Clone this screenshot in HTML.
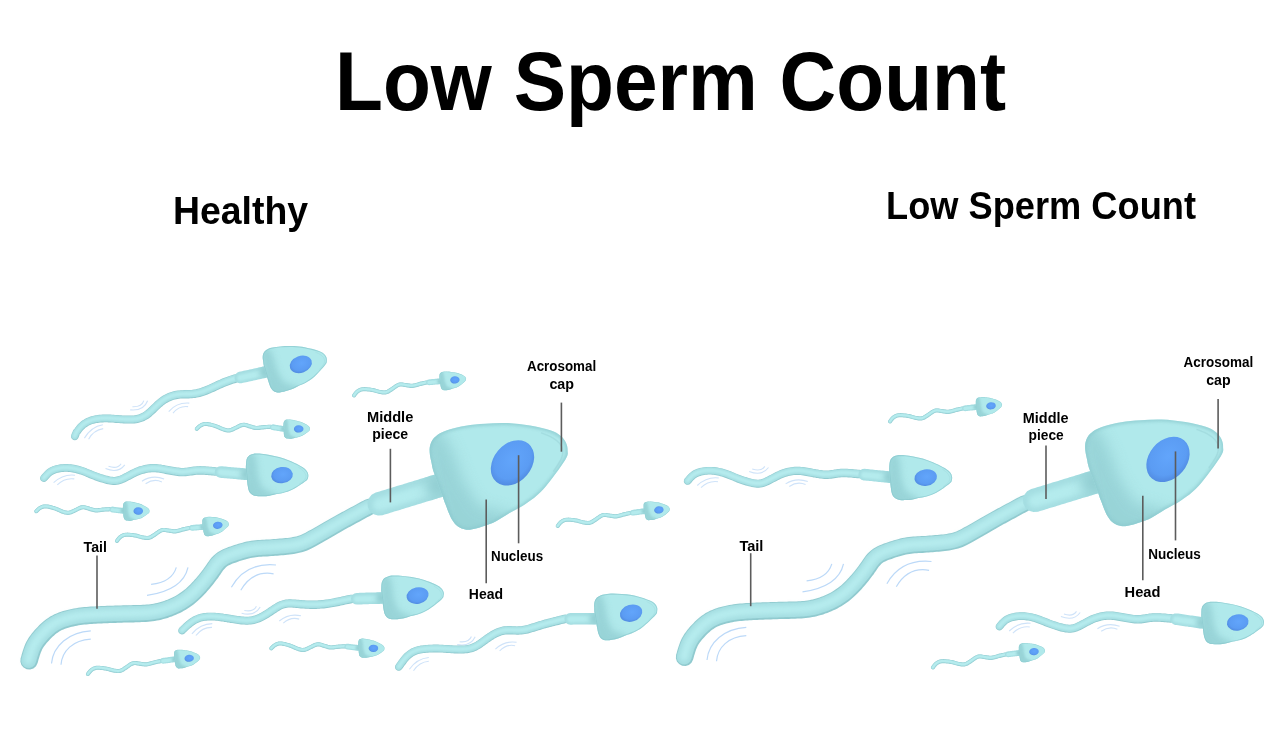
<!DOCTYPE html>
<html><head><meta charset="utf-8"><style>
html,body{margin:0;padding:0;background:#fff;}
body{width:1280px;height:738px;overflow:hidden;position:relative;font-family:"Liberation Sans",sans-serif;}
svg{position:absolute;left:0;top:0;}
.t{position:absolute;white-space:nowrap;font-weight:bold;color:#000;line-height:1;}
.tb{fill:#8fc9ce;}
.tm{fill:#a4dde1;}
.tl{fill:#b6ecee;}
.mb{fill:#a5dee2;}
.ml{fill:#b4ebed;}
.hd{fill:#b0e9eb;}
.nu{fill:url(#ng);}
.ar{fill:none;stroke:#bcd9f8;stroke-width:1.2;}
.ar2{fill:none;stroke:#cfe3f9;stroke-width:1.1;}
.ln{stroke:#5c5c5c;stroke-width:1.6;}
.tx text{font-family:"Liberation Sans",sans-serif;font-weight:bold;fill:#000;}
.tx{opacity:0.999;}
</style></head><body>
<svg width="1280" height="738" viewBox="0 0 1280 738">
<defs>
<radialGradient id="ng" cx="0.55" cy="0.45" r="0.6">
<stop offset="0" stop-color="#62a5fb"/><stop offset="0.7" stop-color="#5b9cf3"/><stop offset="1" stop-color="#4f88de"/>
</radialGradient>
</defs>
<g transform="translate(0,0)">
<path class="ar" d="M151.1,584.3 Q172,582 176.3,567.3"/>
<path class="ar" d="M147,595.4 Q183,590 188,567.3"/>
<path class="ar" d="M231.4,587.2 C240,572 255,563 276,565"/>
<path class="ar" d="M240.8,590.2 C248,578 258,571 273.6,573.8"/>
<path class="ar" d="M51.5,663.5 C53,646 69,632 90.8,630.9"/>
<path class="ar" d="M61,664.8 C62,651 73,640 90.8,639.1"/>
<path class="tb" d="M365.1,499.7 363.3,500.7 361.6,501.6 359.8,502.6 358,503.5 356.3,504.5 354.5,505.4 352.7,506.4 351,507.3 349.2,508.3 347.4,509.3 345.6,510.2 343.9,511.2 342.1,512.1 340.4,513.1 338.6,514.1 336.8,515 335.1,516 333.3,517 331.5,518 329.7,519 328,520 326.2,521 324.4,522 322.7,523 321,524 319.3,525 317.6,526 315.9,527 314.1,527.9 312.4,528.9 310.6,529.9 308.9,530.8 307.2,531.8 305.6,532.7 304,533.5 302.4,534.2 300.9,534.9 299.4,535.5 297.8,536 296.3,536.4 294.6,536.8 293,537.1 291.2,537.4 289.4,537.7 287.6,537.9 285.7,538.1 283.7,538.3 281.8,538.5 279.8,538.6 277.9,538.8 275.9,538.9 273.9,539.1 271.9,539.2 270,539.4 268,539.5 266.1,539.6 264.1,539.7 262.1,539.8 260,539.9 257.9,540 255.7,540.2 253.5,540.5 251.2,540.8 249,541.2 246.9,541.6 244.7,542.1 242.6,542.7 240.6,543.2 238.5,543.8 236.5,544.4 234.5,545.1 232.5,545.7 230.5,546.4 228.5,547.1 226.4,547.9 224.3,548.8 222.1,549.8 219.9,550.9 217.7,552.3 215.5,553.9 213.5,555.7 211.7,557.6 210.1,559.5 208.7,561.4 207.4,563.2 206.3,564.9 205.2,566.5 204.1,568 203.1,569.5 201.9,571 200.8,572.5 199.6,574 198.4,575.4 197.1,576.9 195.9,578.4 194.6,579.8 193.4,581.2 192.1,582.6 190.8,583.9 189.5,585.2 188.2,586.5 186.9,587.7 185.6,588.9 184.2,590 182.9,591.1 181.5,592.1 180,593.1 178.6,594.1 177.1,595 175.5,595.9 174,596.7 172.4,597.5 170.8,598.3 169.1,599 167.5,599.7 165.8,600.3 164.1,601 162.4,601.5 160.7,602.1 159,602.5 157.2,603 155.5,603.3 153.8,603.7 152,604 150.3,604.2 148.5,604.4 146.7,604.6 144.8,604.7 142.9,604.8 141,604.9 139.1,605 137.2,605 135.2,605.1 133.2,605.1 131.2,605.2 129.2,605.2 127.2,605.2 125.1,605.3 123.1,605.3 121.1,605.4 119.1,605.5 117.1,605.5 115.1,605.6 113.1,605.7 111.1,605.7 109.1,605.8 107,605.8 105,605.9 103,606 101,606.1 98.9,606.2 96.9,606.3 94.8,606.4 92.8,606.5 90.7,606.6 88.7,606.8 86.6,606.9 84.5,607.1 82.4,607.3 80.3,607.6 78.2,607.8 76.1,608.2 73.9,608.5 71.7,608.9 69.6,609.4 67.4,609.9 65.3,610.4 63.1,611.1 61,611.7 58.8,612.5 56.7,613.4 54.5,614.3 52.4,615.4 50.2,616.6 48.2,617.9 46.2,619.3 44.3,620.7 42.5,622.2 40.8,623.8 39.2,625.3 37.7,626.9 36.2,628.5 34.7,630.1 33.3,631.7 31.8,633.5 30.4,635.4 29,637.3 27.7,639.4 26.5,641.6 25.4,643.8 24.5,646 23.7,648.2 23,650.3 22.3,652.4 21.7,654.4 21.2,656.4 20.6,658.3 20.4,661.7 21.4,665 23.6,667.6 26.7,669.2 30.1,669.4 33.4,668.4 36,666.2 37.6,663.1 38.1,661.2 38.6,659.3 39.2,657.4 39.7,655.7 40.3,654 40.8,652.4 41.5,651 42.1,649.6 42.8,648.3 43.6,647 44.5,645.7 45.5,644.4 46.6,643.1 47.8,641.7 49,640.4 50.3,639.1 51.5,637.8 52.8,636.5 54.1,635.4 55.3,634.3 56.6,633.3 57.9,632.4 59.2,631.6 60.5,630.8 61.9,630.1 63.4,629.5 65,628.8 66.6,628.3 68.2,627.7 69.9,627.2 71.7,626.8 73.4,626.4 75.2,626 76.9,625.7 78.7,625.3 80.6,625.1 82.4,624.8 84.3,624.6 86.2,624.4 88.1,624.3 90,624.1 92,623.9 93.9,623.8 95.8,623.7 97.8,623.6 99.7,623.5 101.7,623.4 103.7,623.3 105.7,623.2 107.6,623.2 109.6,623.1 111.6,623 113.6,622.9 115.6,622.9 117.6,622.8 119.6,622.7 121.6,622.7 123.6,622.6 125.6,622.5 127.6,622.5 129.6,622.4 131.5,622.4 133.5,622.4 135.6,622.3 137.6,622.3 139.7,622.2 141.7,622.1 143.8,622 146,621.9 148.1,621.7 150.3,621.5 152.5,621.3 154.7,621 156.9,620.6 159,620.2 161.2,619.7 163.4,619.1 165.5,618.5 167.7,617.9 169.7,617.1 171.8,616.4 173.9,615.6 175.9,614.7 177.9,613.8 179.9,612.9 181.9,611.9 183.8,610.8 185.8,609.7 187.7,608.6 189.6,607.3 191.4,606 193.2,604.7 195,603.3 196.7,601.8 198.4,600.3 200,598.8 201.6,597.3 203.1,595.8 204.5,594.2 206,592.7 207.4,591.1 208.8,589.5 210.1,587.9 211.5,586.3 212.8,584.7 214.1,583 215.4,581.3 216.7,579.6 218,577.9 219.2,576.1 220.4,574.4 221.5,572.8 222.5,571.3 223.4,570 224.4,568.9 225.3,567.9 226.2,567.1 227.2,566.3 228.3,565.6 229.6,564.9 231.1,564.3 232.6,563.6 234.3,563 236.1,562.4 237.9,561.7 239.7,561.1 241.5,560.6 243.3,560 245.1,559.5 246.9,559 248.7,558.5 250.5,558.1 252.2,557.8 254,557.5 255.7,557.2 257.4,557 259.2,556.8 261.1,556.7 263,556.6 265,556.5 267,556.4 269.1,556.3 271.1,556.1 273.2,556 275.2,555.8 277.2,555.7 279.2,555.5 281.2,555.3 283.3,555.2 285.3,555 287.4,554.8 289.5,554.5 291.6,554.3 293.8,554 296,553.6 298.2,553.1 300.5,552.6 302.7,552 305,551.2 307.2,550.4 309.3,549.4 311.4,548.4 313.3,547.4 315.2,546.4 317,545.4 318.8,544.4 320.5,543.5 322.3,542.5 324,541.5 325.8,540.5 327.6,539.5 329.3,538.4 331.1,537.4 332.8,536.4 334.5,535.4 336.2,534.4 337.9,533.4 339.7,532.5 341.4,531.5 343.1,530.5 344.8,529.6 346.6,528.6 348.3,527.6 350.1,526.7 351.8,525.7 353.6,524.8 355.3,523.8 357.1,522.8 358.8,521.9 360.6,520.9 362.3,520 364.1,519 365.9,518.1 367.6,517.1 369.4,516.2 371.2,515.2 372.9,514.3 375.4,512.2 376.9,509.4 377.2,506.2 376.3,503.1 374.2,500.6 371.4,499.1 368.2,498.8Z"/>
<path class="tm" d="M365.5,500.5 363.8,501.5 362,502.4 360.2,503.4 358.5,504.3 356.7,505.3 354.9,506.2 353.2,507.2 351.4,508.1 349.6,509.1 347.8,510.1 346.1,511 344.3,512 342.6,512.9 340.8,513.9 339,514.9 337.3,515.8 335.5,516.8 333.7,517.8 332,518.8 330.2,519.8 328.4,520.8 326.7,521.8 324.9,522.8 323.2,523.8 321.4,524.8 319.7,525.8 318,526.8 316.3,527.8 314.6,528.7 312.8,529.7 311.1,530.7 309.4,531.6 307.6,532.6 306,533.5 304.4,534.3 302.8,535.1 301.2,535.7 299.7,536.3 298.1,536.9 296.5,537.3 294.8,537.7 293.1,538 291.3,538.3 289.5,538.6 287.7,538.8 285.8,539 283.8,539.2 281.9,539.4 279.9,539.5 277.9,539.7 276,539.8 274,540 272,540.1 270,540.3 268.1,540.4 266.2,540.5 264.2,540.6 262.2,540.7 260.1,540.8 258,541 255.8,541.2 253.6,541.4 251.4,541.7 249.2,542.1 247.1,542.6 245,543 242.9,543.6 240.8,544.1 238.8,544.7 236.8,545.3 234.8,545.9 232.8,546.6 230.8,547.3 228.8,548 226.8,548.8 224.7,549.6 222.5,550.6 220.4,551.7 218.2,553.1 216.1,554.6 214.2,556.4 212.4,558.2 210.8,560.1 209.4,562 208.2,563.7 207.1,565.4 206,567 204.9,568.6 203.8,570.1 202.7,571.6 201.5,573 200.3,574.5 199.1,576 197.8,577.5 196.6,579 195.3,580.4 194.1,581.8 192.8,583.2 191.5,584.6 190.2,585.9 188.8,587.2 187.5,588.4 186.2,589.6 184.8,590.8 183.4,591.9 182,592.9 180.6,593.9 179.1,594.9 177.5,595.8 176,596.7 174.4,597.5 172.8,598.4 171.1,599.1 169.5,599.9 167.8,600.6 166.1,601.2 164.4,601.8 162.7,602.4 160.9,603 159.2,603.4 157.5,603.9 155.7,604.3 154,604.6 152.2,604.9 150.4,605.2 148.6,605.4 146.7,605.5 144.9,605.7 143,605.8 141.1,605.9 139.1,605.9 137.2,606 135.2,606 133.2,606.1 131.2,606.1 129.2,606.1 127.2,606.2 125.2,606.2 123.1,606.3 121.1,606.3 119.1,606.4 117.1,606.5 115.1,606.5 113.1,606.6 111.1,606.7 109.1,606.7 107.1,606.8 105.1,606.9 103,606.9 101,607 99,607.1 96.9,607.2 94.9,607.3 92.8,607.4 90.8,607.6 88.7,607.7 86.7,607.9 84.6,608.1 82.5,608.3 80.4,608.5 78.3,608.8 76.2,609.1 74.1,609.4 71.9,609.8 69.8,610.3 67.7,610.8 65.5,611.4 63.4,612 61.3,612.6 59.2,613.4 57,614.2 54.9,615.2 52.8,616.2 50.7,617.4 48.7,618.7 46.7,620 44.9,621.5 43.1,623 41.5,624.5 39.9,626 38.4,627.6 36.9,629.1 35.4,630.7 34,632.4 32.5,634.1 31.1,635.9 29.8,637.9 28.5,639.9 27.3,642 26.3,644.2 25.4,646.4 24.6,648.5 23.9,650.6 23.3,652.7 22.7,654.7 22.1,656.6 21.6,658.5 21.3,661.4 22.2,664.2 24.1,666.4 26.6,667.7 29.5,667.9 32.3,667 34.5,665.2 35.8,662.6 36.3,660.7 36.9,658.8 37.4,656.9 38,655.1 38.5,653.4 39.1,651.8 39.8,650.2 40.5,648.8 41.2,647.4 42.1,646 43,644.6 44.1,643.3 45.2,641.9 46.4,640.5 47.7,639.1 48.9,637.8 50.2,636.5 51.6,635.2 52.9,634 54.2,632.9 55.5,631.8 56.8,630.9 58.2,630 59.7,629.2 61.2,628.5 62.7,627.8 64.3,627.1 66,626.5 67.7,626 69.4,625.5 71.2,625 73,624.6 74.8,624.2 76.6,623.8 78.5,623.5 80.3,623.3 82.2,623 84.1,622.8 86,622.6 87.9,622.4 89.9,622.3 91.8,622.1 93.8,622 95.7,621.9 97.7,621.8 99.7,621.7 101.6,621.6 103.6,621.5 105.6,621.4 107.6,621.3 109.6,621.3 111.6,621.2 113.6,621.1 115.6,621.1 117.6,621 119.6,620.9 121.6,620.9 123.6,620.8 125.5,620.7 127.5,620.7 129.5,620.6 131.5,620.6 133.5,620.5 135.5,620.5 137.6,620.5 139.6,620.4 141.7,620.3 143.7,620.2 145.8,620.1 148,619.9 150.1,619.7 152.2,619.5 154.4,619.2 156.5,618.8 158.7,618.4 160.8,617.9 162.9,617.4 165,616.8 167.1,616.1 169.1,615.4 171.2,614.7 173.2,613.9 175.2,613.1 177.2,612.2 179.1,611.3 181.1,610.3 183,609.3 184.9,608.2 186.7,607 188.6,605.8 190.4,604.6 192.2,603.3 193.9,601.9 195.6,600.5 197.2,599 198.8,597.5 200.3,596 201.8,594.5 203.2,593 204.7,591.4 206.1,589.9 207.4,588.3 208.8,586.7 210.1,585.1 211.4,583.5 212.7,581.9 214,580.3 215.3,578.6 216.5,576.8 217.7,575.1 218.9,573.4 220,571.8 221,570.2 222,568.9 223,567.7 224,566.6 225.1,565.7 226.2,564.9 227.5,564.1 228.8,563.3 230.4,562.6 232,562 233.7,561.3 235.5,560.7 237.3,560.1 239.2,559.4 241,558.9 242.8,558.3 244.6,557.8 246.5,557.3 248.3,556.8 250.1,556.4 251.9,556 253.7,555.7 255.5,555.4 257.3,555.2 259.1,555.1 261,554.9 262.9,554.8 264.9,554.7 266.9,554.6 269,554.5 271,554.4 273,554.2 275.1,554.1 277.1,553.9 279.1,553.7 281.1,553.6 283.1,553.4 285.1,553.2 287.2,553 289.3,552.8 291.4,552.5 293.5,552.2 295.6,551.9 297.8,551.4 300,550.9 302.2,550.3 304.4,549.6 306.5,548.7 308.6,547.8 310.6,546.9 312.5,545.9 314.4,544.9 316.2,543.9 317.9,542.9 319.7,541.9 321.4,540.9 323.2,540 325,538.9 326.7,537.9 328.5,536.9 330.2,535.9 331.9,534.9 333.7,533.9 335.4,532.9 337.1,531.9 338.8,530.9 340.5,530 342.3,529 344,528 345.7,527.1 347.5,526.1 349.2,525.1 351,524.2 352.7,523.2 354.5,522.3 356.3,521.3 358,520.4 359.8,519.4 361.5,518.4 363.3,517.5 365,516.5 366.8,515.6 368.6,514.6 370.3,513.7 372.1,512.7 374.2,511 375.4,508.6 375.7,505.9 374.9,503.3 373.2,501.3 370.8,500 368.1,499.7Z"/>
<path class="tl" d="M366.7,502.8 365,503.7 363.2,504.7 361.4,505.6 359.7,506.6 357.9,507.5 356.1,508.5 354.4,509.4 352.6,510.4 350.8,511.4 349.1,512.3 347.3,513.3 345.6,514.2 343.8,515.2 342,516.2 340.3,517.1 338.5,518.1 336.7,519.1 335,520 333.2,521 331.5,522 329.7,523 327.9,524 326.2,525.1 324.5,526.1 322.7,527.1 321,528.1 319.3,529 317.6,530 315.8,531 314.1,532 312.4,532.9 310.6,533.9 308.9,534.9 307.2,535.8 305.5,536.6 303.9,537.4 302.2,538.1 300.5,538.8 298.9,539.3 297.1,539.8 295.4,540.2 293.6,540.6 291.7,540.9 289.9,541.2 288,541.4 286,541.6 284.1,541.8 282.1,542 280.1,542.1 278.2,542.3 276.2,542.4 274.2,542.6 272.2,542.7 270.2,542.9 268.3,543 266.3,543.1 264.3,543.2 262.3,543.3 260.3,543.4 258.2,543.6 256.1,543.7 253.9,544 251.8,544.3 249.7,544.7 247.6,545.1 245.6,545.6 243.5,546.1 241.5,546.6 239.5,547.2 237.5,547.8 235.6,548.4 233.6,549.1 231.7,549.7 229.7,550.4 227.7,551.2 225.7,552 223.7,552.9 221.7,554 219.7,555.3 217.8,556.7 216,558.2 214.3,559.9 212.9,561.7 211.6,563.5 210.4,565.2 209.2,566.9 208.1,568.5 207,570.1 205.9,571.6 204.8,573.2 203.6,574.7 202.3,576.2 201.1,577.7 199.9,579.2 198.6,580.7 197.3,582.2 196,583.6 194.7,585 193.4,586.4 192,587.8 190.7,589.1 189.3,590.4 187.9,591.6 186.5,592.8 185,594 183.6,595.1 182,596.1 180.5,597.1 178.9,598.1 177.3,599 175.6,599.9 174,600.7 172.3,601.5 170.5,602.3 168.8,603 167,603.7 165.3,604.4 163.5,605 161.7,605.5 159.9,606 158.1,606.5 156.3,606.9 154.4,607.2 152.6,607.5 150.7,607.8 148.9,608 147,608.2 145.1,608.3 143.1,608.4 141.2,608.5 139.2,608.6 137.3,608.7 135.3,608.7 133.3,608.7 131.3,608.8 129.3,608.8 127.2,608.9 125.2,608.9 123.2,609 121.2,609 119.2,609.1 117.2,609.2 115.2,609.2 113.2,609.3 111.2,609.3 109.2,609.4 107.2,609.5 105.2,609.6 103.1,609.6 101.1,609.7 99.1,609.8 97.1,609.9 95,610 93,610.1 91,610.3 88.9,610.4 86.9,610.6 84.9,610.8 82.8,611 80.8,611.2 78.7,611.5 76.6,611.8 74.5,612.1 72.5,612.5 70.4,612.9 68.3,613.4 66.3,614 64.2,614.6 62.2,615.2 60.1,615.9 58.1,616.7 56.1,617.6 54.1,618.6 52.1,619.7 50.2,620.9 48.4,622.2 46.6,623.6 44.9,625 43.3,626.5 41.8,627.9 40.3,629.4 38.9,631 37.5,632.5 36.1,634.1 34.7,635.8 33.3,637.5 32.1,639.4 30.9,641.3 29.8,643.3 28.8,645.3 27.9,647.4 27.2,649.4 26.5,651.5 25.9,653.5 25.3,655.4 24.7,657.4 24.2,659.3 24.1,661 24.6,662.6 25.7,663.9 27.2,664.7 28.9,664.9 30.6,664.4 31.9,663.2 32.7,661.7 33.2,659.8 33.7,657.9 34.3,656 34.9,654.1 35.5,652.3 36.1,650.6 36.8,648.9 37.6,647.3 38.4,645.7 39.4,644.2 40.4,642.7 41.5,641.2 42.7,639.8 44,638.4 45.3,636.9 46.6,635.5 48,634.2 49.3,632.8 50.7,631.6 52.1,630.4 53.6,629.2 55,628.2 56.6,627.2 58.1,626.3 59.8,625.5 61.5,624.8 63.2,624.1 65,623.5 66.8,622.9 68.6,622.4 70.4,621.9 72.3,621.4 74.2,621 76.1,620.7 78,620.4 79.9,620.1 81.8,619.8 83.7,619.6 85.7,619.4 87.7,619.2 89.6,619.1 91.6,618.9 93.6,618.8 95.5,618.7 97.5,618.6 99.5,618.5 101.5,618.4 103.5,618.3 105.5,618.2 107.5,618.1 109.5,618.1 111.5,618 113.5,617.9 115.5,617.9 117.5,617.8 119.5,617.7 121.5,617.7 123.5,617.6 125.5,617.5 127.5,617.5 129.4,617.4 131.4,617.4 133.4,617.4 135.5,617.3 137.5,617.3 139.5,617.2 141.5,617.1 143.6,617 145.6,616.9 147.7,616.8 149.8,616.6 151.8,616.3 153.9,616 156,615.7 158,615.3 160.1,614.8 162.1,614.3 164.1,613.7 166.1,613.1 168.1,612.5 170.1,611.7 172,611 173.9,610.2 175.8,609.3 177.7,608.4 179.6,607.5 181.4,606.5 183.2,605.5 185,604.4 186.8,603.2 188.5,602 190.2,600.8 191.9,599.4 193.5,598.1 195.1,596.7 196.6,595.3 198.1,593.8 199.5,592.3 200.9,590.8 202.3,589.3 203.7,587.8 205,586.3 206.4,584.7 207.7,583.1 209,581.6 210.2,580 211.5,578.3 212.7,576.7 214,575 215.1,573.3 216.3,571.6 217.4,570 218.5,568.4 219.6,566.9 220.7,565.6 221.9,564.4 223.1,563.3 224.4,562.3 225.9,561.4 227.5,560.5 229.1,559.8 230.8,559.1 232.6,558.4 234.5,557.7 236.3,557.1 238.2,556.5 240.1,555.9 241.9,555.3 243.8,554.8 245.7,554.3 247.5,553.8 249.4,553.3 251.3,553 253.2,552.6 255,552.3 256.9,552.1 258.8,552 260.8,551.8 262.7,551.7 264.7,551.6 266.7,551.5 268.8,551.4 270.8,551.3 272.8,551.1 274.8,551 276.8,550.8 278.8,550.6 280.8,550.5 282.8,550.3 284.9,550.1 286.9,549.9 288.9,549.7 291,549.5 293,549.2 295.1,548.8 297.2,548.4 299.2,547.9 301.3,547.3 303.4,546.6 305.4,545.9 307.3,545 309.2,544.1 311.1,543.2 312.9,542.2 314.7,541.2 316.4,540.2 318.2,539.2 319.9,538.3 321.7,537.3 323.4,536.3 325.2,535.3 326.9,534.3 328.7,533.2 330.4,532.2 332.1,531.2 333.8,530.2 335.6,529.2 337.3,528.3 339,527.3 340.8,526.3 342.5,525.4 344.3,524.4 346,523.4 347.8,522.5 349.5,521.5 351.3,520.5 353,519.6 354.8,518.6 356.6,517.7 358.3,516.7 360.1,515.8 361.8,514.8 363.6,513.9 365.4,512.9 367.1,512 368.9,511 370.6,510.1 371.9,509 372.6,507.6 372.8,506 372.3,504.5 371.3,503.2 369.9,502.5 368.3,502.3Z" style="filter:blur(2.5px)"/>
<path class="mb" d="M382.6,515.2 384.5,514.6 386.5,514 388.4,513.4 390.3,512.8 392.2,512.2 394.1,511.6 396.1,511.1 398,510.5 399.9,509.9 401.8,509.3 403.7,508.7 405.7,508.1 407.6,507.5 409.5,506.9 411.4,506.3 413.3,505.8 415.3,505.2 417.2,504.6 419.1,504 421,503.4 422.9,502.8 424.9,502.2 426.8,501.6 428.7,501.1 430.6,500.5 432.6,499.9 434.5,499.3 436.4,498.7 438.3,498.1 440.2,497.5 442.2,496.9 446.2,494.8 449.1,491.2 450.4,486.8 450,482.2 447.8,478.1 444.2,475.2 439.8,473.9 435.2,474.4 433.3,475 431.4,475.5 429.5,476.1 427.6,476.7 425.6,477.3 423.7,477.9 421.8,478.5 419.9,479.1 418,479.7 416,480.3 414.1,480.8 412.2,481.4 410.3,482 408.4,482.6 406.4,483.2 404.5,483.8 402.6,484.4 400.7,485 398.7,485.5 396.8,486.1 394.9,486.7 393,487.3 391.1,487.9 389.1,488.5 387.2,489.1 385.3,489.7 383.4,490.3 381.5,490.8 379.5,491.4 377.6,492 375.7,492.6 371.6,494.8 368.7,498.4 367.4,502.8 367.9,507.3 370.1,511.4 373.6,514.3 378,515.6Z"/>
<path class="ml" d="M381.2,510.7 383.2,510.1 385.1,509.5 387,509 388.9,508.4 390.8,507.8 392.8,507.2 394.7,506.6 396.6,506 398.5,505.4 400.5,504.8 402.4,504.2 404.3,503.7 406.2,503.1 408.1,502.5 410.1,501.9 412,501.3 413.9,500.7 415.8,500.1 417.7,499.5 419.7,498.9 421.6,498.4 423.5,497.8 425.4,497.2 427.3,496.6 429.3,496 431.2,495.4 433.1,494.8 435,494.2 436.9,493.7 438.9,493.1 440.8,492.5 443,491.3 444.6,489.3 445.4,486.9 445.1,484.4 443.9,482.1 441.9,480.5 439.5,479.8 437,480.1 435.1,480.7 433.1,481.2 431.2,481.8 429.3,482.4 427.4,483 425.5,483.6 423.5,484.2 421.6,484.8 419.7,485.4 417.8,485.9 415.9,486.5 413.9,487.1 412,487.7 410.1,488.3 408.2,488.9 406.3,489.5 404.3,490.1 402.4,490.7 400.5,491.2 398.6,491.8 396.7,492.4 394.7,493 392.8,493.6 390.9,494.2 389,494.8 387,495.4 385.1,496 383.2,496.5 381.3,497.1 379.4,497.7 377.4,498.3 375.2,499.5 373.6,501.5 372.9,503.9 373.1,506.4 374.3,508.6 376.3,510.2 378.7,511Z" style="filter:blur(2.5px)"/>
<clipPath id="m1"><path d="M382.6,515.2 384.5,514.6 386.5,514 388.4,513.4 390.3,512.8 392.2,512.2 394.1,511.6 396.1,511.1 398,510.5 399.9,509.9 401.8,509.3 403.7,508.7 405.7,508.1 407.6,507.5 409.5,506.9 411.4,506.3 413.3,505.8 415.3,505.2 417.2,504.6 419.1,504 421,503.4 422.9,502.8 424.9,502.2 426.8,501.6 428.7,501.1 430.6,500.5 432.6,499.9 434.5,499.3 436.4,498.7 438.3,498.1 440.2,497.5 442.2,496.9 446.2,494.8 449.1,491.2 450.4,486.8 450,482.2 447.8,478.1 444.2,475.2 439.8,473.9 435.2,474.4 433.3,475 431.4,475.5 429.5,476.1 427.6,476.7 425.6,477.3 423.7,477.9 421.8,478.5 419.9,479.1 418,479.7 416,480.3 414.1,480.8 412.2,481.4 410.3,482 408.4,482.6 406.4,483.2 404.5,483.8 402.6,484.4 400.7,485 398.7,485.5 396.8,486.1 394.9,486.7 393,487.3 391.1,487.9 389.1,488.5 387.2,489.1 385.3,489.7 383.4,490.3 381.5,490.8 379.5,491.4 377.6,492 375.7,492.6 371.6,494.8 368.7,498.4 367.4,502.8 367.9,507.3 370.1,511.4 373.6,514.3 378,515.6Z"/></clipPath>
<g clip-path="url(#m1)"><circle cx="438.7" cy="485.6" r="14" fill="#93cfd3" style="filter:blur(6px)"/></g>
<clipPath id="c2"><path d="M567.6,450.1C567.7,447.2 567,444.9 565.9,442.5C564.7,440.2 563.1,437.7 560.5,435.7C557.9,433.7 555.4,432 550.3,430.3C545.2,428.6 537.3,426.9 530,425.6C522.6,424.4 513.8,423.3 506.3,423C498.8,422.7 491.8,423.3 485,423.8C478.2,424.2 471.6,424.8 465.7,425.7C459.7,426.6 453.7,428.1 449.4,429.4C445,430.7 442.3,431.8 439.6,433.4C436.9,435 434.8,436.9 433.1,439.1C431.5,441.3 430.5,443.9 429.9,446.5C429.4,449.1 429.6,451.9 429.9,454.6C430.2,457.3 430.9,459.7 431.5,462.7C432.2,465.7 432,466.9 433.9,472.5C435.8,478.2 440.9,491.7 442.8,496.8C444.6,502 444.2,501 445.2,503.6C446.2,506.2 447.4,509.5 448.6,512.4C449.8,515.2 451,518.1 452.6,520.5C454.2,522.9 455.8,525.1 458,526.6C460.1,528.1 463.1,529.2 465.5,529.6C467.9,530.1 469.4,529.8 472.3,529.3C475.1,528.8 478.5,528 482.4,526.6C486.4,525.3 491.5,523.5 496,521.2C500.5,518.9 504.6,515.9 509.5,513C514.4,510.2 519.8,508 525.5,504.1C531.1,500.1 536.7,496.6 543.3,489.3C549.9,481.9 561.1,466.5 565.2,460C569.2,453.4 567.4,453 567.6,450.1Z"/></clipPath>
<path class="hd" d="M567.6,450.1C567.7,447.2 567,444.9 565.9,442.5C564.7,440.2 563.1,437.7 560.5,435.7C557.9,433.7 555.4,432 550.3,430.3C545.2,428.6 537.3,426.9 530,425.6C522.6,424.4 513.8,423.3 506.3,423C498.8,422.7 491.8,423.3 485,423.8C478.2,424.2 471.6,424.8 465.7,425.7C459.7,426.6 453.7,428.1 449.4,429.4C445,430.7 442.3,431.8 439.6,433.4C436.9,435 434.8,436.9 433.1,439.1C431.5,441.3 430.5,443.9 429.9,446.5C429.4,449.1 429.6,451.9 429.9,454.6C430.2,457.3 430.9,459.7 431.5,462.7C432.2,465.7 432,466.9 433.9,472.5C435.8,478.2 440.9,491.7 442.8,496.8C444.6,502 444.2,501 445.2,503.6C446.2,506.2 447.4,509.5 448.6,512.4C449.8,515.2 451,518.1 452.6,520.5C454.2,522.9 455.8,525.1 458,526.6C460.1,528.1 463.1,529.2 465.5,529.6C467.9,530.1 469.4,529.8 472.3,529.3C475.1,528.8 478.5,528 482.4,526.6C486.4,525.3 491.5,523.5 496,521.2C500.5,518.9 504.6,515.9 509.5,513C514.4,510.2 519.8,508 525.5,504.1C531.1,500.1 536.7,496.6 543.3,489.3C549.9,481.9 561.1,466.5 565.2,460C569.2,453.4 567.4,453 567.6,450.1Z"/>
<g clip-path="url(#c2)"><path d="M420.9,430.2 442.7,431.7 453.2,452 463.3,480.5 478.9,505.8 510.2,513.5 529.4,531.9 446.3,549.5Z" fill="#93cfd3" style="filter:blur(7px)" opacity="0.8"/>
<path d="M567.6,450.1C567.7,447.2 567,444.9 565.9,442.5C564.7,440.2 563.1,437.7 560.5,435.7C557.9,433.7 555.4,432 550.3,430.3C545.2,428.6 537.3,426.9 530,425.6C522.6,424.4 513.8,423.3 506.3,423C498.8,422.7 491.8,423.3 485,423.8C478.2,424.2 471.6,424.8 465.7,425.7C459.7,426.6 453.7,428.1 449.4,429.4C445,430.7 442.3,431.8 439.6,433.4C436.9,435 434.8,436.9 433.1,439.1C431.5,441.3 430.5,443.9 429.9,446.5C429.4,449.1 429.6,451.9 429.9,454.6C430.2,457.3 430.9,459.7 431.5,462.7C432.2,465.7 432,466.9 433.9,472.5C435.8,478.2 440.9,491.7 442.8,496.8C444.6,502 444.2,501 445.2,503.6C446.2,506.2 447.4,509.5 448.6,512.4C449.8,515.2 451,518.1 452.6,520.5C454.2,522.9 455.8,525.1 458,526.6C460.1,528.1 463.1,529.2 465.5,529.6C467.9,530.1 469.4,529.8 472.3,529.3C475.1,528.8 478.5,528 482.4,526.6C486.4,525.3 491.5,523.5 496,521.2C500.5,518.9 504.6,515.9 509.5,513C514.4,510.2 519.8,508 525.5,504.1C531.1,500.1 536.7,496.6 543.3,489.3C549.9,481.9 561.1,466.5 565.2,460C569.2,453.4 567.4,453 567.6,450.1Z" fill="none" stroke="#8ac8cd" stroke-width="4" style="filter:blur(1.6px)" opacity="0.7"/></g>
<path d="M541.1,432.8C543,433.6 549.2,435.7 552.3,437.6C555.4,439.4 558,441.5 559.8,443.6C561.5,445.7 562.4,447.7 562.7,450.2C563,452.7 563,455.1 561.4,458.6C559.9,462.2 554.8,469.4 553.4,471.6" fill="none" stroke="#98d2d6" stroke-width="1.4" opacity="0.5"/>
<ellipse class="nu" cx="512.5" cy="462.9" rx="25" ry="19" transform="rotate(-50 512.5 462.9)"/>
</g>
<g transform="translate(655.5,-3.5)">
<path class="ar" d="M151.1,584.3 Q172,582 176.3,567.3"/>
<path class="ar" d="M147,595.4 Q183,590 188,567.3"/>
<path class="ar" d="M231.4,587.2 C240,572 255,563 276,565"/>
<path class="ar" d="M240.8,590.2 C248,578 258,571 273.6,573.8"/>
<path class="ar" d="M51.5,663.5 C53,646 69,632 90.8,630.9"/>
<path class="ar" d="M61,664.8 C62,651 73,640 90.8,639.1"/>
<path class="tb" d="M365.1,499.7 363.3,500.7 361.6,501.6 359.8,502.6 358,503.5 356.3,504.5 354.5,505.4 352.7,506.4 351,507.3 349.2,508.3 347.4,509.3 345.6,510.2 343.9,511.2 342.1,512.1 340.4,513.1 338.6,514.1 336.8,515 335.1,516 333.3,517 331.5,518 329.7,519 328,520 326.2,521 324.4,522 322.7,523 321,524 319.3,525 317.6,526 315.9,527 314.1,527.9 312.4,528.9 310.6,529.9 308.9,530.8 307.2,531.8 305.6,532.7 304,533.5 302.4,534.2 300.9,534.9 299.4,535.5 297.8,536 296.3,536.4 294.6,536.8 293,537.1 291.2,537.4 289.4,537.7 287.6,537.9 285.7,538.1 283.7,538.3 281.8,538.5 279.8,538.6 277.9,538.8 275.9,538.9 273.9,539.1 271.9,539.2 270,539.4 268,539.5 266.1,539.6 264.1,539.7 262.1,539.8 260,539.9 257.9,540 255.7,540.2 253.5,540.5 251.2,540.8 249,541.2 246.9,541.6 244.7,542.1 242.6,542.7 240.6,543.2 238.5,543.8 236.5,544.4 234.5,545.1 232.5,545.7 230.5,546.4 228.5,547.1 226.4,547.9 224.3,548.8 222.1,549.8 219.9,550.9 217.7,552.3 215.5,553.9 213.5,555.7 211.7,557.6 210.1,559.5 208.7,561.4 207.4,563.2 206.3,564.9 205.2,566.5 204.1,568 203.1,569.5 201.9,571 200.8,572.5 199.6,574 198.4,575.4 197.1,576.9 195.9,578.4 194.6,579.8 193.4,581.2 192.1,582.6 190.8,583.9 189.5,585.2 188.2,586.5 186.9,587.7 185.6,588.9 184.2,590 182.9,591.1 181.5,592.1 180,593.1 178.6,594.1 177.1,595 175.5,595.9 174,596.7 172.4,597.5 170.8,598.3 169.1,599 167.5,599.7 165.8,600.3 164.1,601 162.4,601.5 160.7,602.1 159,602.5 157.2,603 155.5,603.3 153.8,603.7 152,604 150.3,604.2 148.5,604.4 146.7,604.6 144.8,604.7 142.9,604.8 141,604.9 139.1,605 137.2,605 135.2,605.1 133.2,605.1 131.2,605.2 129.2,605.2 127.2,605.2 125.1,605.3 123.1,605.3 121.1,605.4 119.1,605.5 117.1,605.5 115.1,605.6 113.1,605.7 111.1,605.7 109.1,605.8 107,605.8 105,605.9 103,606 101,606.1 98.9,606.2 96.9,606.3 94.8,606.4 92.8,606.5 90.7,606.6 88.7,606.8 86.6,606.9 84.5,607.1 82.4,607.3 80.3,607.6 78.2,607.8 76.1,608.2 73.9,608.5 71.7,608.9 69.6,609.4 67.4,609.9 65.3,610.4 63.1,611.1 61,611.7 58.8,612.5 56.7,613.4 54.5,614.3 52.4,615.4 50.2,616.6 48.2,617.9 46.2,619.3 44.3,620.7 42.5,622.2 40.8,623.8 39.2,625.3 37.7,626.9 36.2,628.5 34.7,630.1 33.3,631.7 31.8,633.5 30.4,635.4 29,637.3 27.7,639.4 26.5,641.6 25.4,643.8 24.5,646 23.7,648.2 23,650.3 22.3,652.4 21.7,654.4 21.2,656.4 20.6,658.3 20.4,661.7 21.4,665 23.6,667.6 26.7,669.2 30.1,669.4 33.4,668.4 36,666.2 37.6,663.1 38.1,661.2 38.6,659.3 39.2,657.4 39.7,655.7 40.3,654 40.8,652.4 41.5,651 42.1,649.6 42.8,648.3 43.6,647 44.5,645.7 45.5,644.4 46.6,643.1 47.8,641.7 49,640.4 50.3,639.1 51.5,637.8 52.8,636.5 54.1,635.4 55.3,634.3 56.6,633.3 57.9,632.4 59.2,631.6 60.5,630.8 61.9,630.1 63.4,629.5 65,628.8 66.6,628.3 68.2,627.7 69.9,627.2 71.7,626.8 73.4,626.4 75.2,626 76.9,625.7 78.7,625.3 80.6,625.1 82.4,624.8 84.3,624.6 86.2,624.4 88.1,624.3 90,624.1 92,623.9 93.9,623.8 95.8,623.7 97.8,623.6 99.7,623.5 101.7,623.4 103.7,623.3 105.7,623.2 107.6,623.2 109.6,623.1 111.6,623 113.6,622.9 115.6,622.9 117.6,622.8 119.6,622.7 121.6,622.7 123.6,622.6 125.6,622.5 127.6,622.5 129.6,622.4 131.5,622.4 133.5,622.4 135.6,622.3 137.6,622.3 139.7,622.2 141.7,622.1 143.8,622 146,621.9 148.1,621.7 150.3,621.5 152.5,621.3 154.7,621 156.9,620.6 159,620.2 161.2,619.7 163.4,619.1 165.5,618.5 167.7,617.9 169.7,617.1 171.8,616.4 173.9,615.6 175.9,614.7 177.9,613.8 179.9,612.9 181.9,611.9 183.8,610.8 185.8,609.7 187.7,608.6 189.6,607.3 191.4,606 193.2,604.7 195,603.3 196.7,601.8 198.4,600.3 200,598.8 201.6,597.3 203.1,595.8 204.5,594.2 206,592.7 207.4,591.1 208.8,589.5 210.1,587.9 211.5,586.3 212.8,584.7 214.1,583 215.4,581.3 216.7,579.6 218,577.9 219.2,576.1 220.4,574.4 221.5,572.8 222.5,571.3 223.4,570 224.4,568.9 225.3,567.9 226.2,567.1 227.2,566.3 228.3,565.6 229.6,564.9 231.1,564.3 232.6,563.6 234.3,563 236.1,562.4 237.9,561.7 239.7,561.1 241.5,560.6 243.3,560 245.1,559.5 246.9,559 248.7,558.5 250.5,558.1 252.2,557.8 254,557.5 255.7,557.2 257.4,557 259.2,556.8 261.1,556.7 263,556.6 265,556.5 267,556.4 269.1,556.3 271.1,556.1 273.2,556 275.2,555.8 277.2,555.7 279.2,555.5 281.2,555.3 283.3,555.2 285.3,555 287.4,554.8 289.5,554.5 291.6,554.3 293.8,554 296,553.6 298.2,553.1 300.5,552.6 302.7,552 305,551.2 307.2,550.4 309.3,549.4 311.4,548.4 313.3,547.4 315.2,546.4 317,545.4 318.8,544.4 320.5,543.5 322.3,542.5 324,541.5 325.8,540.5 327.6,539.5 329.3,538.4 331.1,537.4 332.8,536.4 334.5,535.4 336.2,534.4 337.9,533.4 339.7,532.5 341.4,531.5 343.1,530.5 344.8,529.6 346.6,528.6 348.3,527.6 350.1,526.7 351.8,525.7 353.6,524.8 355.3,523.8 357.1,522.8 358.8,521.9 360.6,520.9 362.3,520 364.1,519 365.9,518.1 367.6,517.1 369.4,516.2 371.2,515.2 372.9,514.3 375.4,512.2 376.9,509.4 377.2,506.2 376.3,503.1 374.2,500.6 371.4,499.1 368.2,498.8Z"/>
<path class="tm" d="M365.5,500.5 363.8,501.5 362,502.4 360.2,503.4 358.5,504.3 356.7,505.3 354.9,506.2 353.2,507.2 351.4,508.1 349.6,509.1 347.8,510.1 346.1,511 344.3,512 342.6,512.9 340.8,513.9 339,514.9 337.3,515.8 335.5,516.8 333.7,517.8 332,518.8 330.2,519.8 328.4,520.8 326.7,521.8 324.9,522.8 323.2,523.8 321.4,524.8 319.7,525.8 318,526.8 316.3,527.8 314.6,528.7 312.8,529.7 311.1,530.7 309.4,531.6 307.6,532.6 306,533.5 304.4,534.3 302.8,535.1 301.2,535.7 299.7,536.3 298.1,536.9 296.5,537.3 294.8,537.7 293.1,538 291.3,538.3 289.5,538.6 287.7,538.8 285.8,539 283.8,539.2 281.9,539.4 279.9,539.5 277.9,539.7 276,539.8 274,540 272,540.1 270,540.3 268.1,540.4 266.2,540.5 264.2,540.6 262.2,540.7 260.1,540.8 258,541 255.8,541.2 253.6,541.4 251.4,541.7 249.2,542.1 247.1,542.6 245,543 242.9,543.6 240.8,544.1 238.8,544.7 236.8,545.3 234.8,545.9 232.8,546.6 230.8,547.3 228.8,548 226.8,548.8 224.7,549.6 222.5,550.6 220.4,551.7 218.2,553.1 216.1,554.6 214.2,556.4 212.4,558.2 210.8,560.1 209.4,562 208.2,563.7 207.1,565.4 206,567 204.9,568.6 203.8,570.1 202.7,571.6 201.5,573 200.3,574.5 199.1,576 197.8,577.5 196.6,579 195.3,580.4 194.1,581.8 192.8,583.2 191.5,584.6 190.2,585.9 188.8,587.2 187.5,588.4 186.2,589.6 184.8,590.8 183.4,591.9 182,592.9 180.6,593.9 179.1,594.9 177.5,595.8 176,596.7 174.4,597.5 172.8,598.4 171.1,599.1 169.5,599.9 167.8,600.6 166.1,601.2 164.4,601.8 162.7,602.4 160.9,603 159.2,603.4 157.5,603.9 155.7,604.3 154,604.6 152.2,604.9 150.4,605.2 148.6,605.4 146.7,605.5 144.9,605.7 143,605.8 141.1,605.9 139.1,605.9 137.2,606 135.2,606 133.2,606.1 131.2,606.1 129.2,606.1 127.2,606.2 125.2,606.2 123.1,606.3 121.1,606.3 119.1,606.4 117.1,606.5 115.1,606.5 113.1,606.6 111.1,606.7 109.1,606.7 107.1,606.8 105.1,606.9 103,606.9 101,607 99,607.1 96.9,607.2 94.9,607.3 92.8,607.4 90.8,607.6 88.7,607.7 86.7,607.9 84.6,608.1 82.5,608.3 80.4,608.5 78.3,608.8 76.2,609.1 74.1,609.4 71.9,609.8 69.8,610.3 67.7,610.8 65.5,611.4 63.4,612 61.3,612.6 59.2,613.4 57,614.2 54.9,615.2 52.8,616.2 50.7,617.4 48.7,618.7 46.7,620 44.9,621.5 43.1,623 41.5,624.5 39.9,626 38.4,627.6 36.9,629.1 35.4,630.7 34,632.4 32.5,634.1 31.1,635.9 29.8,637.9 28.5,639.9 27.3,642 26.3,644.2 25.4,646.4 24.6,648.5 23.9,650.6 23.3,652.7 22.7,654.7 22.1,656.6 21.6,658.5 21.3,661.4 22.2,664.2 24.1,666.4 26.6,667.7 29.5,667.9 32.3,667 34.5,665.2 35.8,662.6 36.3,660.7 36.9,658.8 37.4,656.9 38,655.1 38.5,653.4 39.1,651.8 39.8,650.2 40.5,648.8 41.2,647.4 42.1,646 43,644.6 44.1,643.3 45.2,641.9 46.4,640.5 47.7,639.1 48.9,637.8 50.2,636.5 51.6,635.2 52.9,634 54.2,632.9 55.5,631.8 56.8,630.9 58.2,630 59.7,629.2 61.2,628.5 62.7,627.8 64.3,627.1 66,626.5 67.7,626 69.4,625.5 71.2,625 73,624.6 74.8,624.2 76.6,623.8 78.5,623.5 80.3,623.3 82.2,623 84.1,622.8 86,622.6 87.9,622.4 89.9,622.3 91.8,622.1 93.8,622 95.7,621.9 97.7,621.8 99.7,621.7 101.6,621.6 103.6,621.5 105.6,621.4 107.6,621.3 109.6,621.3 111.6,621.2 113.6,621.1 115.6,621.1 117.6,621 119.6,620.9 121.6,620.9 123.6,620.8 125.5,620.7 127.5,620.7 129.5,620.6 131.5,620.6 133.5,620.5 135.5,620.5 137.6,620.5 139.6,620.4 141.7,620.3 143.7,620.2 145.8,620.1 148,619.9 150.1,619.7 152.2,619.5 154.4,619.2 156.5,618.8 158.7,618.4 160.8,617.9 162.9,617.4 165,616.8 167.1,616.1 169.1,615.4 171.2,614.7 173.2,613.9 175.2,613.1 177.2,612.2 179.1,611.3 181.1,610.3 183,609.3 184.9,608.2 186.7,607 188.6,605.8 190.4,604.6 192.2,603.3 193.9,601.9 195.6,600.5 197.2,599 198.8,597.5 200.3,596 201.8,594.5 203.2,593 204.7,591.4 206.1,589.9 207.4,588.3 208.8,586.7 210.1,585.1 211.4,583.5 212.7,581.9 214,580.3 215.3,578.6 216.5,576.8 217.7,575.1 218.9,573.4 220,571.8 221,570.2 222,568.9 223,567.7 224,566.6 225.1,565.7 226.2,564.9 227.5,564.1 228.8,563.3 230.4,562.6 232,562 233.7,561.3 235.5,560.7 237.3,560.1 239.2,559.4 241,558.9 242.8,558.3 244.6,557.8 246.5,557.3 248.3,556.8 250.1,556.4 251.9,556 253.7,555.7 255.5,555.4 257.3,555.2 259.1,555.1 261,554.9 262.9,554.8 264.9,554.7 266.9,554.6 269,554.5 271,554.4 273,554.2 275.1,554.1 277.1,553.9 279.1,553.7 281.1,553.6 283.1,553.4 285.1,553.2 287.2,553 289.3,552.8 291.4,552.5 293.5,552.2 295.6,551.9 297.8,551.4 300,550.9 302.2,550.3 304.4,549.6 306.5,548.7 308.6,547.8 310.6,546.9 312.5,545.9 314.4,544.9 316.2,543.9 317.9,542.9 319.7,541.9 321.4,540.9 323.2,540 325,538.9 326.7,537.9 328.5,536.9 330.2,535.9 331.9,534.9 333.7,533.9 335.4,532.9 337.1,531.9 338.8,530.9 340.5,530 342.3,529 344,528 345.7,527.1 347.5,526.1 349.2,525.1 351,524.2 352.7,523.2 354.5,522.3 356.3,521.3 358,520.4 359.8,519.4 361.5,518.4 363.3,517.5 365,516.5 366.8,515.6 368.6,514.6 370.3,513.7 372.1,512.7 374.2,511 375.4,508.6 375.7,505.9 374.9,503.3 373.2,501.3 370.8,500 368.1,499.7Z"/>
<path class="tl" d="M366.7,502.8 365,503.7 363.2,504.7 361.4,505.6 359.7,506.6 357.9,507.5 356.1,508.5 354.4,509.4 352.6,510.4 350.8,511.4 349.1,512.3 347.3,513.3 345.6,514.2 343.8,515.2 342,516.2 340.3,517.1 338.5,518.1 336.7,519.1 335,520 333.2,521 331.5,522 329.7,523 327.9,524 326.2,525.1 324.5,526.1 322.7,527.1 321,528.1 319.3,529 317.6,530 315.8,531 314.1,532 312.4,532.9 310.6,533.9 308.9,534.9 307.2,535.8 305.5,536.6 303.9,537.4 302.2,538.1 300.5,538.8 298.9,539.3 297.1,539.8 295.4,540.2 293.6,540.6 291.7,540.9 289.9,541.2 288,541.4 286,541.6 284.1,541.8 282.1,542 280.1,542.1 278.2,542.3 276.2,542.4 274.2,542.6 272.2,542.7 270.2,542.9 268.3,543 266.3,543.1 264.3,543.2 262.3,543.3 260.3,543.4 258.2,543.6 256.1,543.7 253.9,544 251.8,544.3 249.7,544.7 247.6,545.1 245.6,545.6 243.5,546.1 241.5,546.6 239.5,547.2 237.5,547.8 235.6,548.4 233.6,549.1 231.7,549.7 229.7,550.4 227.7,551.2 225.7,552 223.7,552.9 221.7,554 219.7,555.3 217.8,556.7 216,558.2 214.3,559.9 212.9,561.7 211.6,563.5 210.4,565.2 209.2,566.9 208.1,568.5 207,570.1 205.9,571.6 204.8,573.2 203.6,574.7 202.3,576.2 201.1,577.7 199.9,579.2 198.6,580.7 197.3,582.2 196,583.6 194.7,585 193.4,586.4 192,587.8 190.7,589.1 189.3,590.4 187.9,591.6 186.5,592.8 185,594 183.6,595.1 182,596.1 180.5,597.1 178.9,598.1 177.3,599 175.6,599.9 174,600.7 172.3,601.5 170.5,602.3 168.8,603 167,603.7 165.3,604.4 163.5,605 161.7,605.5 159.9,606 158.1,606.5 156.3,606.9 154.4,607.2 152.6,607.5 150.7,607.8 148.9,608 147,608.2 145.1,608.3 143.1,608.4 141.2,608.5 139.2,608.6 137.3,608.7 135.3,608.7 133.3,608.7 131.3,608.8 129.3,608.8 127.2,608.9 125.2,608.9 123.2,609 121.2,609 119.2,609.1 117.2,609.2 115.2,609.2 113.2,609.3 111.2,609.3 109.2,609.4 107.2,609.5 105.2,609.6 103.1,609.6 101.1,609.7 99.1,609.8 97.1,609.9 95,610 93,610.1 91,610.3 88.9,610.4 86.9,610.6 84.9,610.8 82.8,611 80.8,611.2 78.7,611.5 76.6,611.8 74.5,612.1 72.5,612.5 70.4,612.9 68.3,613.4 66.3,614 64.2,614.6 62.2,615.2 60.1,615.9 58.1,616.7 56.1,617.6 54.1,618.6 52.1,619.7 50.2,620.9 48.4,622.2 46.6,623.6 44.9,625 43.3,626.5 41.8,627.9 40.3,629.4 38.9,631 37.5,632.5 36.1,634.1 34.7,635.8 33.3,637.5 32.1,639.4 30.9,641.3 29.8,643.3 28.8,645.3 27.9,647.4 27.2,649.4 26.5,651.5 25.9,653.5 25.3,655.4 24.7,657.4 24.2,659.3 24.1,661 24.6,662.6 25.7,663.9 27.2,664.7 28.9,664.9 30.6,664.4 31.9,663.2 32.7,661.7 33.2,659.8 33.7,657.9 34.3,656 34.9,654.1 35.5,652.3 36.1,650.6 36.8,648.9 37.6,647.3 38.4,645.7 39.4,644.2 40.4,642.7 41.5,641.2 42.7,639.8 44,638.4 45.3,636.9 46.6,635.5 48,634.2 49.3,632.8 50.7,631.6 52.1,630.4 53.6,629.2 55,628.2 56.6,627.2 58.1,626.3 59.8,625.5 61.5,624.8 63.2,624.1 65,623.5 66.8,622.9 68.6,622.4 70.4,621.9 72.3,621.4 74.2,621 76.1,620.7 78,620.4 79.9,620.1 81.8,619.8 83.7,619.6 85.7,619.4 87.7,619.2 89.6,619.1 91.6,618.9 93.6,618.8 95.5,618.7 97.5,618.6 99.5,618.5 101.5,618.4 103.5,618.3 105.5,618.2 107.5,618.1 109.5,618.1 111.5,618 113.5,617.9 115.5,617.9 117.5,617.8 119.5,617.7 121.5,617.7 123.5,617.6 125.5,617.5 127.5,617.5 129.4,617.4 131.4,617.4 133.4,617.4 135.5,617.3 137.5,617.3 139.5,617.2 141.5,617.1 143.6,617 145.6,616.9 147.7,616.8 149.8,616.6 151.8,616.3 153.9,616 156,615.7 158,615.3 160.1,614.8 162.1,614.3 164.1,613.7 166.1,613.1 168.1,612.5 170.1,611.7 172,611 173.9,610.2 175.8,609.3 177.7,608.4 179.6,607.5 181.4,606.5 183.2,605.5 185,604.4 186.8,603.2 188.5,602 190.2,600.8 191.9,599.4 193.5,598.1 195.1,596.7 196.6,595.3 198.1,593.8 199.5,592.3 200.9,590.8 202.3,589.3 203.7,587.8 205,586.3 206.4,584.7 207.7,583.1 209,581.6 210.2,580 211.5,578.3 212.7,576.7 214,575 215.1,573.3 216.3,571.6 217.4,570 218.5,568.4 219.6,566.9 220.7,565.6 221.9,564.4 223.1,563.3 224.4,562.3 225.9,561.4 227.5,560.5 229.1,559.8 230.8,559.1 232.6,558.4 234.5,557.7 236.3,557.1 238.2,556.5 240.1,555.9 241.9,555.3 243.8,554.8 245.7,554.3 247.5,553.8 249.4,553.3 251.3,553 253.2,552.6 255,552.3 256.9,552.1 258.8,552 260.8,551.8 262.7,551.7 264.7,551.6 266.7,551.5 268.8,551.4 270.8,551.3 272.8,551.1 274.8,551 276.8,550.8 278.8,550.6 280.8,550.5 282.8,550.3 284.9,550.1 286.9,549.9 288.9,549.7 291,549.5 293,549.2 295.1,548.8 297.2,548.4 299.2,547.9 301.3,547.3 303.4,546.6 305.4,545.9 307.3,545 309.2,544.1 311.1,543.2 312.9,542.2 314.7,541.2 316.4,540.2 318.2,539.2 319.9,538.3 321.7,537.3 323.4,536.3 325.2,535.3 326.9,534.3 328.7,533.2 330.4,532.2 332.1,531.2 333.8,530.2 335.6,529.2 337.3,528.3 339,527.3 340.8,526.3 342.5,525.4 344.3,524.4 346,523.4 347.8,522.5 349.5,521.5 351.3,520.5 353,519.6 354.8,518.6 356.6,517.7 358.3,516.7 360.1,515.8 361.8,514.8 363.6,513.9 365.4,512.9 367.1,512 368.9,511 370.6,510.1 371.9,509 372.6,507.6 372.8,506 372.3,504.5 371.3,503.2 369.9,502.5 368.3,502.3Z" style="filter:blur(2.5px)"/>
<path class="mb" d="M382.6,515.2 384.5,514.6 386.5,514 388.4,513.4 390.3,512.8 392.2,512.2 394.1,511.6 396.1,511.1 398,510.5 399.9,509.9 401.8,509.3 403.7,508.7 405.7,508.1 407.6,507.5 409.5,506.9 411.4,506.3 413.3,505.8 415.3,505.2 417.2,504.6 419.1,504 421,503.4 422.9,502.8 424.9,502.2 426.8,501.6 428.7,501.1 430.6,500.5 432.6,499.9 434.5,499.3 436.4,498.7 438.3,498.1 440.2,497.5 442.2,496.9 446.2,494.8 449.1,491.2 450.4,486.8 450,482.2 447.8,478.1 444.2,475.2 439.8,473.9 435.2,474.4 433.3,475 431.4,475.5 429.5,476.1 427.6,476.7 425.6,477.3 423.7,477.9 421.8,478.5 419.9,479.1 418,479.7 416,480.3 414.1,480.8 412.2,481.4 410.3,482 408.4,482.6 406.4,483.2 404.5,483.8 402.6,484.4 400.7,485 398.7,485.5 396.8,486.1 394.9,486.7 393,487.3 391.1,487.9 389.1,488.5 387.2,489.1 385.3,489.7 383.4,490.3 381.5,490.8 379.5,491.4 377.6,492 375.7,492.6 371.6,494.8 368.7,498.4 367.4,502.8 367.9,507.3 370.1,511.4 373.6,514.3 378,515.6Z"/>
<path class="ml" d="M381.2,510.7 383.2,510.1 385.1,509.5 387,509 388.9,508.4 390.8,507.8 392.8,507.2 394.7,506.6 396.6,506 398.5,505.4 400.5,504.8 402.4,504.2 404.3,503.7 406.2,503.1 408.1,502.5 410.1,501.9 412,501.3 413.9,500.7 415.8,500.1 417.7,499.5 419.7,498.9 421.6,498.4 423.5,497.8 425.4,497.2 427.3,496.6 429.3,496 431.2,495.4 433.1,494.8 435,494.2 436.9,493.7 438.9,493.1 440.8,492.5 443,491.3 444.6,489.3 445.4,486.9 445.1,484.4 443.9,482.1 441.9,480.5 439.5,479.8 437,480.1 435.1,480.7 433.1,481.2 431.2,481.8 429.3,482.4 427.4,483 425.5,483.6 423.5,484.2 421.6,484.8 419.7,485.4 417.8,485.9 415.9,486.5 413.9,487.1 412,487.7 410.1,488.3 408.2,488.9 406.3,489.5 404.3,490.1 402.4,490.7 400.5,491.2 398.6,491.8 396.7,492.4 394.7,493 392.8,493.6 390.9,494.2 389,494.8 387,495.4 385.1,496 383.2,496.5 381.3,497.1 379.4,497.7 377.4,498.3 375.2,499.5 373.6,501.5 372.9,503.9 373.1,506.4 374.3,508.6 376.3,510.2 378.7,511Z" style="filter:blur(2.5px)"/>
<clipPath id="m3"><path d="M382.6,515.2 384.5,514.6 386.5,514 388.4,513.4 390.3,512.8 392.2,512.2 394.1,511.6 396.1,511.1 398,510.5 399.9,509.9 401.8,509.3 403.7,508.7 405.7,508.1 407.6,507.5 409.5,506.9 411.4,506.3 413.3,505.8 415.3,505.2 417.2,504.6 419.1,504 421,503.4 422.9,502.8 424.9,502.2 426.8,501.6 428.7,501.1 430.6,500.5 432.6,499.9 434.5,499.3 436.4,498.7 438.3,498.1 440.2,497.5 442.2,496.9 446.2,494.8 449.1,491.2 450.4,486.8 450,482.2 447.8,478.1 444.2,475.2 439.8,473.9 435.2,474.4 433.3,475 431.4,475.5 429.5,476.1 427.6,476.7 425.6,477.3 423.7,477.9 421.8,478.5 419.9,479.1 418,479.7 416,480.3 414.1,480.8 412.2,481.4 410.3,482 408.4,482.6 406.4,483.2 404.5,483.8 402.6,484.4 400.7,485 398.7,485.5 396.8,486.1 394.9,486.7 393,487.3 391.1,487.9 389.1,488.5 387.2,489.1 385.3,489.7 383.4,490.3 381.5,490.8 379.5,491.4 377.6,492 375.7,492.6 371.6,494.8 368.7,498.4 367.4,502.8 367.9,507.3 370.1,511.4 373.6,514.3 378,515.6Z"/></clipPath>
<g clip-path="url(#m3)"><circle cx="438.7" cy="485.6" r="14" fill="#93cfd3" style="filter:blur(6px)"/></g>
<clipPath id="c4"><path d="M567.6,450.1C567.7,447.2 567,444.9 565.9,442.5C564.7,440.2 563.1,437.7 560.5,435.7C557.9,433.7 555.4,432 550.3,430.3C545.2,428.6 537.3,426.9 530,425.6C522.6,424.4 513.8,423.3 506.3,423C498.8,422.7 491.8,423.3 485,423.8C478.2,424.2 471.6,424.8 465.7,425.7C459.7,426.6 453.7,428.1 449.4,429.4C445,430.7 442.3,431.8 439.6,433.4C436.9,435 434.8,436.9 433.1,439.1C431.5,441.3 430.5,443.9 429.9,446.5C429.4,449.1 429.6,451.9 429.9,454.6C430.2,457.3 430.9,459.7 431.5,462.7C432.2,465.7 432,466.9 433.9,472.5C435.8,478.2 440.9,491.7 442.8,496.8C444.6,502 444.2,501 445.2,503.6C446.2,506.2 447.4,509.5 448.6,512.4C449.8,515.2 451,518.1 452.6,520.5C454.2,522.9 455.8,525.1 458,526.6C460.1,528.1 463.1,529.2 465.5,529.6C467.9,530.1 469.4,529.8 472.3,529.3C475.1,528.8 478.5,528 482.4,526.6C486.4,525.3 491.5,523.5 496,521.2C500.5,518.9 504.6,515.9 509.5,513C514.4,510.2 519.8,508 525.5,504.1C531.1,500.1 536.7,496.6 543.3,489.3C549.9,481.9 561.1,466.5 565.2,460C569.2,453.4 567.4,453 567.6,450.1Z"/></clipPath>
<path class="hd" d="M567.6,450.1C567.7,447.2 567,444.9 565.9,442.5C564.7,440.2 563.1,437.7 560.5,435.7C557.9,433.7 555.4,432 550.3,430.3C545.2,428.6 537.3,426.9 530,425.6C522.6,424.4 513.8,423.3 506.3,423C498.8,422.7 491.8,423.3 485,423.8C478.2,424.2 471.6,424.8 465.7,425.7C459.7,426.6 453.7,428.1 449.4,429.4C445,430.7 442.3,431.8 439.6,433.4C436.9,435 434.8,436.9 433.1,439.1C431.5,441.3 430.5,443.9 429.9,446.5C429.4,449.1 429.6,451.9 429.9,454.6C430.2,457.3 430.9,459.7 431.5,462.7C432.2,465.7 432,466.9 433.9,472.5C435.8,478.2 440.9,491.7 442.8,496.8C444.6,502 444.2,501 445.2,503.6C446.2,506.2 447.4,509.5 448.6,512.4C449.8,515.2 451,518.1 452.6,520.5C454.2,522.9 455.8,525.1 458,526.6C460.1,528.1 463.1,529.2 465.5,529.6C467.9,530.1 469.4,529.8 472.3,529.3C475.1,528.8 478.5,528 482.4,526.6C486.4,525.3 491.5,523.5 496,521.2C500.5,518.9 504.6,515.9 509.5,513C514.4,510.2 519.8,508 525.5,504.1C531.1,500.1 536.7,496.6 543.3,489.3C549.9,481.9 561.1,466.5 565.2,460C569.2,453.4 567.4,453 567.6,450.1Z"/>
<g clip-path="url(#c4)"><path d="M420.9,430.2 442.7,431.7 453.2,452 463.3,480.5 478.9,505.8 510.2,513.5 529.4,531.9 446.3,549.5Z" fill="#93cfd3" style="filter:blur(7px)" opacity="0.8"/>
<path d="M567.6,450.1C567.7,447.2 567,444.9 565.9,442.5C564.7,440.2 563.1,437.7 560.5,435.7C557.9,433.7 555.4,432 550.3,430.3C545.2,428.6 537.3,426.9 530,425.6C522.6,424.4 513.8,423.3 506.3,423C498.8,422.7 491.8,423.3 485,423.8C478.2,424.2 471.6,424.8 465.7,425.7C459.7,426.6 453.7,428.1 449.4,429.4C445,430.7 442.3,431.8 439.6,433.4C436.9,435 434.8,436.9 433.1,439.1C431.5,441.3 430.5,443.9 429.9,446.5C429.4,449.1 429.6,451.9 429.9,454.6C430.2,457.3 430.9,459.7 431.5,462.7C432.2,465.7 432,466.9 433.9,472.5C435.8,478.2 440.9,491.7 442.8,496.8C444.6,502 444.2,501 445.2,503.6C446.2,506.2 447.4,509.5 448.6,512.4C449.8,515.2 451,518.1 452.6,520.5C454.2,522.9 455.8,525.1 458,526.6C460.1,528.1 463.1,529.2 465.5,529.6C467.9,530.1 469.4,529.8 472.3,529.3C475.1,528.8 478.5,528 482.4,526.6C486.4,525.3 491.5,523.5 496,521.2C500.5,518.9 504.6,515.9 509.5,513C514.4,510.2 519.8,508 525.5,504.1C531.1,500.1 536.7,496.6 543.3,489.3C549.9,481.9 561.1,466.5 565.2,460C569.2,453.4 567.4,453 567.6,450.1Z" fill="none" stroke="#8ac8cd" stroke-width="4" style="filter:blur(1.6px)" opacity="0.7"/></g>
<path d="M541.1,432.8C543,433.6 549.2,435.7 552.3,437.6C555.4,439.4 558,441.5 559.8,443.6C561.5,445.7 562.4,447.7 562.7,450.2C563,452.7 563,455.1 561.4,458.6C559.9,462.2 554.8,469.4 553.4,471.6" fill="none" stroke="#98d2d6" stroke-width="1.4" opacity="0.5"/>
<ellipse class="nu" cx="512.5" cy="462.9" rx="25" ry="19" transform="rotate(-50 512.5 462.9)"/>
</g>
<path class="ar2" d="M105.5,468.6 Q118.1,473.7 124.8,464.8"/>
<path class="ar2" d="M108.5,466.3 Q117.4,469.3 121.1,463.7"/>
<path class="ar2" d="M141.9,481.2 Q152.3,474.5 164.1,478.9"/>
<path class="ar2" d="M145.6,483.8 Q153.7,478.2 161.9,481.9"/>
<path class="ar2" d="M53.6,482.7 Q63.2,473.7 75.1,475.2"/>
<path class="ar2" d="M57.3,484.9 Q64.7,477.5 74.3,478.9"/>
<path class="tb" d="M215.7,467.2 214.2,467.1 212.7,466.9 211.2,466.8 209.7,466.7 208.2,466.5 206.7,466.4 205.1,466.3 203.5,466.2 201.9,466.2 200.3,466.1 198.7,466.2 197.1,466.2 195.4,466.4 193.8,466.5 192.2,466.8 190.7,467 189.2,467.2 187.8,467.5 186.4,467.7 185.1,467.8 183.8,467.9 182.5,467.9 181.2,467.9 179.8,467.8 178.5,467.6 177.1,467.5 175.7,467.2 174.2,467 172.8,466.7 171.3,466.5 169.8,466.2 168.4,466 166.9,465.7 165.4,465.4 163.9,465.1 162.4,464.9 160.8,464.6 159.2,464.4 157.6,464.2 156,464.1 154.3,464 152.7,464 151,464.1 149.3,464.3 147.7,464.5 146.1,464.8 144.5,465.1 142.9,465.4 141.3,465.9 139.8,466.3 138.2,466.8 136.7,467.4 135.2,468 133.7,468.7 132.2,469.4 130.8,470.1 129.5,470.8 128.2,471.5 126.8,472.2 125.5,472.9 124.2,473.6 122.9,474.2 121.6,474.9 120.4,475.4 119.2,475.9 118,476.3 116.9,476.6 115.8,476.8 114.7,476.9 113.5,476.9 112.3,476.8 111,476.7 109.7,476.4 108.4,476.1 107,475.8 105.6,475.4 104.2,475 102.9,474.6 101.5,474.2 100.1,473.7 98.7,473.2 97.4,472.7 96,472.2 94.7,471.7 93.3,471.2 91.9,470.6 90.5,470 89.1,469.4 87.7,468.9 86.3,468.3 84.8,467.7 83.3,467.2 81.8,466.7 80.3,466.2 78.7,465.8 77.2,465.4 75.6,465.1 74,464.8 72.4,464.5 70.8,464.3 69.2,464.2 67.5,464.1 65.9,464 64.2,464.1 62.6,464.2 60.9,464.3 59.3,464.6 57.7,464.9 56,465.2 54.4,465.7 52.8,466.3 51.1,466.9 49.5,467.8 48,468.7 46.6,469.8 45.3,471 44.1,472.2 43,473.4 42,474.6 41,475.8 40.3,477.1 40.1,478.5 40.5,480 41.5,481.1 42.8,481.8 44.2,482 45.7,481.6 46.8,480.6 47.8,479.5 48.7,478.4 49.6,477.4 50.5,476.5 51.4,475.7 52.4,475 53.3,474.4 54.4,473.9 55.5,473.4 56.7,473 57.9,472.7 59.2,472.4 60.5,472.2 61.8,472 63.2,471.9 64.5,471.8 65.9,471.8 67.2,471.8 68.6,471.9 69.9,472 71.3,472.2 72.6,472.4 74,472.7 75.4,473 76.7,473.4 78.1,473.7 79.4,474.2 80.7,474.6 82.1,475.1 83.4,475.6 84.8,476.1 86.1,476.7 87.5,477.3 88.9,477.9 90.3,478.5 91.7,479 93.2,479.6 94.6,480.2 96.1,480.7 97.5,481.2 99,481.7 100.5,482.2 102,482.6 103.5,483.1 105,483.5 106.5,483.9 108.1,484.3 109.8,484.6 111.4,484.8 113.2,484.9 115,484.9 116.8,484.8 118.6,484.5 120.4,484 122,483.5 123.6,482.8 125.1,482.2 126.5,481.5 127.9,480.8 129.2,480.1 130.6,479.4 131.9,478.7 133.3,478 134.6,477.3 135.8,476.7 137.1,476.1 138.4,475.5 139.6,475 140.9,474.6 142.2,474.1 143.5,473.8 144.8,473.4 146.2,473.1 147.5,472.8 148.9,472.6 150.2,472.5 151.5,472.3 152.8,472.3 154.2,472.3 155.5,472.3 156.8,472.5 158.2,472.6 159.6,472.8 161,473.1 162.4,473.3 163.9,473.6 165.3,473.9 166.8,474.2 168.3,474.4 169.8,474.7 171.3,475 172.8,475.2 174.3,475.5 175.9,475.7 177.4,476 179.1,476.2 180.7,476.3 182.4,476.3 184.1,476.3 185.8,476.2 187.4,476 189,475.8 190.5,475.6 192,475.4 193.5,475.2 194.9,475 196.2,474.8 197.6,474.7 198.9,474.7 200.3,474.7 201.7,474.7 203.1,474.7 204.5,474.8 206,474.9 207.5,475.1 208.9,475.2 210.4,475.3 211.9,475.5 213.4,475.6 214.9,475.8 216.6,475.6 218.1,474.8 219.1,473.5 219.6,471.9 219.4,470.2 218.6,468.7 217.3,467.7Z"/>
<path class="tm" d="M215.6,467.7 214.2,467.6 212.7,467.4 211.2,467.3 209.7,467.1 208.1,467 206.6,466.9 205.1,466.8 203.5,466.7 201.9,466.6 200.3,466.6 198.7,466.6 197.1,466.7 195.5,466.8 193.9,467 192.3,467.2 190.8,467.5 189.3,467.7 187.9,467.9 186.5,468.1 185.1,468.3 183.8,468.4 182.5,468.4 181.1,468.4 179.8,468.3 178.4,468.1 177,467.9 175.6,467.7 174.1,467.4 172.7,467.2 171.2,466.9 169.7,466.7 168.3,466.4 166.8,466.1 165.3,465.9 163.8,465.6 162.3,465.3 160.8,465.1 159.2,464.9 157.6,464.7 156,464.5 154.3,464.5 152.7,464.5 151,464.6 149.4,464.7 147.7,464.9 146.1,465.2 144.6,465.5 143,465.9 141.4,466.3 139.9,466.7 138.4,467.3 136.8,467.8 135.3,468.4 133.9,469.1 132.4,469.8 131,470.5 129.7,471.2 128.4,471.9 127,472.6 125.7,473.3 124.4,474 123.1,474.6 121.8,475.3 120.5,475.8 119.3,476.3 118.2,476.7 117,477.1 115.9,477.3 114.7,477.4 113.5,477.4 112.2,477.3 111,477.1 109.6,476.9 108.3,476.6 106.9,476.2 105.5,475.8 104.1,475.4 102.7,475 101.3,474.6 99.9,474.1 98.6,473.6 97.2,473.1 95.8,472.6 94.5,472.1 93.1,471.6 91.8,471 90.4,470.4 89,469.8 87.5,469.3 86.1,468.7 84.6,468.1 83.2,467.6 81.7,467.1 80.1,466.7 78.6,466.2 77.1,465.8 75.5,465.5 73.9,465.2 72.4,464.9 70.8,464.7 69.1,464.6 67.5,464.5 65.9,464.5 64.2,464.5 62.6,464.6 61,464.8 59.4,465 57.8,465.3 56.1,465.6 54.5,466.1 52.9,466.6 51.3,467.3 49.8,468.1 48.3,469.1 46.8,470.1 45.6,471.3 44.4,472.5 43.3,473.7 42.3,474.9 41.3,476 40.7,477.1 40.6,478.4 40.9,479.5 41.7,480.5 42.8,481.1 44,481.3 45.2,480.9 46.2,480.1 47.2,479 48.1,477.9 49,476.9 50,475.9 50.9,475.1 51.9,474.4 52.9,473.7 54,473.2 55.2,472.7 56.4,472.3 57.7,471.9 59,471.6 60.4,471.4 61.8,471.2 63.1,471.1 64.5,471 65.9,471 67.3,471 68.6,471.1 70,471.2 71.4,471.4 72.8,471.6 74.2,471.9 75.6,472.2 76.9,472.6 78.3,473 79.7,473.4 81,473.8 82.4,474.3 83.7,474.8 85.1,475.4 86.4,475.9 87.8,476.5 89.2,477.1 90.6,477.7 92,478.3 93.5,478.8 94.9,479.4 96.3,479.9 97.8,480.4 99.3,480.9 100.7,481.4 102.2,481.8 103.7,482.3 105.2,482.7 106.7,483.1 108.3,483.4 109.9,483.7 111.5,484 113.2,484.1 115,484.1 116.7,484 118.4,483.7 120.1,483.2 121.7,482.7 123.2,482.1 124.7,481.4 126.1,480.7 127.5,480 128.8,479.3 130.2,478.7 131.5,478 132.9,477.3 134.2,476.6 135.5,475.9 136.7,475.3 138,474.7 139.3,474.2 140.6,473.7 141.9,473.3 143.3,472.9 144.6,472.6 146,472.3 147.4,472 148.7,471.8 150.1,471.6 151.5,471.5 152.8,471.4 154.2,471.4 155.5,471.5 156.9,471.6 158.3,471.8 159.7,472 161.1,472.2 162.6,472.5 164,472.7 165.5,473 167,473.3 168.5,473.6 170,473.8 171.5,474.1 173,474.4 174.5,474.6 176,474.9 177.6,475.1 179.1,475.3 180.8,475.4 182.4,475.5 184.1,475.4 185.7,475.3 187.3,475.2 188.9,475 190.4,474.7 191.9,474.5 193.3,474.3 194.8,474.1 196.1,473.9 197.5,473.8 198.9,473.8 200.3,473.8 201.7,473.8 203.2,473.8 204.6,473.9 206.1,474 207.5,474.2 209,474.3 210.5,474.4 212,474.6 213.5,474.7 215,474.9 216.4,474.7 217.6,474.1 218.5,473 218.9,471.6 218.8,470.2 218.1,469 217,468.1Z"/>
<path class="tl" d="M215.5,469 214,468.9 212.5,468.7 211,468.6 209.5,468.5 208,468.3 206.5,468.2 205,468.1 203.4,468 201.9,468 200.3,467.9 198.8,467.9 197.2,468 195.6,468.1 194,468.3 192.5,468.5 191,468.8 189.5,469 188.1,469.2 186.6,469.4 185.2,469.6 183.8,469.7 182.5,469.7 181.1,469.7 179.7,469.6 178.3,469.4 176.8,469.2 175.4,469 173.9,468.7 172.4,468.5 171,468.2 169.5,468 168,467.7 166.6,467.4 165.1,467.1 163.6,466.9 162.1,466.6 160.6,466.3 159,466.1 157.5,466 155.9,465.8 154.3,465.8 152.7,465.8 151.1,465.8 149.5,466 147.9,466.2 146.4,466.4 144.8,466.8 143.3,467.1 141.8,467.5 140.3,468 138.8,468.5 137.3,469 135.8,469.6 134.4,470.2 133,470.9 131.6,471.6 130.3,472.3 128.9,473 127.6,473.7 126.3,474.4 125,475.1 123.7,475.7 122.3,476.4 121,477 119.8,477.5 118.5,477.9 117.3,478.3 116,478.5 114.7,478.6 113.4,478.6 112.1,478.5 110.8,478.3 109.4,478.1 108,477.8 106.6,477.4 105.2,477 103.8,476.6 102.4,476.2 101,475.7 99.6,475.3 98.2,474.8 96.8,474.3 95.4,473.8 94,473.2 92.7,472.7 91.3,472.1 89.9,471.5 88.5,471 87.1,470.4 85.7,469.8 84.2,469.3 82.8,468.8 81.3,468.3 79.8,467.8 78.3,467.4 76.8,467 75.3,466.7 73.7,466.4 72.2,466.1 70.6,465.9 69,465.8 67.5,465.7 65.9,465.7 64.3,465.7 62.7,465.8 61.1,465.9 59.6,466.2 58,466.5 56.4,466.8 54.9,467.2 53.3,467.8 51.8,468.4 50.3,469.2 48.9,470 47.6,471 46.4,472.1 45.2,473.3 44.2,474.5 43.2,475.6 42.2,476.8 41.9,477.4 41.8,478.2 42,478.9 42.4,479.5 43.1,479.8 43.8,479.9 44.5,479.7 45.1,479.2 46.1,478.1 47,477 48,475.9 49,474.9 50,474 51.1,473.2 52.2,472.5 53.4,471.9 54.7,471.4 56,470.9 57.4,470.5 58.8,470.2 60.2,470 61.6,469.8 63,469.6 64.4,469.6 65.9,469.5 67.3,469.6 68.7,469.6 70.2,469.8 71.6,470 73,470.2 74.5,470.5 75.9,470.8 77.3,471.2 78.7,471.6 80.1,472 81.5,472.5 82.9,473 84.2,473.5 85.6,474 87,474.6 88.4,475.2 89.8,475.8 91.2,476.3 92.6,476.9 94,477.5 95.4,478 96.8,478.5 98.3,479 99.7,479.5 101.2,480 102.6,480.4 104.1,480.9 105.6,481.3 107.1,481.6 108.6,482 110.1,482.3 111.7,482.5 113.3,482.6 114.9,482.6 116.5,482.5 118.1,482.2 119.7,481.8 121.2,481.3 122.7,480.7 124.1,480 125.4,479.4 126.8,478.7 128.1,478 129.5,477.3 130.8,476.6 132.2,475.9 133.5,475.2 134.8,474.6 136.1,473.9 137.4,473.3 138.8,472.8 140.1,472.3 141.5,471.9 142.9,471.5 144.3,471.1 145.7,470.8 147.1,470.5 148.5,470.3 149.9,470.1 151.4,470 152.8,469.9 154.2,469.9 155.6,470 157.1,470.1 158.5,470.2 159.9,470.4 161.4,470.7 162.9,470.9 164.3,471.2 165.8,471.5 167.3,471.8 168.8,472.1 170.2,472.3 171.7,472.6 173.2,472.9 174.7,473.1 176.2,473.3 177.7,473.6 179.3,473.7 180.9,473.9 182.4,473.9 184,473.9 185.6,473.8 187.1,473.6 188.7,473.4 190.2,473.2 191.6,472.9 193.1,472.7 194.6,472.5 196,472.4 197.4,472.3 198.9,472.2 200.3,472.2 201.8,472.2 203.2,472.3 204.7,472.4 206.2,472.5 207.7,472.6 209.2,472.7 210.6,472.9 212.1,473 213.6,473.2 215.1,473.3 216,473.2 216.7,472.8 217.2,472.2 217.5,471.3 217.4,470.5 217,469.8 216.3,469.3Z" style="filter:blur(1px)"/>
<path class="mb" d="M220,477.7 221.5,477.9 223,478 224.6,478.2 226.1,478.3 227.6,478.4 229.2,478.6 230.7,478.7 232.2,478.8 233.7,479 235.3,479.1 236.8,479.3 238.3,479.4 239.9,479.5 241.4,479.7 242.9,479.8 244.5,479.9 246,480.1 248.2,479.8 250.2,478.8 251.6,477 252.3,474.8 252,472.6 251,470.6 249.2,469.2 247,468.5 245.5,468.4 244,468.3 242.4,468.1 240.9,468 239.4,467.8 237.8,467.7 236.3,467.6 234.8,467.4 233.3,467.3 231.7,467.2 230.2,467 228.7,466.9 227.1,466.7 225.6,466.6 224.1,466.5 222.5,466.3 221,466.2 218.8,466.4 216.8,467.5 215.4,469.3 214.7,471.4 215,473.7 216,475.7 217.8,477.1Z"/>
<path class="ml" d="M220.2,475.5 221.7,475.6 223.2,475.7 224.8,475.9 226.3,476 227.8,476.1 229.4,476.3 230.9,476.4 232.4,476.6 234,476.7 235.5,476.8 237,477 238.5,477.1 240.1,477.3 241.6,477.4 243.1,477.5 244.7,477.7 246.2,477.8 247.4,477.7 248.5,477.1 249.3,476.1 249.7,474.9 249.5,473.7 248.9,472.6 248,471.8 246.8,471.4 245.2,471.3 243.7,471.2 242.2,471 240.6,470.9 239.1,470.8 237.6,470.6 236.1,470.5 234.5,470.3 233,470.2 231.5,470.1 229.9,469.9 228.4,469.8 226.9,469.7 225.3,469.5 223.8,469.4 222.3,469.2 220.8,469.1 219.5,469.2 218.4,469.8 217.6,470.8 217.3,472 217.4,473.2 218,474.3 219,475.1Z" style="filter:blur(1px)"/>
<clipPath id="m5"><path d="M220,477.7 221.5,477.9 223,478 224.6,478.2 226.1,478.3 227.6,478.4 229.2,478.6 230.7,478.7 232.2,478.8 233.7,479 235.3,479.1 236.8,479.3 238.3,479.4 239.9,479.5 241.4,479.7 242.9,479.8 244.5,479.9 246,480.1 248.2,479.8 250.2,478.8 251.6,477 252.3,474.8 252,472.6 251,470.6 249.2,469.2 247,468.5 245.5,468.4 244,468.3 242.4,468.1 240.9,468 239.4,467.8 237.8,467.7 236.3,467.6 234.8,467.4 233.3,467.3 231.7,467.2 230.2,467 228.7,466.9 227.1,466.7 225.6,466.6 224.1,466.5 222.5,466.3 221,466.2 218.8,466.4 216.8,467.5 215.4,469.3 214.7,471.4 215,473.7 216,475.7 217.8,477.1Z"/></clipPath>
<g clip-path="url(#m5)"><circle cx="246.5" cy="474.3" r="6.1" fill="#93cfd3" style="filter:blur(2.6px)"/></g>
<clipPath id="c6"><path d="M308.1,477.4C308.5,476.2 308.4,475.3 308.2,474.2C308,473.1 307.5,471.9 306.6,470.8C305.7,469.6 304.8,468.6 302.7,467.3C300.6,466 297.3,464.2 294.2,462.8C291.1,461.3 287.3,459.7 284,458.6C280.7,457.5 277.5,456.8 274.4,456.1C271.4,455.4 268.3,454.7 265.6,454.3C262.8,453.9 260,453.7 257.9,453.6C255.8,453.5 254.5,453.6 253.1,453.9C251.7,454.1 250.5,454.6 249.5,455.2C248.6,455.9 247.8,456.8 247.2,457.7C246.7,458.7 246.5,459.8 246.3,460.9C246.1,462 246.1,463.1 246,464.3C246,465.6 245.8,466 245.9,468.5C246.1,471 246.8,477 247,479.2C247.2,481.5 247.2,481.1 247.3,482.2C247.4,483.4 247.5,484.9 247.8,486.1C248,487.4 248.2,488.7 248.6,489.9C249,491 249.5,492.1 250.2,493C251,493.9 252.2,494.7 253.2,495.2C254.2,495.6 255,495.7 256.3,495.9C257.6,496.1 259.2,496.2 261.1,496.2C263,496.2 265.5,496.2 267.8,495.9C270.1,495.6 272.2,494.9 274.8,494.4C277.3,494 280,493.9 282.9,493.1C285.9,492.2 288.8,491.6 292.6,489.6C296.4,487.6 303.3,483 305.8,481C308.4,478.9 307.7,478.5 308.1,477.4Z"/></clipPath>
<path class="hd" d="M308.1,477.4C308.5,476.2 308.4,475.3 308.2,474.2C308,473.1 307.5,471.9 306.6,470.8C305.7,469.6 304.8,468.6 302.7,467.3C300.6,466 297.3,464.2 294.2,462.8C291.1,461.3 287.3,459.7 284,458.6C280.7,457.5 277.5,456.8 274.4,456.1C271.4,455.4 268.3,454.7 265.6,454.3C262.8,453.9 260,453.7 257.9,453.6C255.8,453.5 254.5,453.6 253.1,453.9C251.7,454.1 250.5,454.6 249.5,455.2C248.6,455.9 247.8,456.8 247.2,457.7C246.7,458.7 246.5,459.8 246.3,460.9C246.1,462 246.1,463.1 246,464.3C246,465.6 245.8,466 245.9,468.5C246.1,471 246.8,477 247,479.2C247.2,481.5 247.2,481.1 247.3,482.2C247.4,483.4 247.5,484.9 247.8,486.1C248,487.4 248.2,488.7 248.6,489.9C249,491 249.5,492.1 250.2,493C251,493.9 252.2,494.7 253.2,495.2C254.2,495.6 255,495.7 256.3,495.9C257.6,496.1 259.2,496.2 261.1,496.2C263,496.2 265.5,496.2 267.8,495.9C270.1,495.6 272.2,494.9 274.8,494.4C277.3,494 280,493.9 282.9,493.1C285.9,492.2 288.8,491.6 292.6,489.6C296.4,487.6 303.3,483 305.8,481C308.4,478.9 307.7,478.5 308.1,477.4Z"/>
<g clip-path="url(#c6)"><path d="M245.2,450.1 254.7,453.6 256.9,463 258.1,475.5 262,487.6 275,494.7 281.4,504.5 242.3,500.5Z" fill="#93cfd3" style="filter:blur(3.1px)" opacity="0.8"/>
<path d="M308.1,477.4C308.5,476.2 308.4,475.3 308.2,474.2C308,473.1 307.5,471.9 306.6,470.8C305.7,469.6 304.8,468.6 302.7,467.3C300.6,466 297.3,464.2 294.2,462.8C291.1,461.3 287.3,459.7 284,458.6C280.7,457.5 277.5,456.8 274.4,456.1C271.4,455.4 268.3,454.7 265.6,454.3C262.8,453.9 260,453.7 257.9,453.6C255.8,453.5 254.5,453.6 253.1,453.9C251.7,454.1 250.5,454.6 249.5,455.2C248.6,455.9 247.8,456.8 247.2,457.7C246.7,458.7 246.5,459.8 246.3,460.9C246.1,462 246.1,463.1 246,464.3C246,465.6 245.8,466 245.9,468.5C246.1,471 246.8,477 247,479.2C247.2,481.5 247.2,481.1 247.3,482.2C247.4,483.4 247.5,484.9 247.8,486.1C248,487.4 248.2,488.7 248.6,489.9C249,491 249.5,492.1 250.2,493C251,493.9 252.2,494.7 253.2,495.2C254.2,495.6 255,495.7 256.3,495.9C257.6,496.1 259.2,496.2 261.1,496.2C263,496.2 265.5,496.2 267.8,495.9C270.1,495.6 272.2,494.9 274.8,494.4C277.3,494 280,493.9 282.9,493.1C285.9,492.2 288.8,491.6 292.6,489.6C296.4,487.6 303.3,483 305.8,481C308.4,478.9 307.7,478.5 308.1,477.4Z" fill="none" stroke="#8ac8cd" stroke-width="1.7" style="filter:blur(0.7px)" opacity="0.7"/></g>
<path d="M298.3,467.1C299.1,467.6 301.6,469.3 302.8,470.4C303.9,471.6 304.8,472.8 305.3,473.8C305.9,474.9 306.1,475.7 305.9,476.8C305.7,477.8 305.4,478.7 304.3,479.9C303.2,481.1 300.1,483.3 299.2,484" fill="none" stroke="#98d2d6" stroke-width="0.6" opacity="0.5"/>
<ellipse class="nu" cx="282" cy="475.1" rx="10.9" ry="8.1" transform="rotate(-8.4 282 475.1)"/>
<path class="ar2" d="M749.2,471.4 Q761.8,476.4 768.5,467.5"/>
<path class="ar2" d="M752.2,469 Q761.1,472 764.8,466.4"/>
<path class="ar2" d="M785.6,483.9 Q796,477.2 807.8,481.6"/>
<path class="ar2" d="M789.3,486.5 Q797.4,480.9 805.6,484.6"/>
<path class="ar2" d="M697.3,485.5 Q706.9,476.5 718.8,478"/>
<path class="ar2" d="M701,487.7 Q708.4,480.3 718,481.7"/>
<path class="tb" d="M859.4,469.8 857.9,469.7 856.4,469.5 854.9,469.4 853.4,469.2 851.9,469.1 850.3,469 848.8,468.9 847.2,468.8 845.6,468.7 844,468.7 842.4,468.7 840.8,468.8 839.1,469 837.5,469.1 835.9,469.4 834.4,469.6 832.9,469.9 831.5,470.1 830.1,470.3 828.8,470.4 827.4,470.5 826.2,470.5 824.9,470.5 823.5,470.4 822.2,470.3 820.8,470.1 819.4,469.9 817.9,469.6 816.4,469.4 815,469.1 813.5,468.9 812,468.6 810.6,468.3 809.1,468.1 807.6,467.8 806.1,467.5 804.5,467.3 802.9,467.1 801.3,466.9 799.7,466.8 798,466.7 796.3,466.7 794.7,466.8 793,466.9 791.4,467.2 789.7,467.4 788.1,467.8 786.6,468.1 785,468.6 783.4,469 781.9,469.5 780.4,470.1 778.8,470.7 777.4,471.4 775.9,472.1 774.5,472.8 773.2,473.5 771.8,474.2 770.5,474.9 769.2,475.6 767.9,476.3 766.6,476.9 765.3,477.6 764.1,478.2 762.9,478.7 761.7,479.1 760.6,479.4 759.5,479.6 758.4,479.7 757.2,479.7 756,479.6 754.7,479.4 753.4,479.2 752.1,478.9 750.7,478.5 749.3,478.2 747.9,477.8 746.6,477.3 745.2,476.9 743.8,476.5 742.4,476 741.1,475.5 739.7,475 738.3,474.5 737,473.9 735.6,473.4 734.2,472.8 732.8,472.2 731.4,471.6 729.9,471.1 728.5,470.5 727,470 725.5,469.5 723.9,469 722.4,468.6 720.8,468.2 719.3,467.9 717.7,467.6 716.1,467.3 714.5,467.1 712.8,467 711.2,466.9 709.6,466.9 707.9,466.9 706.3,467 704.6,467.2 703,467.4 701.4,467.7 699.7,468.1 698.1,468.5 696.5,469.1 694.8,469.8 693.2,470.6 691.7,471.6 690.3,472.7 689,473.8 687.8,475 686.7,476.3 685.7,477.5 684.7,478.6 684,479.9 683.8,481.4 684.2,482.8 685.2,484 686.5,484.7 687.9,484.8 689.4,484.4 690.5,483.5 691.5,482.4 692.4,481.3 693.3,480.3 694.2,479.4 695.1,478.6 696,477.9 697,477.3 698.1,476.7 699.2,476.3 700.4,475.9 701.6,475.5 702.9,475.2 704.2,475 705.5,474.8 706.9,474.7 708.2,474.6 709.6,474.6 710.9,474.6 712.3,474.7 713.6,474.8 715,475 716.3,475.2 717.7,475.5 719.1,475.8 720.4,476.2 721.8,476.5 723.1,477 724.4,477.4 725.8,477.9 727.1,478.4 728.5,478.9 729.8,479.5 731.2,480.1 732.6,480.6 734,481.2 735.4,481.8 736.9,482.4 738.3,482.9 739.8,483.5 741.2,484 742.7,484.5 744.2,484.9 745.7,485.4 747.2,485.8 748.7,486.3 750.2,486.6 751.8,487 753.5,487.3 755.2,487.5 756.9,487.7 758.7,487.7 760.5,487.5 762.3,487.2 764.1,486.8 765.7,486.2 767.3,485.6 768.8,484.9 770.2,484.2 771.6,483.5 772.9,482.8 774.3,482.1 775.6,481.4 777,480.7 778.3,480 779.5,479.4 780.8,478.8 782,478.2 783.3,477.7 784.6,477.2 785.9,476.8 787.2,476.4 788.5,476.1 789.9,475.8 791.2,475.5 792.6,475.3 793.9,475.1 795.2,475 796.5,475 797.9,475 799.2,475 800.5,475.1 801.9,475.3 803.3,475.5 804.7,475.7 806.1,476 807.6,476.2 809,476.5 810.5,476.8 812,477.1 813.5,477.4 815,477.6 816.5,477.9 818,478.1 819.6,478.4 821.1,478.6 822.8,478.8 824.4,478.9 826.1,479 827.8,478.9 829.5,478.8 831.1,478.7 832.7,478.4 834.2,478.2 835.7,478 837.2,477.8 838.6,477.6 839.9,477.4 841.3,477.3 842.6,477.3 844,477.2 845.4,477.3 846.8,477.3 848.2,477.4 849.7,477.5 851.2,477.6 852.6,477.8 854.1,477.9 855.6,478.1 857.1,478.2 858.6,478.3 860.3,478.2 861.8,477.4 862.8,476 863.3,474.4 863.1,472.8 862.3,471.3 861,470.2Z"/>
<path class="tm" d="M859.3,470.2 857.8,470.1 856.4,470 854.9,469.8 853.3,469.7 851.8,469.6 850.3,469.5 848.8,469.4 847.2,469.3 845.6,469.2 844,469.2 842.4,469.2 840.8,469.3 839.2,469.4 837.6,469.6 836,469.8 834.5,470.1 833,470.3 831.5,470.5 830.2,470.7 828.8,470.9 827.5,471 826.2,471 824.8,471 823.5,470.9 822.1,470.7 820.7,470.5 819.3,470.3 817.8,470.1 816.4,469.8 814.9,469.6 813.4,469.3 812,469.1 810.5,468.8 809,468.5 807.5,468.2 806,468 804.4,467.7 802.9,467.5 801.3,467.3 799.6,467.2 798,467.2 796.3,467.2 794.7,467.2 793,467.4 791.4,467.6 789.8,467.9 788.2,468.2 786.7,468.6 785.1,469 783.6,469.4 782,470 780.5,470.5 779,471.1 777.5,471.8 776.1,472.5 774.7,473.2 773.4,473.9 772.1,474.6 770.7,475.3 769.4,476 768.1,476.7 766.8,477.3 765.5,478 764.2,478.6 763,479.1 761.9,479.5 760.7,479.8 759.6,480 758.4,480.1 757.2,480.1 755.9,480 754.7,479.8 753.3,479.6 752,479.3 750.6,479 749.2,478.6 747.8,478.2 746.4,477.8 745,477.3 743.6,476.9 742.3,476.4 740.9,475.9 739.5,475.4 738.2,474.9 736.8,474.3 735.4,473.8 734.1,473.2 732.7,472.6 731.2,472 729.8,471.5 728.3,470.9 726.8,470.4 725.3,469.9 723.8,469.4 722.3,469 720.7,468.6 719.2,468.3 717.6,468 716,467.8 714.4,467.5 712.8,467.4 711.2,467.3 709.6,467.3 707.9,467.3 706.3,467.4 704.7,467.6 703,467.8 701.4,468.1 699.8,468.5 698.2,468.9 696.6,469.5 695,470.2 693.4,471 691.9,471.9 690.5,473 689.2,474.1 688.1,475.3 687,476.5 686,477.7 685,478.9 684.4,480 684.3,481.2 684.6,482.4 685.4,483.4 686.5,484 687.7,484.1 688.9,483.8 689.9,483 690.9,481.8 691.8,480.7 692.7,479.7 693.7,478.8 694.6,477.9 695.6,477.2 696.6,476.6 697.7,476 698.9,475.5 700.1,475.1 701.4,474.8 702.7,474.5 704.1,474.2 705.4,474 706.8,473.9 708.2,473.8 709.6,473.8 710.9,473.8 712.3,473.9 713.7,474 715.1,474.2 716.5,474.4 717.9,474.7 719.2,475 720.6,475.4 722,475.8 723.4,476.2 724.7,476.6 726.1,477.1 727.4,477.6 728.8,478.2 730.1,478.7 731.5,479.3 732.9,479.9 734.3,480.5 735.7,481 737.2,481.6 738.6,482.2 740.1,482.7 741.5,483.2 743,483.7 744.4,484.1 745.9,484.6 747.4,485 748.9,485.4 750.4,485.8 752,486.2 753.6,486.5 755.2,486.7 756.9,486.8 758.7,486.8 760.4,486.7 762.1,486.4 763.8,485.9 765.4,485.4 767,484.8 768.4,484.1 769.8,483.4 771.2,482.7 772.5,482.1 773.9,481.4 775.2,480.7 776.6,480 777.9,479.3 779.2,478.6 780.4,478 781.7,477.4 783,476.9 784.3,476.4 785.6,476 787,475.6 788.3,475.3 789.7,474.9 791.1,474.7 792.4,474.4 793.8,474.3 795.2,474.1 796.5,474.1 797.9,474.1 799.2,474.1 800.6,474.3 802,474.4 803.4,474.6 804.8,474.8 806.3,475.1 807.7,475.4 809.2,475.7 810.7,475.9 812.2,476.2 813.7,476.5 815.2,476.8 816.7,477 818.2,477.3 819.7,477.5 821.2,477.7 822.8,477.9 824.5,478 826.1,478.1 827.8,478 829.4,477.9 831,477.8 832.6,477.6 834.1,477.3 835.6,477.1 837,476.9 838.4,476.7 839.8,476.5 841.2,476.4 842.6,476.4 844,476.3 845.4,476.4 846.8,476.4 848.3,476.5 849.8,476.6 851.2,476.7 852.7,476.9 854.2,477 855.7,477.2 857.2,477.3 858.7,477.4 860.1,477.3 861.3,476.6 862.2,475.5 862.6,474.2 862.5,472.8 861.8,471.5 860.7,470.6Z"/>
<path class="tl" d="M859.2,471.6 857.7,471.5 856.2,471.3 854.7,471.2 853.2,471 851.7,470.9 850.2,470.8 848.7,470.7 847.1,470.6 845.6,470.5 844,470.5 842.4,470.5 840.9,470.6 839.3,470.7 837.7,470.9 836.2,471.1 834.7,471.4 833.2,471.6 831.7,471.8 830.3,472 828.9,472.2 827.5,472.3 826.1,472.3 824.8,472.3 823.4,472.2 822,472 820.5,471.8 819.1,471.6 817.6,471.4 816.1,471.1 814.7,470.9 813.2,470.6 811.7,470.3 810.3,470.1 808.8,469.8 807.3,469.5 805.8,469.2 804.3,469 802.7,468.8 801.1,468.6 799.6,468.5 798,468.4 796.4,468.4 794.8,468.5 793.2,468.7 791.6,468.9 790,469.1 788.5,469.4 787,469.8 785.5,470.2 784,470.7 782.5,471.1 781,471.7 779.5,472.3 778.1,472.9 776.7,473.6 775.3,474.3 774,475 772.6,475.7 771.3,476.4 770,477.1 768.7,477.8 767.4,478.5 766,479.1 764.7,479.7 763.5,480.2 762.2,480.7 761,481 759.7,481.2 758.4,481.3 757.1,481.3 755.8,481.2 754.5,481.1 753.1,480.8 751.7,480.5 750.3,480.2 748.9,479.8 747.5,479.4 746.1,478.9 744.6,478.5 743.2,478 741.9,477.6 740.5,477.1 739.1,476.6 737.7,476 736.4,475.5 735,474.9 733.6,474.3 732.2,473.7 730.8,473.2 729.4,472.6 727.9,472.1 726.5,471.6 725,471.1 723.5,470.6 722,470.2 720.5,469.8 718.9,469.5 717.4,469.2 715.9,468.9 714.3,468.7 712.7,468.6 711.1,468.5 709.6,468.5 708,468.5 706.4,468.6 704.8,468.8 703.2,469 701.7,469.3 700.1,469.6 698.6,470.1 697,470.6 695.5,471.2 694,472 692.6,472.9 691.3,473.9 690.1,475 688.9,476.1 687.9,477.3 686.9,478.5 685.9,479.6 685.6,480.3 685.5,481 685.7,481.7 686.1,482.3 686.8,482.7 687.5,482.8 688.2,482.6 688.8,482.1 689.8,480.9 690.7,479.8 691.7,478.8 692.7,477.8 693.7,476.8 694.8,476 695.9,475.3 697.1,474.7 698.4,474.2 699.7,473.7 701.1,473.4 702.4,473.1 703.9,472.8 705.3,472.6 706.7,472.5 708.1,472.4 709.6,472.4 711,472.4 712.4,472.5 713.9,472.6 715.3,472.8 716.7,473 718.2,473.3 719.6,473.6 721,474 722.4,474.4 723.8,474.8 725.2,475.3 726.6,475.8 727.9,476.3 729.3,476.8 730.7,477.4 732.1,478 733.5,478.5 734.9,479.1 736.3,479.7 737.7,480.2 739.1,480.8 740.5,481.3 742,481.8 743.4,482.3 744.9,482.7 746.3,483.2 747.8,483.6 749.3,484 750.8,484.4 752.3,484.7 753.8,485 755.4,485.2 757,485.3 758.6,485.3 760.2,485.2 761.8,484.9 763.4,484.5 764.9,484 766.4,483.4 767.8,482.8 769.1,482.1 770.5,481.4 771.8,480.7 773.2,480 774.5,479.3 775.9,478.6 777.2,477.9 778.5,477.3 779.8,476.6 781.1,476 782.4,475.5 783.8,475 785.2,474.6 786.6,474.2 788,473.8 789.4,473.5 790.8,473.2 792.2,472.9 793.6,472.8 795.1,472.6 796.5,472.6 797.9,472.6 799.3,472.6 800.8,472.7 802.2,472.9 803.6,473.1 805.1,473.3 806.5,473.6 808,473.9 809.5,474.1 811,474.4 812.5,474.7 813.9,475 815.4,475.2 816.9,475.5 818.4,475.7 819.9,476 821.4,476.2 823,476.4 824.5,476.5 826.1,476.5 827.7,476.5 829.3,476.4 830.8,476.2 832.4,476 833.9,475.8 835.3,475.5 836.8,475.3 838.3,475.1 839.7,475 841.1,474.9 842.6,474.8 844,474.8 845.5,474.8 846.9,474.9 848.4,474.9 849.9,475 851.4,475.2 852.8,475.3 854.3,475.4 855.8,475.6 857.3,475.7 858.8,475.9 859.7,475.8 860.4,475.4 860.9,474.7 861.2,473.9 861.1,473.1 860.7,472.3 860,471.8Z" style="filter:blur(1px)"/>
<path class="mb" d="M863.6,480.4 865.1,480.5 866.6,480.7 868.1,480.8 869.6,481 871.2,481.1 872.7,481.3 874.2,481.4 875.7,481.6 877.2,481.7 878.7,481.9 880.2,482 881.7,482.2 883.2,482.3 884.7,482.5 886.2,482.6 887.7,482.8 889.3,482.9 891.5,482.7 893.5,481.6 894.9,479.9 895.6,477.7 895.4,475.5 894.3,473.5 892.6,472 890.4,471.4 888.9,471.2 887.4,471.1 885.9,470.9 884.4,470.8 882.9,470.6 881.4,470.5 879.8,470.3 878.3,470.2 876.8,470 875.3,469.9 873.8,469.7 872.3,469.6 870.8,469.4 869.3,469.3 867.8,469.1 866.3,469 864.8,468.8 862.5,469 860.5,470.1 859.1,471.8 858.4,474 858.6,476.3 859.7,478.3 861.4,479.7Z"/>
<path class="ml" d="M863.8,478.1 865.3,478.2 866.9,478.4 868.4,478.5 869.9,478.7 871.4,478.8 872.9,479 874.4,479.1 875.9,479.3 877.4,479.4 878.9,479.6 880.4,479.7 881.9,479.9 883.4,480 885,480.2 886.5,480.3 888,480.5 889.5,480.6 890.7,480.5 891.8,479.9 892.6,479 893,477.8 892.9,476.5 892.3,475.4 891.3,474.7 890.1,474.3 888.6,474.1 887.1,474 885.6,473.8 884.1,473.7 882.6,473.5 881.1,473.4 879.6,473.2 878,473.1 876.5,472.9 875,472.8 873.5,472.6 872,472.5 870.5,472.3 869,472.2 867.5,472 866,471.9 864.5,471.7 863.2,471.8 862.1,472.4 861.3,473.4 861,474.6 861.1,475.8 861.7,476.9 862.6,477.7Z" style="filter:blur(1px)"/>
<clipPath id="m7"><path d="M863.6,480.4 865.1,480.5 866.6,480.7 868.1,480.8 869.6,481 871.2,481.1 872.7,481.3 874.2,481.4 875.7,481.6 877.2,481.7 878.7,481.9 880.2,482 881.7,482.2 883.2,482.3 884.7,482.5 886.2,482.6 887.7,482.8 889.3,482.9 891.5,482.7 893.5,481.6 894.9,479.9 895.6,477.7 895.4,475.5 894.3,473.5 892.6,472 890.4,471.4 888.9,471.2 887.4,471.1 885.9,470.9 884.4,470.8 882.9,470.6 881.4,470.5 879.8,470.3 878.3,470.2 876.8,470 875.3,469.9 873.8,469.7 872.3,469.6 870.8,469.4 869.3,469.3 867.8,469.1 866.3,469 864.8,468.8 862.5,469 860.5,470.1 859.1,471.8 858.4,474 858.6,476.3 859.7,478.3 861.4,479.7Z"/></clipPath>
<g clip-path="url(#m7)"><circle cx="889.8" cy="477.1" r="6.3" fill="#93cfd3" style="filter:blur(2.7px)"/></g>
<clipPath id="c8"><path d="M951.9,479.7C952.3,478.5 952.3,477.5 952,476.4C951.8,475.2 951.4,474 950.5,472.8C949.5,471.6 948.6,470.5 946.5,469.2C944.4,467.8 941.1,466 938,464.5C934.8,463 931,461.3 927.6,460.2C924.3,459 921.1,458.3 918,457.6C914.9,456.9 911.9,456.2 909.1,455.8C906.3,455.4 903.4,455.2 901.3,455.1C899.2,455.1 897.9,455.2 896.5,455.5C895.1,455.8 893.9,456.3 892.9,457C891.9,457.7 891.1,458.6 890.6,459.6C890,460.6 889.8,461.8 889.6,463C889.4,464.2 889.4,465.3 889.3,466.6C889.3,468 889.1,468.4 889.3,471C889.4,473.7 890.1,479.9 890.3,482.4C890.5,484.8 890.5,484.3 890.6,485.5C890.7,486.7 890.9,488.3 891.1,489.6C891.3,491 891.5,492.3 891.9,493.5C892.3,494.7 892.8,495.9 893.6,496.8C894.4,497.7 895.6,498.6 896.6,499.1C897.6,499.6 898.4,499.7 899.7,499.9C901,500 902.6,500.2 904.6,500.1C906.5,500.1 909,500 911.3,499.7C913.6,499.4 915.8,498.6 918.3,498.1C920.9,497.6 923.6,497.4 926.6,496.5C929.6,495.7 932.5,494.9 936.3,492.8C940.2,490.6 947.1,485.7 949.7,483.5C952.3,481.3 951.5,480.9 951.9,479.7Z"/></clipPath>
<path class="hd" d="M951.9,479.7C952.3,478.5 952.3,477.5 952,476.4C951.8,475.2 951.4,474 950.5,472.8C949.5,471.6 948.6,470.5 946.5,469.2C944.4,467.8 941.1,466 938,464.5C934.8,463 931,461.3 927.6,460.2C924.3,459 921.1,458.3 918,457.6C914.9,456.9 911.9,456.2 909.1,455.8C906.3,455.4 903.4,455.2 901.3,455.1C899.2,455.1 897.9,455.2 896.5,455.5C895.1,455.8 893.9,456.3 892.9,457C891.9,457.7 891.1,458.6 890.6,459.6C890,460.6 889.8,461.8 889.6,463C889.4,464.2 889.4,465.3 889.3,466.6C889.3,468 889.1,468.4 889.3,471C889.4,473.7 890.1,479.9 890.3,482.4C890.5,484.8 890.5,484.3 890.6,485.5C890.7,486.7 890.9,488.3 891.1,489.6C891.3,491 891.5,492.3 891.9,493.5C892.3,494.7 892.8,495.9 893.6,496.8C894.4,497.7 895.6,498.6 896.6,499.1C897.6,499.6 898.4,499.7 899.7,499.9C901,500 902.6,500.2 904.6,500.1C906.5,500.1 909,500 911.3,499.7C913.6,499.4 915.8,498.6 918.3,498.1C920.9,497.6 923.6,497.4 926.6,496.5C929.6,495.7 932.5,494.9 936.3,492.8C940.2,490.6 947.1,485.7 949.7,483.5C952.3,481.3 951.5,480.9 951.9,479.7Z"/>
<g clip-path="url(#c8)"><path d="M888.5,451.6 898.1,455.2 900.3,465.1 901.5,478.3 905.5,491 918.6,498.4 925,508.7 885.6,504.8Z" fill="#93cfd3" style="filter:blur(3.2px)" opacity="0.8"/>
<path d="M951.9,479.7C952.3,478.5 952.3,477.5 952,476.4C951.8,475.2 951.4,474 950.5,472.8C949.5,471.6 948.6,470.5 946.5,469.2C944.4,467.8 941.1,466 938,464.5C934.8,463 931,461.3 927.6,460.2C924.3,459 921.1,458.3 918,457.6C914.9,456.9 911.9,456.2 909.1,455.8C906.3,455.4 903.4,455.2 901.3,455.1C899.2,455.1 897.9,455.2 896.5,455.5C895.1,455.8 893.9,456.3 892.9,457C891.9,457.7 891.1,458.6 890.6,459.6C890,460.6 889.8,461.8 889.6,463C889.4,464.2 889.4,465.3 889.3,466.6C889.3,468 889.1,468.4 889.3,471C889.4,473.7 890.1,479.9 890.3,482.4C890.5,484.8 890.5,484.3 890.6,485.5C890.7,486.7 890.9,488.3 891.1,489.6C891.3,491 891.5,492.3 891.9,493.5C892.3,494.7 892.8,495.9 893.6,496.8C894.4,497.7 895.6,498.6 896.6,499.1C897.6,499.6 898.4,499.7 899.7,499.9C901,500 902.6,500.2 904.6,500.1C906.5,500.1 909,500 911.3,499.7C913.6,499.4 915.8,498.6 918.3,498.1C920.9,497.6 923.6,497.4 926.6,496.5C929.6,495.7 932.5,494.9 936.3,492.8C940.2,490.6 947.1,485.7 949.7,483.5C952.3,481.3 951.5,480.9 951.9,479.7Z" fill="none" stroke="#8ac8cd" stroke-width="1.8" style="filter:blur(0.7px)" opacity="0.7"/></g>
<path d="M942.1,468.9C942.8,469.5 945.4,471.3 946.6,472.4C947.7,473.6 948.7,474.9 949.2,476C949.7,477.1 949.9,478 949.7,479.1C949.5,480.2 949.2,481.2 948.1,482.5C947,483.7 943.9,486 943,486.8" fill="none" stroke="#98d2d6" stroke-width="0.6" opacity="0.5"/>
<ellipse class="nu" cx="925.7" cy="477.6" rx="11.3" ry="8.3" transform="rotate(-8.6 925.7 477.6)"/>
<path class="ar2" d="M1060.9,616.5 Q1073.6,621.5 1080.2,612.5"/>
<path class="ar2" d="M1063.9,614.1 Q1072.8,617.1 1076.5,611.4"/>
<path class="ar2" d="M1097.4,628.7 Q1107.8,622 1119.6,626.3"/>
<path class="ar2" d="M1101.2,631.3 Q1109.2,625.6 1117.4,629.3"/>
<path class="ar2" d="M1009.2,631 Q1018.7,621.9 1030.6,623.3"/>
<path class="ar2" d="M1012.9,633.2 Q1020.2,625.7 1029.8,627"/>
<path class="tb" d="M1171.1,614.1 1169.6,614 1168.1,613.9 1166.6,613.8 1165.1,613.6 1163.6,613.5 1162.1,613.4 1160.5,613.3 1158.9,613.2 1157.4,613.2 1155.7,613.2 1154.1,613.2 1152.5,613.3 1150.8,613.4 1149.2,613.6 1147.7,613.9 1146.1,614.1 1144.6,614.4 1143.2,614.6 1141.8,614.8 1140.5,615 1139.2,615.1 1137.9,615.1 1136.6,615.1 1135.3,615 1133.9,614.9 1132.5,614.7 1131.1,614.5 1129.6,614.3 1128.2,614 1126.7,613.8 1125.2,613.5 1123.8,613.3 1122.3,613 1120.8,612.8 1119.3,612.5 1117.8,612.2 1116.2,612 1114.6,611.8 1113,611.6 1111.4,611.5 1109.7,611.5 1108,611.5 1106.4,611.6 1104.7,611.8 1103.1,612 1101.5,612.3 1099.9,612.6 1098.3,613 1096.7,613.4 1095.2,613.9 1093.6,614.4 1092.1,615 1090.6,615.6 1089.1,616.3 1087.7,617 1086.3,617.8 1084.9,618.5 1083.6,619.2 1082.3,619.9 1081,620.6 1079.7,621.3 1078.4,621.9 1077.1,622.6 1075.9,623.2 1074.7,623.7 1073.5,624.1 1072.4,624.4 1071.3,624.6 1070.2,624.7 1069,624.7 1067.8,624.6 1066.5,624.5 1065.2,624.3 1063.9,624 1062.5,623.6 1061.1,623.3 1059.7,622.9 1058.3,622.5 1056.9,622.1 1055.6,621.6 1054.2,621.2 1052.8,620.7 1051.5,620.2 1050.1,619.7 1048.7,619.1 1047.4,618.6 1046,618 1044.6,617.4 1043.1,616.9 1041.7,616.3 1040.2,615.8 1038.7,615.3 1037.2,614.8 1035.7,614.3 1034.1,613.9 1032.6,613.5 1031,613.2 1029.4,612.9 1027.8,612.7 1026.2,612.5 1024.6,612.3 1022.9,612.3 1021.3,612.3 1019.6,612.3 1018,612.4 1016.3,612.6 1014.7,612.8 1013.1,613.2 1011.4,613.5 1009.8,614 1008.2,614.6 1006.6,615.3 1005,616.1 1003.5,617.1 1002,618.2 1000.7,619.4 999.5,620.6 998.5,621.8 997.5,623 996.5,624.2 995.8,625.5 995.6,627 996.1,628.4 997,629.5 998.3,630.2 999.8,630.4 1001.2,630 1002.3,629 1003.3,627.9 1004.2,626.8 1005.1,625.8 1006,624.9 1006.9,624.1 1007.8,623.3 1008.8,622.7 1009.8,622.2 1010.9,621.7 1012.1,621.3 1013.4,621 1014.7,620.7 1016,620.4 1017.3,620.2 1018.6,620.1 1020,620 1021.3,620 1022.7,620 1024,620.1 1025.4,620.2 1026.7,620.4 1028.1,620.6 1029.5,620.8 1030.8,621.1 1032.2,621.5 1033.5,621.8 1034.9,622.3 1036.2,622.7 1037.6,623.2 1038.9,623.7 1040.3,624.2 1041.6,624.7 1043,625.3 1044.4,625.9 1045.8,626.5 1047.2,627 1048.7,627.6 1050.1,628.1 1051.6,628.6 1053.1,629.1 1054.6,629.6 1056,630.1 1057.5,630.5 1059,631 1060.5,631.4 1062.1,631.8 1063.7,632.1 1065.3,632.4 1067,632.6 1068.8,632.7 1070.6,632.7 1072.4,632.6 1074.2,632.2 1075.9,631.8 1077.6,631.2 1079.1,630.5 1080.6,629.9 1082,629.2 1083.4,628.5 1084.7,627.8 1086.1,627.1 1087.4,626.3 1088.8,625.6 1090.1,624.9 1091.3,624.3 1092.6,623.7 1093.8,623.1 1095.1,622.6 1096.4,622.1 1097.7,621.7 1099,621.3 1100.3,620.9 1101.7,620.6 1103,620.3 1104.3,620.1 1105.7,619.9 1107,619.8 1108.3,619.7 1109.6,619.7 1111,619.8 1112.3,619.9 1113.7,620 1115.1,620.2 1116.5,620.4 1117.9,620.7 1119.3,620.9 1120.8,621.2 1122.3,621.5 1123.8,621.8 1125.3,622 1126.8,622.3 1128.3,622.5 1129.8,622.8 1131.4,623 1132.9,623.2 1134.6,623.4 1136.2,623.5 1137.9,623.5 1139.6,623.5 1141.3,623.4 1142.9,623.2 1144.5,623 1146,622.7 1147.5,622.5 1149,622.3 1150.3,622.1 1151.7,621.9 1153.1,621.8 1154.4,621.7 1155.8,621.7 1157.2,621.7 1158.6,621.8 1160,621.8 1161.5,621.9 1162.9,622 1164.4,622.2 1165.9,622.3 1167.4,622.4 1168.9,622.6 1170.4,622.7 1172.1,622.5 1173.5,621.7 1174.6,620.4 1175,618.7 1174.8,617.1 1174,615.6 1172.7,614.6Z"/>
<path class="tm" d="M1171.1,614.6 1169.6,614.5 1168.1,614.3 1166.6,614.2 1165.1,614.1 1163.6,614 1162,613.9 1160.5,613.8 1158.9,613.7 1157.3,613.7 1155.7,613.6 1154.1,613.7 1152.5,613.8 1150.9,613.9 1149.3,614.1 1147.7,614.3 1146.2,614.6 1144.7,614.8 1143.3,615.1 1141.9,615.3 1140.5,615.4 1139.2,615.5 1137.9,615.6 1136.6,615.6 1135.2,615.5 1133.9,615.3 1132.5,615.2 1131,614.9 1129.6,614.7 1128.1,614.5 1126.6,614.2 1125.2,614 1123.7,613.7 1122.2,613.5 1120.7,613.2 1119.2,612.9 1117.7,612.7 1116.2,612.5 1114.6,612.2 1113,612.1 1111.4,612 1109.7,611.9 1108.1,611.9 1106.4,612 1104.8,612.2 1103.1,612.4 1101.5,612.7 1100,613 1098.4,613.4 1096.8,613.8 1095.3,614.3 1093.8,614.8 1092.3,615.4 1090.8,616 1089.3,616.7 1087.9,617.4 1086.5,618.1 1085.1,618.9 1083.8,619.6 1082.5,620.3 1081.2,621 1079.9,621.7 1078.6,622.3 1077.3,623 1076,623.6 1074.8,624.1 1073.7,624.5 1072.5,624.8 1071.4,625 1070.2,625.1 1069,625.2 1067.7,625.1 1066.5,624.9 1065.1,624.7 1063.8,624.4 1062.4,624.1 1061,623.7 1059.6,623.3 1058.2,622.9 1056.8,622.5 1055.4,622 1054.1,621.6 1052.7,621.1 1051.3,620.6 1050,620.1 1048.6,619.5 1047.2,619 1045.8,618.4 1044.4,617.8 1043,617.3 1041.5,616.7 1040.1,616.2 1038.6,615.7 1037.1,615.2 1035.6,614.7 1034,614.3 1032.5,614 1030.9,613.6 1029.3,613.3 1027.8,613.1 1026.2,612.9 1024.5,612.8 1022.9,612.7 1021.3,612.7 1019.6,612.7 1018,612.8 1016.4,613 1014.8,613.3 1013.2,613.6 1011.6,613.9 1009.9,614.4 1008.3,615 1006.7,615.7 1005.2,616.5 1003.7,617.4 1002.3,618.5 1001,619.7 999.8,620.9 998.8,622.1 997.8,623.3 996.8,624.4 996.2,625.5 996.1,626.8 996.5,628 997.2,628.9 998.3,629.5 999.6,629.7 1000.8,629.3 1001.7,628.5 1002.7,627.4 1003.6,626.3 1004.5,625.2 1005.5,624.3 1006.4,623.4 1007.4,622.7 1008.4,622 1009.5,621.5 1010.7,621 1011.9,620.6 1013.2,620.2 1014.5,619.9 1015.8,619.6 1017.2,619.4 1018.6,619.3 1020,619.2 1021.3,619.2 1022.7,619.2 1024.1,619.3 1025.5,619.4 1026.9,619.6 1028.2,619.8 1029.6,620 1031,620.3 1032.4,620.7 1033.8,621.1 1035.1,621.5 1036.5,621.9 1037.8,622.4 1039.2,622.9 1040.6,623.4 1041.9,624 1043.3,624.5 1044.7,625.1 1046.1,625.7 1047.5,626.2 1049,626.8 1050.4,627.3 1051.9,627.9 1053.3,628.4 1054.8,628.8 1056.3,629.3 1057.8,629.7 1059.2,630.2 1060.7,630.6 1062.3,630.9 1063.8,631.3 1065.5,631.6 1067.1,631.8 1068.8,631.9 1070.5,631.9 1072.3,631.7 1074,631.4 1075.7,631 1077.3,630.4 1078.8,629.8 1080.2,629.1 1081.6,628.4 1083,627.7 1084.4,627 1085.7,626.3 1087,625.6 1088.4,624.9 1089.7,624.2 1091,623.5 1092.2,622.9 1093.5,622.3 1094.8,621.8 1096.1,621.3 1097.4,620.9 1098.7,620.5 1100.1,620.1 1101.5,619.8 1102.8,619.5 1104.2,619.3 1105.6,619.1 1106.9,618.9 1108.3,618.9 1109.6,618.9 1111,618.9 1112.4,619 1113.8,619.2 1115.2,619.3 1116.6,619.6 1118,619.8 1119.5,620.1 1121,620.4 1122.5,620.6 1124,620.9 1125.5,621.2 1126.9,621.4 1128.4,621.7 1129.9,621.9 1131.5,622.1 1133,622.3 1134.6,622.5 1136.3,622.6 1137.9,622.7 1139.6,622.6 1141.2,622.5 1142.8,622.3 1144.4,622.1 1145.9,621.8 1147.4,621.6 1148.8,621.4 1150.2,621.2 1151.6,621 1153,620.9 1154.4,620.8 1155.8,620.8 1157.2,620.8 1158.6,620.9 1160.1,620.9 1161.5,621 1163,621.1 1164.5,621.3 1166,621.4 1167.5,621.5 1169,621.7 1170.5,621.8 1171.9,621.6 1173.1,620.9 1174,619.8 1174.4,618.5 1174.2,617.1 1173.5,615.8 1172.4,615Z"/>
<path class="tl" d="M1171,615.9 1169.5,615.8 1168,615.7 1166.5,615.5 1165,615.4 1163.5,615.3 1161.9,615.2 1160.4,615.1 1158.9,615 1157.3,615 1155.8,615 1154.2,615 1152.6,615.1 1151,615.2 1149.5,615.4 1147.9,615.6 1146.4,615.9 1144.9,616.1 1143.5,616.4 1142.1,616.6 1140.7,616.7 1139.3,616.9 1137.9,616.9 1136.5,616.9 1135.1,616.8 1133.7,616.6 1132.3,616.4 1130.8,616.2 1129.4,616 1127.9,615.8 1126.4,615.5 1124.9,615.3 1123.5,615 1122,614.7 1120.5,614.5 1119,614.2 1117.5,614 1116,613.7 1114.4,613.5 1112.9,613.4 1111.3,613.3 1109.7,613.2 1108.1,613.2 1106.5,613.3 1104.9,613.5 1103.3,613.7 1101.8,614 1100.2,614.3 1098.7,614.7 1097.2,615.1 1095.7,615.5 1094.2,616 1092.7,616.6 1091.3,617.2 1089.8,617.9 1088.4,618.5 1087.1,619.3 1085.7,620 1084.4,620.7 1083.1,621.4 1081.8,622.1 1080.5,622.8 1079.1,623.5 1077.8,624.1 1076.6,624.7 1075.3,625.3 1074,625.7 1072.8,626 1071.5,626.3 1070.3,626.4 1069,626.4 1067.6,626.3 1066.3,626.1 1064.9,625.9 1063.5,625.6 1062.1,625.3 1060.7,624.9 1059.3,624.5 1057.9,624.1 1056.4,623.6 1055,623.2 1053.6,622.7 1052.3,622.2 1050.9,621.7 1049.5,621.2 1048.1,620.7 1046.7,620.1 1045.4,619.5 1044,619 1042.5,618.4 1041.1,617.9 1039.7,617.3 1038.2,616.8 1036.7,616.3 1035.2,615.9 1033.7,615.5 1032.2,615.1 1030.7,614.8 1029.1,614.5 1027.6,614.3 1026,614.1 1024.5,614 1022.9,613.9 1021.3,613.9 1019.7,613.9 1018.1,614 1016.5,614.2 1015,614.4 1013.4,614.7 1011.9,615.1 1010.3,615.5 1008.8,616.1 1007.3,616.7 1005.8,617.5 1004.4,618.4 1003.1,619.4 1001.8,620.5 1000.7,621.7 999.7,622.9 998.7,624 997.7,625.2 997.4,625.9 997.3,626.6 997.5,627.3 998,627.9 998.6,628.2 999.4,628.3 1000.1,628.1 1000.6,627.6 1001.6,626.5 1002.6,625.3 1003.5,624.3 1004.5,623.3 1005.5,622.4 1006.6,621.5 1007.7,620.8 1008.9,620.2 1010.1,619.7 1011.5,619.2 1012.8,618.8 1014.2,618.5 1015.6,618.2 1017,618 1018.5,617.9 1019.9,617.8 1021.3,617.7 1022.8,617.8 1024.2,617.8 1025.6,618 1027.1,618.1 1028.5,618.4 1029.9,618.6 1031.3,618.9 1032.8,619.3 1034.2,619.7 1035.6,620.1 1037,620.5 1038.3,621 1039.7,621.5 1041.1,622.1 1042.5,622.6 1043.9,623.2 1045.3,623.8 1046.7,624.3 1048.1,624.9 1049.5,625.4 1050.9,626 1052.4,626.5 1053.8,627 1055.3,627.4 1056.7,627.9 1058.2,628.3 1059.6,628.7 1061.1,629.1 1062.6,629.5 1064.1,629.8 1065.7,630.1 1067.2,630.3 1068.8,630.4 1070.5,630.4 1072.1,630.2 1073.7,630 1075.2,629.5 1076.7,629 1078.2,628.4 1079.6,627.7 1081,627.1 1082.3,626.4 1083.7,625.7 1085,625 1086.3,624.3 1087.7,623.6 1089,622.9 1090.3,622.2 1091.6,621.5 1092.9,620.9 1094.2,620.4 1095.6,619.9 1096.9,619.4 1098.3,619 1099.7,618.6 1101.1,618.3 1102.6,618 1104,617.7 1105.4,617.6 1106.8,617.4 1108.2,617.3 1109.7,617.3 1111.1,617.4 1112.5,617.5 1113.9,617.6 1115.4,617.8 1116.8,618.1 1118.3,618.3 1119.8,618.6 1121.3,618.8 1122.7,619.1 1124.2,619.4 1125.7,619.6 1127.2,619.9 1128.7,620.1 1130.2,620.4 1131.7,620.6 1133.2,620.8 1134.8,621 1136.3,621.1 1137.9,621.1 1139.5,621.1 1141.1,620.9 1142.6,620.8 1144.1,620.6 1145.6,620.3 1147.1,620.1 1148.6,619.8 1150,619.6 1151.5,619.4 1152.9,619.3 1154.3,619.2 1155.8,619.2 1157.2,619.2 1158.7,619.3 1160.2,619.4 1161.6,619.5 1163.1,619.6 1164.6,619.7 1166.1,619.8 1167.6,619.9 1169.1,620.1 1170.6,620.2 1171.4,620.1 1172.2,619.7 1172.7,619 1172.9,618.2 1172.8,617.4 1172.4,616.7 1171.8,616.2Z" style="filter:blur(1px)"/>
<path class="mb" d="M1175.1,624.9 1176.6,625.1 1178.2,625.3 1179.7,625.5 1181.3,625.8 1182.8,626 1184.4,626.2 1185.9,626.4 1187.5,626.6 1189,626.9 1190.5,627.1 1192.1,627.3 1193.6,627.5 1195.2,627.7 1196.7,628 1198.3,628.2 1199.8,628.4 1201.3,628.6 1203.6,628.5 1205.6,627.5 1207.2,625.8 1207.9,623.7 1207.8,621.4 1206.8,619.4 1205.1,617.9 1203,617.1 1201.4,616.9 1199.9,616.7 1198.3,616.5 1196.8,616.3 1195.3,616 1193.7,615.8 1192.2,615.6 1190.6,615.4 1189.1,615.2 1187.5,614.9 1186,614.7 1184.5,614.5 1182.9,614.3 1181.4,614.1 1179.8,613.8 1178.3,613.6 1176.7,613.4 1174.5,613.5 1172.4,614.5 1170.9,616.2 1170.2,618.3 1170.3,620.6 1171.3,622.6 1173,624.1Z"/>
<path class="ml" d="M1175.4,622.6 1177,622.8 1178.5,623.1 1180.1,623.3 1181.6,623.5 1183.1,623.7 1184.7,623.9 1186.2,624.2 1187.8,624.4 1189.3,624.6 1190.9,624.8 1192.4,625 1194,625.3 1195.5,625.5 1197,625.7 1198.6,625.9 1200.1,626.1 1201.7,626.4 1202.9,626.3 1204,625.7 1204.9,624.8 1205.3,623.6 1205.2,622.4 1204.7,621.3 1203.7,620.4 1202.6,620 1201,619.8 1199.5,619.6 1197.9,619.4 1196.4,619.2 1194.8,618.9 1193.3,618.7 1191.8,618.5 1190.2,618.3 1188.7,618.1 1187.1,617.8 1185.6,617.6 1184,617.4 1182.5,617.2 1181,617 1179.4,616.7 1177.9,616.5 1176.3,616.3 1175.1,616.4 1174,616.9 1173.1,617.8 1172.7,619 1172.8,620.3 1173.3,621.4 1174.3,622.2Z" style="filter:blur(1px)"/>
<clipPath id="m9"><path d="M1175.1,624.9 1176.6,625.1 1178.2,625.3 1179.7,625.5 1181.3,625.8 1182.8,626 1184.4,626.2 1185.9,626.4 1187.5,626.6 1189,626.9 1190.5,627.1 1192.1,627.3 1193.6,627.5 1195.2,627.7 1196.7,628 1198.3,628.2 1199.8,628.4 1201.3,628.6 1203.6,628.5 1205.6,627.5 1207.2,625.8 1207.9,623.7 1207.8,621.4 1206.8,619.4 1205.1,617.9 1203,617.1 1201.4,616.9 1199.9,616.7 1198.3,616.5 1196.8,616.3 1195.3,616 1193.7,615.8 1192.2,615.6 1190.6,615.4 1189.1,615.2 1187.5,614.9 1186,614.7 1184.5,614.5 1182.9,614.3 1181.4,614.1 1179.8,613.8 1178.3,613.6 1176.7,613.4 1174.5,613.5 1172.4,614.5 1170.9,616.2 1170.2,618.3 1170.3,620.6 1171.3,622.6 1173,624.1Z"/></clipPath>
<g clip-path="url(#m9)"><circle cx="1202.2" cy="622.9" r="6.1" fill="#93cfd3" style="filter:blur(2.6px)"/></g>
<clipPath id="c10"><path d="M1263.8,623.8C1264.2,622.6 1264.1,621.7 1263.8,620.6C1263.6,619.5 1263.1,618.4 1262.2,617.3C1261.2,616.1 1260.3,615.2 1258.2,613.9C1256.1,612.7 1252.7,611 1249.6,609.7C1246.4,608.3 1242.5,606.9 1239.2,605.9C1235.9,604.9 1232.7,604.3 1229.6,603.7C1226.5,603.1 1223.5,602.5 1220.7,602.2C1217.9,601.9 1215.1,601.8 1213,601.8C1210.9,601.8 1209.6,601.9 1208.2,602.2C1206.8,602.5 1205.6,603 1204.7,603.7C1203.7,604.4 1202.9,605.3 1202.4,606.3C1201.9,607.3 1201.7,608.4 1201.5,609.5C1201.4,610.6 1201.4,611.7 1201.4,612.9C1201.4,614.2 1201.2,614.6 1201.4,617.1C1201.7,619.6 1202.5,625.5 1202.8,627.8C1203.1,630.1 1203,629.6 1203.2,630.8C1203.3,631.9 1203.5,633.4 1203.7,634.6C1204,635.9 1204.2,637.2 1204.7,638.3C1205.1,639.5 1205.6,640.6 1206.4,641.4C1207.2,642.3 1208.4,643 1209.5,643.5C1210.5,643.9 1211.2,644 1212.5,644.1C1213.9,644.3 1215.5,644.3 1217.4,644.3C1219.3,644.2 1221.8,644.1 1224,643.7C1226.3,643.3 1228.5,642.6 1231,642C1233.5,641.5 1236.2,641.3 1239.1,640.3C1242.1,639.4 1244.9,638.7 1248.7,636.5C1252.5,634.4 1259.1,629.6 1261.7,627.4C1264.2,625.3 1263.4,624.9 1263.8,623.8Z"/></clipPath>
<path class="hd" d="M1263.8,623.8C1264.2,622.6 1264.1,621.7 1263.8,620.6C1263.6,619.5 1263.1,618.4 1262.2,617.3C1261.2,616.1 1260.3,615.2 1258.2,613.9C1256.1,612.7 1252.7,611 1249.6,609.7C1246.4,608.3 1242.5,606.9 1239.2,605.9C1235.9,604.9 1232.7,604.3 1229.6,603.7C1226.5,603.1 1223.5,602.5 1220.7,602.2C1217.9,601.9 1215.1,601.8 1213,601.8C1210.9,601.8 1209.6,601.9 1208.2,602.2C1206.8,602.5 1205.6,603 1204.7,603.7C1203.7,604.4 1202.9,605.3 1202.4,606.3C1201.9,607.3 1201.7,608.4 1201.5,609.5C1201.4,610.6 1201.4,611.7 1201.4,612.9C1201.4,614.2 1201.2,614.6 1201.4,617.1C1201.7,619.6 1202.5,625.5 1202.8,627.8C1203.1,630.1 1203,629.6 1203.2,630.8C1203.3,631.9 1203.5,633.4 1203.7,634.6C1204,635.9 1204.2,637.2 1204.7,638.3C1205.1,639.5 1205.6,640.6 1206.4,641.4C1207.2,642.3 1208.4,643 1209.5,643.5C1210.5,643.9 1211.2,644 1212.5,644.1C1213.9,644.3 1215.5,644.3 1217.4,644.3C1219.3,644.2 1221.8,644.1 1224,643.7C1226.3,643.3 1228.5,642.6 1231,642C1233.5,641.5 1236.2,641.3 1239.1,640.3C1242.1,639.4 1244.9,638.7 1248.7,636.5C1252.5,634.4 1259.1,629.6 1261.7,627.4C1264.2,625.3 1263.4,624.9 1263.8,623.8Z"/>
<g clip-path="url(#c10)"><path d="M1200.1,598.8 1209.8,601.9 1212.3,611.2 1213.8,623.7 1218,635.6 1231.3,642.3 1237.9,651.8 1198.7,649.2Z" fill="#93cfd3" style="filter:blur(3.1px)" opacity="0.8"/>
<path d="M1263.8,623.8C1264.2,622.6 1264.1,621.7 1263.8,620.6C1263.6,619.5 1263.1,618.4 1262.2,617.3C1261.2,616.1 1260.3,615.2 1258.2,613.9C1256.1,612.7 1252.7,611 1249.6,609.7C1246.4,608.3 1242.5,606.9 1239.2,605.9C1235.9,604.9 1232.7,604.3 1229.6,603.7C1226.5,603.1 1223.5,602.5 1220.7,602.2C1217.9,601.9 1215.1,601.8 1213,601.8C1210.9,601.8 1209.6,601.9 1208.2,602.2C1206.8,602.5 1205.6,603 1204.7,603.7C1203.7,604.4 1202.9,605.3 1202.4,606.3C1201.9,607.3 1201.7,608.4 1201.5,609.5C1201.4,610.6 1201.4,611.7 1201.4,612.9C1201.4,614.2 1201.2,614.6 1201.4,617.1C1201.7,619.6 1202.5,625.5 1202.8,627.8C1203.1,630.1 1203,629.6 1203.2,630.8C1203.3,631.9 1203.5,633.4 1203.7,634.6C1204,635.9 1204.2,637.2 1204.7,638.3C1205.1,639.5 1205.6,640.6 1206.4,641.4C1207.2,642.3 1208.4,643 1209.5,643.5C1210.5,643.9 1211.2,644 1212.5,644.1C1213.9,644.3 1215.5,644.3 1217.4,644.3C1219.3,644.2 1221.8,644.1 1224,643.7C1226.3,643.3 1228.5,642.6 1231,642C1233.5,641.5 1236.2,641.3 1239.1,640.3C1242.1,639.4 1244.9,638.7 1248.7,636.5C1252.5,634.4 1259.1,629.6 1261.7,627.4C1264.2,625.3 1263.4,624.9 1263.8,623.8Z" fill="none" stroke="#8ac8cd" stroke-width="1.7" style="filter:blur(0.7px)" opacity="0.7"/></g>
<path d="M1253.8,613.8C1254.5,614.4 1257.1,616 1258.3,617C1259.5,618.1 1260.4,619.3 1261,620.3C1261.5,621.4 1261.7,622.2 1261.6,623.3C1261.4,624.3 1261.2,625.2 1260.1,626.5C1259,627.7 1256,630 1255.1,630.7" fill="none" stroke="#98d2d6" stroke-width="0.6" opacity="0.5"/>
<ellipse class="nu" cx="1237.7" cy="622.5" rx="10.9" ry="8.1" transform="rotate(-10.2 1237.7 622.5)"/>
<path class="ar2" d="M241.6,613.2 Q254.7,616.6 260.2,606.9"/>
<path class="ar2" d="M244.3,610.5 Q253.5,612.3 256.4,606.3"/>
<path class="ar2" d="M279.3,621 Q288.7,613 301,615.8"/>
<path class="ar2" d="M283.3,623.1 Q290.6,616.5 299.2,619.1"/>
<path class="ar2" d="M191.9,633.8 Q200.3,623.7 212.3,623.6"/>
<path class="ar2" d="M195.9,635.5 Q202.3,627.2 212,627.4"/>
<path class="tb" d="M350.7,594.7 349.3,595 347.8,595.3 346.3,595.6 344.8,596 343.4,596.3 341.9,596.6 340.4,596.9 339,597.2 337.5,597.5 336.1,597.8 334.6,598.1 333.2,598.4 331.7,598.7 330.3,598.9 328.8,599.2 327.4,599.4 326,599.6 324.5,599.8 323.1,600 321.7,600.1 320.3,600.2 318.8,600.3 317.4,600.4 316,600.5 314.5,600.5 313.1,600.5 311.6,600.5 310.2,600.5 308.7,600.5 307.3,600.4 305.8,600.4 304.3,600.3 302.9,600.2 301.4,600.1 300,600 298.5,599.8 297,599.7 295.5,599.6 293.9,599.5 292.3,599.4 290.7,599.3 289.1,599.3 287.4,599.4 285.7,599.6 284,599.9 282.3,600.4 280.7,600.9 279.1,601.5 277.6,602.3 276.1,603 274.7,603.9 273.4,604.7 272.1,605.6 270.8,606.4 269.5,607.3 268.3,608.1 267.1,608.9 265.9,609.7 264.7,610.5 263.4,611.3 262.2,612 261,612.7 259.8,613.3 258.6,614 257.3,614.5 256.1,615 254.9,615.5 253.7,615.8 252.5,616.1 251.3,616.4 250,616.6 248.7,616.7 247.4,616.7 246.1,616.7 244.7,616.7 243.4,616.6 241.9,616.4 240.5,616.3 239.1,616.1 237.6,615.9 236.2,615.7 234.7,615.5 233.2,615.3 231.8,615.1 230.3,614.8 228.8,614.6 227.3,614.3 225.8,614.1 224.3,613.9 222.8,613.6 221.3,613.4 219.7,613.2 218.2,613.1 216.6,612.9 215,612.8 213.5,612.7 211.9,612.7 210.3,612.7 208.7,612.7 207.1,612.8 205.4,612.9 203.8,613.1 202.2,613.4 200.6,613.8 198.9,614.2 197.3,614.7 195.8,615.4 194.3,616.1 192.8,616.8 191.3,617.7 190,618.6 188.6,619.6 187.4,620.6 186.1,621.6 185,622.6 183.8,623.6 182.6,624.7 181.5,625.8 180.5,626.8 179.4,627.8 178.6,629 178.2,630.4 178.4,631.9 179.2,633.2 180.4,634 181.8,634.4 183.3,634.2 184.6,633.4 185.7,632.3 186.9,631.2 187.8,630.3 188.9,629.3 190,628.3 191.1,627.4 192.2,626.5 193.2,625.7 194.3,624.9 195.4,624.2 196.5,623.6 197.6,623 198.8,622.5 200,622 201.2,621.6 202.4,621.3 203.6,621 204.9,620.8 206.3,620.7 207.6,620.5 209,620.5 210.3,620.4 211.7,620.5 213.1,620.5 214.5,620.6 216,620.7 217.4,620.8 218.8,621 220.2,621.2 221.7,621.4 223.1,621.6 224.6,621.9 226.1,622.1 227.5,622.4 229,622.6 230.5,622.9 232,623.1 233.5,623.3 235,623.6 236.5,623.8 238.1,624 239.6,624.2 241.1,624.4 242.7,624.5 244.3,624.6 245.9,624.7 247.6,624.7 249.2,624.6 250.9,624.5 252.5,624.3 254.2,624 255.8,623.6 257.4,623.1 259,622.5 260.5,621.9 262,621.2 263.5,620.5 264.9,619.8 266.3,619 267.6,618.2 269,617.4 270.3,616.5 271.6,615.7 272.8,614.9 274.1,614 275.3,613.2 276.6,612.4 277.8,611.6 278.9,610.9 280.1,610.2 281.2,609.6 282.4,609.1 283.5,608.6 284.6,608.3 285.7,608 286.9,607.8 288.1,607.6 289.3,607.6 290.6,607.6 292,607.6 293.3,607.7 294.8,607.8 296.2,608 297.7,608.1 299.2,608.2 300.8,608.4 302.3,608.5 303.8,608.6 305.4,608.7 306.9,608.8 308.5,608.8 310,608.9 311.5,608.9 313.1,608.9 314.7,608.9 316.2,608.9 317.8,608.8 319.3,608.7 320.9,608.6 322.5,608.5 324,608.4 325.6,608.2 327.1,608 328.7,607.8 330.2,607.5 331.7,607.3 333.2,607 334.7,606.7 336.2,606.5 337.7,606.2 339.2,605.9 340.7,605.6 342.2,605.3 343.7,605 345.1,604.6 346.6,604.3 348.1,604 349.6,603.7 351,603.4 352.5,603.1 354,602.5 355.2,601.3 355.8,599.7 355.8,598 355.2,596.5 354,595.3 352.4,594.7Z"/>
<path class="tm" d="M350.8,595.1 349.3,595.5 347.9,595.8 346.4,596.1 344.9,596.4 343.5,596.7 342,597 340.5,597.4 339.1,597.7 337.6,598 336.2,598.3 334.7,598.6 333.2,598.8 331.8,599.1 330.4,599.4 328.9,599.6 327.5,599.8 326,600.1 324.6,600.3 323.2,600.4 321.7,600.6 320.3,600.7 318.9,600.8 317.4,600.9 316,600.9 314.5,601 313.1,601 311.6,601 310.2,601 308.7,600.9 307.2,600.9 305.8,600.8 304.3,600.7 302.8,600.6 301.4,600.5 299.9,600.4 298.4,600.3 296.9,600.2 295.4,600 293.9,599.9 292.3,599.8 290.7,599.8 289.1,599.8 287.4,599.9 285.7,600.1 284.1,600.4 282.4,600.8 280.8,601.3 279.3,602 277.8,602.7 276.3,603.4 274.9,604.2 273.6,605.1 272.3,605.9 271,606.8 269.8,607.6 268.6,608.5 267.3,609.3 266.1,610.1 264.9,610.9 263.7,611.6 262.4,612.4 261.2,613.1 260,613.7 258.7,614.4 257.5,614.9 256.3,615.4 255.1,615.9 253.8,616.3 252.6,616.6 251.3,616.8 250.1,617 248.8,617.1 247.4,617.2 246.1,617.2 244.7,617.1 243.3,617 241.9,616.9 240.5,616.7 239,616.6 237.6,616.4 236.1,616.2 234.6,615.9 233.2,615.7 231.7,615.5 230.2,615.2 228.8,615 227.3,614.8 225.8,614.5 224.3,614.3 222.8,614.1 221.2,613.8 219.7,613.7 218.1,613.5 216.6,613.3 215,613.2 213.4,613.1 211.9,613.1 210.3,613.1 208.7,613.1 207.1,613.2 205.5,613.4 203.9,613.6 202.3,613.8 200.7,614.2 199.1,614.6 197.5,615.1 195.9,615.8 194.4,616.4 193,617.2 191.6,618.1 190.2,619 188.9,619.9 187.6,620.9 186.4,621.9 185.2,622.9 184.1,623.9 182.9,625 181.8,626.1 180.8,627.1 179.7,628.1 179,629.1 178.7,630.3 178.9,631.6 179.5,632.6 180.5,633.4 181.7,633.6 183,633.5 184,632.8 185.2,631.8 186.3,630.7 187.3,629.7 188.4,628.7 189.5,627.7 190.6,626.8 191.7,625.9 192.8,625.1 193.9,624.3 195,623.5 196.1,622.9 197.3,622.3 198.5,621.7 199.7,621.2 200.9,620.8 202.2,620.5 203.5,620.2 204.8,620 206.2,619.8 207.5,619.7 208.9,619.7 210.3,619.6 211.8,619.6 213.2,619.7 214.6,619.8 216,619.9 217.5,620 218.9,620.2 220.3,620.4 221.8,620.6 223.3,620.8 224.7,621 226.2,621.3 227.7,621.5 229.2,621.8 230.6,622 232.1,622.3 233.6,622.5 235.1,622.7 236.7,623 238.2,623.2 239.7,623.4 241.2,623.5 242.8,623.7 244.4,623.8 245.9,623.9 247.6,623.9 249.2,623.8 250.8,623.7 252.4,623.5 254,623.2 255.6,622.8 257.2,622.3 258.7,621.7 260.2,621.1 261.7,620.5 263.1,619.8 264.5,619 265.8,618.3 267.2,617.5 268.5,616.7 269.8,615.8 271.1,615 272.4,614.1 273.6,613.3 274.9,612.5 276.1,611.7 277.3,610.9 278.5,610.1 279.7,609.4 280.8,608.8 282,608.3 283.2,607.8 284.4,607.4 285.5,607.1 286.8,606.9 288,606.8 289.3,606.7 290.6,606.7 292,606.8 293.4,606.8 294.8,607 296.3,607.1 297.8,607.2 299.3,607.4 300.8,607.5 302.4,607.6 303.9,607.7 305.4,607.8 307,607.9 308.5,607.9 310,608 311.6,608 313.1,608 314.6,608 316.2,608 317.7,607.9 319.3,607.9 320.8,607.8 322.4,607.6 323.9,607.5 325.5,607.3 327,607.1 328.5,606.9 330,606.6 331.6,606.4 333.1,606.1 334.6,605.9 336.1,605.6 337.6,605.3 339,605 340.5,604.7 342,604.4 343.5,604.1 345,603.8 346.4,603.5 347.9,603.1 349.4,602.8 350.8,602.5 352.3,602.2 353.6,601.7 354.6,600.7 355.1,599.4 355.1,598 354.6,596.7 353.5,595.7 352.2,595.1Z"/>
<path class="tl" d="M351.1,596.5 349.6,596.8 348.1,597.1 346.7,597.4 345.2,597.7 343.7,598 342.3,598.3 340.8,598.7 339.3,599 337.9,599.3 336.4,599.6 335,599.9 333.5,600.1 332,600.4 330.6,600.7 329.1,600.9 327.7,601.1 326.2,601.4 324.8,601.6 323.3,601.7 321.8,601.9 320.4,602 318.9,602.1 317.5,602.2 316,602.2 314.6,602.3 313.1,602.3 311.6,602.3 310.1,602.3 308.7,602.2 307.2,602.2 305.7,602.1 304.2,602 302.8,601.9 301.3,601.8 299.8,601.7 298.3,601.6 296.8,601.4 295.3,601.3 293.8,601.2 292.3,601.1 290.7,601.1 289.1,601.1 287.5,601.2 285.9,601.3 284.4,601.6 282.8,602 281.3,602.5 279.8,603.1 278.3,603.8 276.9,604.5 275.6,605.3 274.3,606.2 273,607 271.7,607.8 270.5,608.7 269.3,609.5 268,610.3 266.8,611.2 265.6,611.9 264.3,612.7 263.1,613.5 261.8,614.2 260.5,614.9 259.3,615.5 258,616.1 256.7,616.6 255.4,617.1 254.2,617.5 252.8,617.8 251.5,618 250.2,618.2 248.8,618.3 247.5,618.4 246.1,618.4 244.7,618.3 243.2,618.2 241.8,618.1 240.3,618 238.9,617.8 237.4,617.6 235.9,617.4 234.5,617.2 233,616.9 231.5,616.7 230,616.5 228.6,616.2 227.1,616 225.6,615.7 224.1,615.5 222.6,615.3 221.1,615.1 219.5,614.9 218,614.7 216.5,614.5 214.9,614.4 213.4,614.4 211.8,614.3 210.3,614.3 208.7,614.3 207.2,614.4 205.6,614.6 204,614.8 202.5,615 200.9,615.4 199.4,615.8 197.9,616.3 196.4,616.9 195,617.5 193.6,618.3 192.2,619.1 190.9,619.9 189.6,620.9 188.4,621.8 187.2,622.8 186,623.8 184.9,624.8 183.7,625.9 182.6,627 181.6,628 180.5,629 180.1,629.6 179.9,630.3 180,631 180.4,631.7 181,632.1 181.7,632.3 182.5,632.2 183.1,631.8 184.2,630.7 185.3,629.7 186.3,628.6 187.4,627.7 188.6,626.7 189.7,625.7 190.8,624.8 191.9,623.9 193.1,623.1 194.2,622.3 195.4,621.6 196.7,621 197.9,620.4 199.2,619.9 200.5,619.5 201.9,619.1 203.2,618.8 204.6,618.6 206,618.4 207.4,618.3 208.9,618.2 210.3,618.2 211.8,618.2 213.2,618.2 214.7,618.3 216.2,618.4 217.6,618.6 219.1,618.7 220.5,618.9 222,619.1 223.5,619.4 224.9,619.6 226.4,619.9 227.9,620.1 229.4,620.3 230.9,620.6 232.4,620.8 233.9,621.1 235.4,621.3 236.9,621.5 238.4,621.7 239.9,621.9 241.4,622.1 242.9,622.2 244.4,622.3 246,622.4 247.5,622.4 249.1,622.3 250.6,622.2 252.2,622 253.7,621.7 255.2,621.3 256.7,620.9 258.2,620.4 259.6,619.8 261,619.1 262.4,618.4 263.8,617.7 265.1,617 266.4,616.2 267.7,615.4 269,614.6 270.3,613.7 271.5,612.9 272.8,612.1 274,611.2 275.3,610.4 276.5,609.6 277.7,608.8 278.9,608.1 280.2,607.5 281.4,606.9 282.7,606.4 283.9,606 285.2,605.7 286.5,605.4 287.9,605.3 289.2,605.2 290.6,605.2 292.1,605.2 293.5,605.3 295,605.4 296.5,605.6 297.9,605.7 299.4,605.8 301,606 302.5,606.1 304,606.2 305.5,606.3 307,606.3 308.5,606.4 310.1,606.4 311.6,606.5 313.1,606.5 314.6,606.5 316.1,606.4 317.7,606.4 319.2,606.3 320.7,606.2 322.2,606.1 323.8,605.9 325.3,605.7 326.8,605.5 328.3,605.3 329.8,605.1 331.3,604.8 332.8,604.6 334.3,604.3 335.8,604 337.2,603.7 338.7,603.4 340.2,603.1 341.7,602.8 343.2,602.5 344.6,602.2 346.1,601.9 347.6,601.6 349,601.3 350.5,601 352,600.7 352.7,600.3 353.3,599.7 353.6,599 353.6,598.1 353.3,597.4 352.7,596.8 351.9,596.5Z" style="filter:blur(1px)"/>
<path class="mb" d="M357,604.5 358.6,604.5 360.2,604.4 361.7,604.4 363.3,604.3 364.9,604.3 366.5,604.2 368.1,604.2 369.6,604.1 371.2,604.1 372.8,604 374.4,604 376,603.9 377.5,603.9 379.1,603.9 380.7,603.8 382.3,603.8 384.5,603.2 386.3,601.9 387.5,600 387.9,597.8 387.4,595.6 386.1,593.7 384.2,592.5 381.9,592.2 380.3,592.2 378.8,592.3 377.2,592.3 375.6,592.4 374,592.4 372.4,592.5 370.9,592.5 369.3,592.6 367.7,592.6 366.1,592.6 364.5,592.7 363,592.7 361.4,592.8 359.8,592.8 358.2,592.9 356.6,592.9 354.4,593.5 352.6,594.8 351.4,596.7 351,598.9 351.5,601.1 352.8,603 354.8,604.2Z"/>
<path class="ml" d="M356.9,602.2 358.5,602.2 360.1,602.1 361.7,602.1 363.2,602.1 364.8,602 366.4,602 368,601.9 369.6,601.9 371.1,601.8 372.7,601.8 374.3,601.7 375.9,601.7 377.5,601.6 379.1,601.6 380.6,601.5 382.2,601.5 383.4,601.2 384.4,600.5 385.1,599.4 385.3,598.2 385,597 384.3,596 383.2,595.3 382,595.1 380.4,595.1 378.9,595.2 377.3,595.2 375.7,595.3 374.1,595.3 372.5,595.4 371,595.4 369.4,595.5 367.8,595.5 366.2,595.6 364.6,595.6 363.1,595.7 361.5,595.7 359.9,595.8 358.3,595.8 356.7,595.9 355.5,596.1 354.5,596.9 353.8,597.9 353.6,599.2 353.9,600.4 354.6,601.4 355.7,602Z" style="filter:blur(1px)"/>
<clipPath id="m11"><path d="M357,604.5 358.6,604.5 360.2,604.4 361.7,604.4 363.3,604.3 364.9,604.3 366.5,604.2 368.1,604.2 369.6,604.1 371.2,604.1 372.8,604 374.4,604 376,603.9 377.5,603.9 379.1,603.9 380.7,603.8 382.3,603.8 384.5,603.2 386.3,601.9 387.5,600 387.9,597.8 387.4,595.6 386.1,593.7 384.2,592.5 381.9,592.2 380.3,592.2 378.8,592.3 377.2,592.3 375.6,592.4 374,592.4 372.4,592.5 370.9,592.5 369.3,592.6 367.7,592.6 366.1,592.6 364.5,592.7 363,592.7 361.4,592.8 359.8,592.8 358.2,592.9 356.6,592.9 354.4,593.5 352.6,594.8 351.4,596.7 351,598.9 351.5,601.1 352.8,603 354.8,604.2Z"/></clipPath>
<g clip-path="url(#m11)"><circle cx="382.1" cy="598" r="6.2" fill="#93cfd3" style="filter:blur(2.7px)"/></g>
<clipPath id="c12"><path d="M443.6,595.6C444,594.4 444,593.4 443.7,592.3C443.4,591.2 443,590.1 442,589C441.1,587.9 440.1,586.9 438,585.7C435.9,584.6 432.6,583.1 429.4,581.8C426.3,580.6 422.4,579.3 419.1,578.5C415.8,577.6 412.5,577.2 409.5,576.7C406.4,576.3 403.4,575.9 400.6,575.7C397.8,575.5 395,575.5 392.9,575.6C390.8,575.7 389.5,575.9 388.1,576.4C386.7,576.8 385.6,577.3 384.6,578.1C383.6,578.8 382.9,579.8 382.4,580.9C381.8,581.9 381.7,583.1 381.5,584.2C381.3,585.4 381.4,586.4 381.3,587.7C381.3,589.1 381.1,589.5 381.4,592.1C381.6,594.6 382.4,600.7 382.7,603C383,605.3 382.9,604.9 383.1,606C383.3,607.2 383.4,608.7 383.7,610C383.9,611.3 384.2,612.6 384.6,613.8C385,614.9 385.6,616 386.4,616.8C387.2,617.7 388.4,618.4 389.4,618.8C390.4,619.2 391.1,619.2 392.5,619.3C393.8,619.4 395.4,619.4 397.3,619.2C399.2,619 401.7,618.7 404,618.2C406.2,617.7 408.4,616.8 410.9,616.1C413.4,615.4 416.1,615.1 419,614C421.9,612.9 424.8,612 428.6,609.5C432.3,607.1 439,601.8 441.5,599.5C444,597.2 443.3,596.8 443.6,595.6Z"/></clipPath>
<path class="hd" d="M443.6,595.6C444,594.4 444,593.4 443.7,592.3C443.4,591.2 443,590.1 442,589C441.1,587.9 440.1,586.9 438,585.7C435.9,584.6 432.6,583.1 429.4,581.8C426.3,580.6 422.4,579.3 419.1,578.5C415.8,577.6 412.5,577.2 409.5,576.7C406.4,576.3 403.4,575.9 400.6,575.7C397.8,575.5 395,575.5 392.9,575.6C390.8,575.7 389.5,575.9 388.1,576.4C386.7,576.8 385.6,577.3 384.6,578.1C383.6,578.8 382.9,579.8 382.4,580.9C381.8,581.9 381.7,583.1 381.5,584.2C381.3,585.4 381.4,586.4 381.3,587.7C381.3,589.1 381.1,589.5 381.4,592.1C381.6,594.6 382.4,600.7 382.7,603C383,605.3 382.9,604.9 383.1,606C383.3,607.2 383.4,608.7 383.7,610C383.9,611.3 384.2,612.6 384.6,613.8C385,614.9 385.6,616 386.4,616.8C387.2,617.7 388.4,618.4 389.4,618.8C390.4,619.2 391.1,619.2 392.5,619.3C393.8,619.4 395.4,619.4 397.3,619.2C399.2,619 401.7,618.7 404,618.2C406.2,617.7 408.4,616.8 410.9,616.1C413.4,615.4 416.1,615.1 419,614C421.9,612.9 424.8,612 428.6,609.5C432.3,607.1 439,601.8 441.5,599.5C444,597.2 443.3,596.8 443.6,595.6Z"/>
<g clip-path="url(#c12)"><path d="M380.1,573.2 389.7,576 392.2,585.4 393.7,598.2 398,610.2 411.2,616.4 417.8,625.9 378.7,625.2Z" fill="#93cfd3" style="filter:blur(3.1px)" opacity="0.8"/>
<path d="M443.6,595.6C444,594.4 444,593.4 443.7,592.3C443.4,591.2 443,590.1 442,589C441.1,587.9 440.1,586.9 438,585.7C435.9,584.6 432.6,583.1 429.4,581.8C426.3,580.6 422.4,579.3 419.1,578.5C415.8,577.6 412.5,577.2 409.5,576.7C406.4,576.3 403.4,575.9 400.6,575.7C397.8,575.5 395,575.5 392.9,575.6C390.8,575.7 389.5,575.9 388.1,576.4C386.7,576.8 385.6,577.3 384.6,578.1C383.6,578.8 382.9,579.8 382.4,580.9C381.8,581.9 381.7,583.1 381.5,584.2C381.3,585.4 381.4,586.4 381.3,587.7C381.3,589.1 381.1,589.5 381.4,592.1C381.6,594.6 382.4,600.7 382.7,603C383,605.3 382.9,604.9 383.1,606C383.3,607.2 383.4,608.7 383.7,610C383.9,611.3 384.2,612.6 384.6,613.8C385,614.9 385.6,616 386.4,616.8C387.2,617.7 388.4,618.4 389.4,618.8C390.4,619.2 391.1,619.2 392.5,619.3C393.8,619.4 395.4,619.4 397.3,619.2C399.2,619 401.7,618.7 404,618.2C406.2,617.7 408.4,616.8 410.9,616.1C413.4,615.4 416.1,615.1 419,614C421.9,612.9 424.8,612 428.6,609.5C432.3,607.1 439,601.8 441.5,599.5C444,597.2 443.3,596.8 443.6,595.6Z" fill="none" stroke="#8ac8cd" stroke-width="1.8" style="filter:blur(0.7px)" opacity="0.7"/></g>
<path d="M433.6,585.9C434.4,586.4 437,587.9 438.2,588.9C439.4,590 440.3,591.1 440.8,592.2C441.4,593.2 441.6,594.1 441.4,595.2C441.3,596.2 441,597.2 440,598.6C438.9,599.9 435.8,602.4 435,603.2" fill="none" stroke="#98d2d6" stroke-width="0.6" opacity="0.5"/>
<ellipse class="nu" cx="417.6" cy="595.6" rx="11.1" ry="8.2" transform="rotate(-11.7 417.6 595.6)"/>
<path class="ar2" d="M457.2,644.6 Q470.5,646.9 475.2,636.8"/>
<path class="ar2" d="M459.6,641.7 Q468.9,642.8 471.4,636.5"/>
<path class="ar2" d="M495.4,649.2 Q504.1,640.5 516.6,642.3"/>
<path class="ar2" d="M499.6,651 Q506.3,643.8 515.1,645.7"/>
<path class="ar2" d="M409.4,669.3 Q416.9,658.5 428.8,657.5"/>
<path class="ar2" d="M413.5,670.7 Q419.2,661.9 428.8,661.2"/>
<path class="tb" d="M564,614.7 562.5,615.1 561.1,615.5 559.6,615.8 558.1,616.2 556.6,616.5 555.2,616.9 553.7,617.3 552.2,617.7 550.8,618 549.3,618.4 547.8,618.8 546.3,619.2 544.8,619.6 543.4,620 541.9,620.5 540.4,620.9 538.9,621.3 537.5,621.8 536,622.3 534.6,622.7 533.1,623.2 531.7,623.6 530.3,624.1 528.9,624.5 527.5,624.9 526.2,625.2 524.8,625.6 523.5,625.8 522.2,626 520.9,626.2 519.6,626.3 518.2,626.3 516.9,626.4 515.5,626.3 514,626.3 512.5,626.2 511,626.1 509.4,626.1 507.8,626.1 506.1,626.2 504.4,626.3 502.7,626.6 501.1,627 499.4,627.4 497.8,628 496.3,628.6 494.7,629.3 493.3,630 491.8,630.8 490.4,631.6 489.1,632.4 487.7,633.3 486.4,634.2 485.1,635 483.9,636 482.6,636.9 481.4,637.8 480.2,638.7 479,639.5 477.8,640.4 476.7,641.1 475.6,641.9 474.4,642.5 473.3,643.1 472.2,643.6 471,644.1 469.8,644.5 468.6,644.8 467.4,645 466.1,645.2 464.8,645.4 463.4,645.5 462,645.5 460.6,645.5 459.1,645.5 457.7,645.5 456.2,645.5 454.7,645.4 453.3,645.4 451.8,645.3 450.3,645.2 448.8,645.1 447.3,645 445.8,644.9 444.2,644.9 442.7,644.8 441.2,644.7 439.6,644.7 438.1,644.6 436.5,644.6 435,644.6 433.4,644.6 431.9,644.7 430.3,644.7 428.7,644.8 427.2,644.9 425.6,645 424,645.2 422.4,645.4 420.8,645.6 419.2,645.9 417.6,646.3 416,646.7 414.4,647.2 412.8,647.9 411.3,648.6 409.8,649.5 408.3,650.4 407,651.4 405.7,652.5 404.4,653.6 403.3,654.8 402.2,656.1 401.2,657.3 400.2,658.6 399.3,659.8 398.3,661.1 397.4,662.4 396.6,663.6 395.8,664.7 395.1,666.1 395,667.5 395.5,668.9 396.5,670 397.9,670.7 399.3,670.8 400.7,670.3 401.8,669.3 402.8,668 403.7,666.7 404.5,665.5 405.4,664.4 406.3,663.2 407.1,662.1 408,661.1 408.9,660.1 409.8,659.1 410.8,658.2 411.7,657.4 412.7,656.7 413.7,656.1 414.8,655.5 415.9,655 417,654.5 418.2,654.1 419.5,653.8 420.8,653.5 422.1,653.3 423.5,653.1 424.9,652.9 426.3,652.8 427.7,652.7 429.2,652.6 430.6,652.5 432.1,652.5 433.5,652.4 435,652.4 436.4,652.4 437.9,652.5 439.4,652.5 440.8,652.6 442.3,652.6 443.8,652.7 445.3,652.8 446.8,652.9 448.3,653 449.8,653.1 451.3,653.2 452.9,653.3 454.4,653.4 456,653.4 457.5,653.5 459.1,653.5 460.6,653.5 462.2,653.5 463.8,653.4 465.5,653.3 467.1,653.2 468.7,652.9 470.4,652.6 472,652.2 473.7,651.7 475.3,651.1 476.8,650.4 478.3,649.6 479.7,648.8 481.1,647.9 482.5,647 483.7,646.1 485,645.2 486.2,644.3 487.4,643.4 488.6,642.6 489.8,641.7 491,640.9 492.2,640.1 493.4,639.4 494.6,638.6 495.8,638 497,637.3 498.2,636.7 499.4,636.2 500.7,635.7 501.8,635.3 503,635 504.2,634.7 505.5,634.5 506.7,634.4 508,634.4 509.3,634.4 510.7,634.4 512.1,634.5 513.6,634.6 515.2,634.6 516.8,634.7 518.4,634.7 520,634.6 521.7,634.5 523.3,634.3 525,634.1 526.6,633.7 528.2,633.4 529.7,633 531.2,632.6 532.7,632.1 534.2,631.7 535.7,631.2 537.1,630.8 538.6,630.3 540,629.9 541.4,629.4 542.8,629 544.2,628.6 545.7,628.2 547.1,627.8 548.5,627.4 550,627 551.4,626.7 552.9,626.3 554.3,625.9 555.8,625.6 557.2,625.2 558.7,624.9 560.2,624.5 561.6,624.1 563.1,623.8 564.6,623.4 566,623.1 567.6,622.4 568.7,621.1 569.3,619.5 569.2,617.9 568.5,616.3 567.2,615.2 565.6,614.6Z"/>
<path class="tm" d="M564.1,615.2 562.6,615.5 561.2,615.9 559.7,616.3 558.2,616.6 556.8,617 555.3,617.4 553.8,617.7 552.3,618.1 550.9,618.5 549.4,618.9 547.9,619.3 546.4,619.7 545,620.1 543.5,620.5 542,620.9 540.5,621.3 539.1,621.8 537.6,622.2 536.1,622.7 534.7,623.2 533.3,623.6 531.8,624.1 530.4,624.5 529,624.9 527.7,625.3 526.3,625.7 524.9,626 523.6,626.3 522.3,626.5 520.9,626.6 519.6,626.7 518.2,626.8 516.9,626.8 515.5,626.8 514,626.7 512.5,626.6 511,626.6 509.4,626.5 507.8,626.5 506.1,626.6 504.5,626.8 502.8,627.1 501.2,627.4 499.6,627.9 498,628.4 496.4,629 494.9,629.7 493.5,630.4 492.1,631.2 490.7,632 489.3,632.8 488,633.7 486.7,634.5 485.4,635.4 484.1,636.3 482.9,637.2 481.7,638.1 480.5,639 479.3,639.9 478.1,640.7 476.9,641.5 475.8,642.3 474.6,642.9 473.5,643.5 472.3,644 471.2,644.5 470,644.9 468.7,645.2 467.5,645.5 466.1,645.6 464.8,645.8 463.4,645.9 462,645.9 460.6,646 459.1,646 457.7,645.9 456.2,645.9 454.7,645.9 453.2,645.8 451.8,645.7 450.3,645.6 448.8,645.6 447.3,645.5 445.7,645.4 444.2,645.3 442.7,645.2 441.2,645.1 439.6,645.1 438.1,645 436.5,645 435,645 433.4,645 431.9,645.1 430.3,645.1 428.8,645.2 427.2,645.3 425.6,645.4 424.1,645.6 422.5,645.8 420.9,646 419.3,646.3 417.7,646.7 416.1,647.1 414.5,647.6 413,648.3 411.5,649 410,649.8 408.6,650.7 407.2,651.7 405.9,652.8 404.7,653.9 403.6,655.1 402.5,656.3 401.5,657.6 400.5,658.8 399.6,660 398.6,661.3 397.8,662.6 397,663.8 396.1,665 395.6,666.1 395.5,667.3 395.9,668.5 396.7,669.4 397.9,670 399.1,670 400.3,669.6 401.2,668.8 402.1,667.5 403.1,666.2 403.8,665.1 404.7,663.9 405.6,662.7 406.5,661.6 407.4,660.5 408.3,659.5 409.3,658.5 410.2,657.6 411.2,656.8 412.3,656 413.3,655.4 414.4,654.8 415.6,654.2 416.8,653.7 418,653.3 419.3,653 420.6,652.7 422,652.5 423.3,652.3 424.8,652.1 426.2,652 427.6,651.8 429.1,651.8 430.6,651.7 432,651.7 433.5,651.6 435,651.6 436.5,651.6 437.9,651.6 439.4,651.7 440.9,651.7 442.4,651.8 443.8,651.9 445.3,652 446.8,652.1 448.4,652.2 449.9,652.3 451.4,652.4 452.9,652.5 454.4,652.5 456,652.6 457.5,652.6 459.1,652.7 460.6,652.7 462.2,652.7 463.8,652.6 465.4,652.5 467,652.3 468.6,652.1 470.2,651.8 471.8,651.4 473.4,650.9 474.9,650.3 476.4,649.6 477.9,648.9 479.3,648.1 480.7,647.2 482,646.3 483.2,645.4 484.5,644.5 485.7,643.6 486.9,642.7 488.1,641.9 489.3,641 490.5,640.2 491.7,639.4 492.9,638.6 494.2,637.9 495.4,637.2 496.6,636.5 497.9,635.9 499.1,635.4 500.4,634.9 501.6,634.5 502.8,634.1 504.1,633.9 505.3,633.7 506.6,633.6 508,633.5 509.3,633.5 510.7,633.5 512.2,633.6 513.7,633.7 515.2,633.8 516.8,633.8 518.4,633.8 520,633.7 521.6,633.6 523.2,633.4 524.8,633.2 526.4,632.9 528,632.5 529.5,632.1 531,631.7 532.5,631.3 534,630.8 535.4,630.4 536.9,629.9 538.3,629.5 539.7,629 541.1,628.6 542.6,628.2 544,627.7 545.4,627.3 546.9,626.9 548.3,626.5 549.7,626.2 551.2,625.8 552.6,625.4 554.1,625.1 555.5,624.7 557,624.3 558.5,624 559.9,623.6 561.4,623.3 562.9,622.9 564.3,622.6 565.8,622.2 567.1,621.6 568,620.6 568.5,619.2 568.5,617.8 567.9,616.5 566.8,615.6 565.5,615.1Z"/>
<path class="tl" d="M564.4,616.5 562.9,616.8 561.5,617.2 560,617.6 558.5,617.9 557.1,618.3 555.6,618.7 554.1,619 552.7,619.4 551.2,619.8 549.7,620.1 548.3,620.5 546.8,620.9 545.3,621.3 543.8,621.7 542.4,622.2 540.9,622.6 539.4,623 538,623.5 536.5,624 535.1,624.4 533.7,624.9 532.2,625.3 530.8,625.8 529.4,626.2 528,626.6 526.6,627 525.2,627.3 523.8,627.5 522.4,627.8 521.1,627.9 519.7,628 518.3,628.1 516.9,628.1 515.4,628.1 513.9,628 512.5,627.9 510.9,627.9 509.4,627.8 507.8,627.8 506.2,627.9 504.6,628.1 503,628.3 501.5,628.7 499.9,629.1 498.4,629.6 496.9,630.2 495.5,630.8 494.1,631.5 492.7,632.3 491.3,633.1 490,633.9 488.7,634.7 487.4,635.6 486.1,636.5 484.9,637.3 483.6,638.2 482.4,639.1 481.2,640 480,640.9 478.8,641.8 477.6,642.6 476.4,643.3 475.2,644 474,644.6 472.8,645.2 471.6,645.7 470.3,646.1 469,646.4 467.7,646.7 466.3,646.9 464.9,647 463.5,647.1 462.1,647.2 460.6,647.2 459.1,647.2 457.6,647.2 456.2,647.1 454.7,647.1 453.2,647 451.7,647 450.2,646.9 448.7,646.8 447.2,646.7 445.7,646.6 444.2,646.5 442.6,646.4 441.1,646.4 439.6,646.3 438,646.3 436.5,646.2 435,646.2 433.4,646.3 431.9,646.3 430.4,646.3 428.8,646.4 427.3,646.5 425.7,646.6 424.2,646.8 422.6,647 421.1,647.2 419.5,647.5 418,647.8 416.5,648.3 414.9,648.8 413.5,649.4 412,650.1 410.6,650.8 409.2,651.7 408,652.7 406.7,653.7 405.6,654.8 404.5,655.9 403.4,657.1 402.4,658.3 401.5,659.5 400.6,660.8 399.6,662 398.7,663.3 397.9,664.5 397,665.7 396.7,666.3 396.7,667.1 396.9,667.8 397.4,668.3 398.1,668.7 398.8,668.7 399.5,668.5 400.1,668 401,666.7 401.9,665.4 402.7,664.2 403.6,663.1 404.5,661.9 405.4,660.7 406.3,659.6 407.3,658.5 408.3,657.5 409.3,656.6 410.3,655.7 411.4,654.9 412.6,654.1 413.8,653.5 415,652.9 416.3,652.4 417.6,652 418.9,651.6 420.3,651.3 421.7,651 423.2,650.8 424.6,650.7 426.1,650.5 427.6,650.4 429,650.3 430.5,650.3 432,650.2 433.5,650.2 435,650.2 436.5,650.2 438,650.2 439.4,650.2 440.9,650.3 442.4,650.4 443.9,650.4 445.4,650.5 446.9,650.6 448.4,650.7 450,650.8 451.5,650.9 453,651 454.5,651.1 456,651.1 457.6,651.2 459.1,651.2 460.6,651.2 462.2,651.2 463.7,651.1 465.3,651 466.8,650.9 468.3,650.6 469.9,650.3 471.4,649.9 472.9,649.5 474.4,648.9 475.8,648.3 477.2,647.6 478.5,646.8 479.8,646 481.1,645.1 482.4,644.2 483.6,643.3 484.8,642.4 486,641.5 487.2,640.7 488.4,639.8 489.7,639 490.9,638.1 492.1,637.4 493.4,636.6 494.7,635.9 495.9,635.2 497.2,634.6 498.5,634 499.8,633.5 501.1,633 502.5,632.7 503.8,632.4 505.2,632.2 506.5,632 507.9,632 509.3,632 510.8,632 512.3,632.1 513.7,632.1 515.3,632.2 516.8,632.3 518.3,632.3 519.9,632.2 521.5,632.1 523,631.9 524.5,631.7 526.1,631.4 527.6,631 529.1,630.6 530.6,630.2 532,629.8 533.5,629.3 534.9,628.9 536.4,628.4 537.8,628 539.2,627.5 540.7,627.1 542.1,626.7 543.6,626.2 545,625.8 546.4,625.4 547.9,625 549.3,624.6 550.8,624.3 552.2,623.9 553.7,623.5 555.2,623.2 556.6,622.8 558.1,622.4 559.6,622.1 561,621.7 562.5,621.4 564,621 565.4,620.7 566.2,620.3 566.8,619.7 567,618.9 567,618.1 566.6,617.3 566,616.7 565.2,616.4Z" style="filter:blur(1px)"/>
<path class="mb" d="M570.3,624.7 571.8,624.7 573.4,624.6 575,624.6 576.6,624.6 578.2,624.6 579.8,624.6 581.4,624.6 582.9,624.6 584.5,624.6 586.1,624.6 587.7,624.5 589.3,624.5 590.9,624.5 592.5,624.5 594.1,624.5 595.6,624.5 597.9,624 599.7,622.8 601,620.9 601.4,618.7 600.9,616.4 599.7,614.6 597.8,613.3 595.6,612.9 594,612.9 592.4,612.9 590.8,612.9 589.2,612.9 587.6,612.9 586,613 584.5,613 582.9,613 581.3,613 579.7,613 578.1,613 576.5,613 574.9,613 573.4,613 571.8,613.1 570.2,613.1 568,613.5 566.1,614.8 564.8,616.7 564.4,618.9 564.9,621.1 566.1,623 568,624.2Z"/>
<path class="ml" d="M570.2,622.4 571.8,622.4 573.4,622.4 575,622.3 576.6,622.3 578.2,622.3 579.8,622.3 581.3,622.3 582.9,622.3 584.5,622.3 586.1,622.3 587.7,622.3 589.3,622.2 590.9,622.2 592.5,622.2 594,622.2 595.6,622.2 596.8,621.9 597.9,621.3 598.6,620.2 598.8,619 598.5,617.8 597.8,616.7 596.8,616.1 595.6,615.8 594,615.8 592.4,615.8 590.8,615.9 589.2,615.9 587.6,615.9 586.1,615.9 584.5,615.9 582.9,615.9 581.3,615.9 579.7,615.9 578.1,615.9 576.5,616 575,616 573.4,616 571.8,616 570.2,616 569,616.2 568,616.9 567.3,618 567,619.2 567.3,620.4 568,621.5 569,622.1Z" style="filter:blur(1px)"/>
<clipPath id="m13"><path d="M570.3,624.7 571.8,624.7 573.4,624.6 575,624.6 576.6,624.6 578.2,624.6 579.8,624.6 581.4,624.6 582.9,624.6 584.5,624.6 586.1,624.6 587.7,624.5 589.3,624.5 590.9,624.5 592.5,624.5 594.1,624.5 595.6,624.5 597.9,624 599.7,622.8 601,620.9 601.4,618.7 600.9,616.4 599.7,614.6 597.8,613.3 595.6,612.9 594,612.9 592.4,612.9 590.8,612.9 589.2,612.9 587.6,612.9 586,613 584.5,613 582.9,613 581.3,613 579.7,613 578.1,613 576.5,613 574.9,613 573.4,613 571.8,613.1 570.2,613.1 568,613.5 566.1,614.8 564.8,616.7 564.4,618.9 564.9,621.1 566.1,623 568,624.2Z"/></clipPath>
<g clip-path="url(#m13)"><circle cx="595.6" cy="618.7" r="6.4" fill="#93cfd3" style="filter:blur(2.7px)"/></g>
<clipPath id="c14"><path d="M657.2,610.9C657.5,609.6 657.4,608.6 657.1,607.5C656.8,606.3 656.2,605.2 655.2,604.1C654.2,603 653.2,602.1 651,601C648.9,600 645.4,598.7 642.2,597.7C639,596.7 635,595.6 631.7,595C628.3,594.4 625,594.2 621.9,594C618.8,593.8 615.7,593.6 613,593.6C610.2,593.7 607.3,594 605.2,594.3C603.2,594.5 601.8,594.9 600.5,595.4C599.1,596 598,596.7 597,597.6C596.1,598.4 595.4,599.5 594.9,600.7C594.5,601.8 594.3,603 594.2,604.3C594.1,605.5 594.2,606.6 594.3,608C594.3,609.4 594.2,609.9 594.5,612.5C594.9,615.2 596.1,621.5 596.5,623.9C596.9,626.4 596.8,625.9 597,627.1C597.3,628.3 597.5,629.9 597.8,631.2C598.2,632.6 598.4,634 599,635.1C599.5,636.3 600,637.4 600.9,638.2C601.7,639 603,639.7 604,640C605.1,640.4 605.8,640.3 607.1,640.3C608.5,640.2 610.1,640.1 612,639.7C613.9,639.4 616.4,638.9 618.6,638.2C620.9,637.4 623,636.3 625.5,635.4C627.9,634.4 630.6,633.8 633.5,632.4C636.4,631 639.2,629.8 642.8,626.9C646.5,624 652.9,617.9 655.3,615.2C657.7,612.6 656.9,612.2 657.2,610.9Z"/></clipPath>
<path class="hd" d="M657.2,610.9C657.5,609.6 657.4,608.6 657.1,607.5C656.8,606.3 656.2,605.2 655.2,604.1C654.2,603 653.2,602.1 651,601C648.9,600 645.4,598.7 642.2,597.7C639,596.7 635,595.6 631.7,595C628.3,594.4 625,594.2 621.9,594C618.8,593.8 615.7,593.6 613,593.6C610.2,593.7 607.3,594 605.2,594.3C603.2,594.5 601.8,594.9 600.5,595.4C599.1,596 598,596.7 597,597.6C596.1,598.4 595.4,599.5 594.9,600.7C594.5,601.8 594.3,603 594.2,604.3C594.1,605.5 594.2,606.6 594.3,608C594.3,609.4 594.2,609.9 594.5,612.5C594.9,615.2 596.1,621.5 596.5,623.9C596.9,626.4 596.8,625.9 597,627.1C597.3,628.3 597.5,629.9 597.8,631.2C598.2,632.6 598.4,634 599,635.1C599.5,636.3 600,637.4 600.9,638.2C601.7,639 603,639.7 604,640C605.1,640.4 605.8,640.3 607.1,640.3C608.5,640.2 610.1,640.1 612,639.7C613.9,639.4 616.4,638.9 618.6,638.2C620.9,637.4 623,636.3 625.5,635.4C627.9,634.4 630.6,633.8 633.5,632.4C636.4,631 639.2,629.8 642.8,626.9C646.5,624 652.9,617.9 655.3,615.2C657.7,612.6 656.9,612.2 657.2,610.9Z"/>
<g clip-path="url(#c14)"><path d="M592.2,592.8 602,594.9 605,604.6 607.2,617.9 612.2,630.2 625.7,635.6 632.9,645 593.6,647.7Z" fill="#93cfd3" style="filter:blur(3.2px)" opacity="0.8"/>
<path d="M657.2,610.9C657.5,609.6 657.4,608.6 657.1,607.5C656.8,606.3 656.2,605.2 655.2,604.1C654.2,603 653.2,602.1 651,601C648.9,600 645.4,598.7 642.2,597.7C639,596.7 635,595.6 631.7,595C628.3,594.4 625,594.2 621.9,594C618.8,593.8 615.7,593.6 613,593.6C610.2,593.7 607.3,594 605.2,594.3C603.2,594.5 601.8,594.9 600.5,595.4C599.1,596 598,596.7 597,597.6C596.1,598.4 595.4,599.5 594.9,600.7C594.5,601.8 594.3,603 594.2,604.3C594.1,605.5 594.2,606.6 594.3,608C594.3,609.4 594.2,609.9 594.5,612.5C594.9,615.2 596.1,621.5 596.5,623.9C596.9,626.4 596.8,625.9 597,627.1C597.3,628.3 597.5,629.9 597.8,631.2C598.2,632.6 598.4,634 599,635.1C599.5,636.3 600,637.4 600.9,638.2C601.7,639 603,639.7 604,640C605.1,640.4 605.8,640.3 607.1,640.3C608.5,640.2 610.1,640.1 612,639.7C613.9,639.4 616.4,638.9 618.6,638.2C620.9,637.4 623,636.3 625.5,635.4C627.9,634.4 630.6,633.8 633.5,632.4C636.4,631 639.2,629.8 642.8,626.9C646.5,624 652.9,617.9 655.3,615.2C657.7,612.6 656.9,612.2 657.2,610.9Z" fill="none" stroke="#8ac8cd" stroke-width="1.8" style="filter:blur(0.7px)" opacity="0.7"/></g>
<path d="M646.6,601.6C647.4,602 650.1,603.4 651.4,604.4C652.6,605.4 653.6,606.5 654.2,607.6C654.8,608.6 655.1,609.6 655,610.7C654.9,611.8 654.7,612.9 653.7,614.4C652.7,615.9 649.7,618.8 649,619.6" fill="none" stroke="#98d2d6" stroke-width="0.6" opacity="0.5"/>
<ellipse class="nu" cx="631.1" cy="613.2" rx="11.4" ry="8.4" transform="rotate(-15.7 631.1 613.2)"/>
<path class="ar2" d="M130.2,409.9 Q143.7,411.2 147.6,400.7"/>
<path class="ar2" d="M132.4,406.8 Q141.8,407.2 143.8,400.7"/>
<path class="ar2" d="M168.7,411.6 Q176.7,402.2 189.3,403.1"/>
<path class="ar2" d="M173,413.1 Q179.1,405.4 188.1,406.6"/>
<path class="ar2" d="M84.4,438.1 Q91.1,426.8 102.9,424.8"/>
<path class="ar2" d="M88.6,439.2 Q93.6,430 103.2,428.6"/>
<path class="tb" d="M233.9,374.5 232.5,374.9 231.1,375.4 229.5,375.9 228,376.5 226.6,377 225.2,377.5 223.7,378.1 222.3,378.6 220.8,379.2 219.4,379.9 218,380.5 216.6,381.1 215.2,381.8 213.9,382.4 212.5,383.1 211.2,383.7 209.9,384.3 208.5,384.9 207.2,385.5 205.9,386 204.6,386.6 203.2,387.1 201.9,387.6 200.6,388 199.3,388.4 197.9,388.8 196.6,389.1 195.3,389.4 194,389.6 192.7,389.8 191.4,389.9 190,390 188.6,390 187.2,390.1 185.7,390.1 184.2,390.1 182.6,390.2 181,390.2 179.4,390.4 177.8,390.6 176.2,390.8 174.5,391.1 172.9,391.5 171.3,392 169.8,392.5 168.2,393.1 166.7,393.7 165.2,394.5 163.7,395.3 162.3,396.1 160.9,397 159.6,398 158.3,399 157.1,400 155.9,401.1 154.7,402.1 153.6,403.2 152.5,404.2 151.4,405.3 150.4,406.3 149.3,407.3 148.3,408.3 147.2,409.3 146.2,410.1 145.1,411 144.1,411.8 143,412.5 142,413.1 140.9,413.6 139.8,414.1 138.7,414.5 137.5,414.8 136.3,415.1 135.1,415.3 133.8,415.5 132.4,415.6 131.1,415.6 129.7,415.6 128.3,415.6 126.8,415.6 125.4,415.6 123.9,415.5 122.5,415.4 121,415.3 119.5,415.2 118,415.1 116.5,415 115,414.9 113.5,414.8 112,414.7 110.4,414.6 108.9,414.6 107.3,414.5 105.8,414.5 104.2,414.5 102.6,414.6 101,414.7 99.4,414.8 97.8,415 96.2,415.2 94.6,415.5 93,415.9 91.4,416.3 89.8,416.8 88.3,417.4 86.7,418.1 85.2,418.8 83.8,419.7 82.3,420.6 81,421.6 79.7,422.7 78.5,423.8 77.3,425.1 76.2,426.4 75.2,427.7 74.6,428.7 73.3,430.1 72.4,432.2 71.8,433.6 71.3,434.9 71,436.4 71.3,437.9 72.1,439.1 73.3,439.9 74.8,440.2 76.3,439.9 77.5,439.1 78.3,437.9 78.9,436.4 79.5,435 79.6,434.3 80.5,433.6 81.5,432.1 82.2,431.1 83,430.2 83.9,429.3 84.8,428.4 85.7,427.6 86.7,426.9 87.8,426.2 88.8,425.6 90,425.1 91.1,424.6 92.3,424.1 93.6,423.7 94.8,423.4 96.1,423.1 97.5,422.9 98.8,422.7 100.2,422.5 101.5,422.4 102.9,422.4 104.3,422.3 105.7,422.3 107.2,422.3 108.6,422.4 110,422.5 111.5,422.5 113,422.6 114.4,422.8 115.9,422.9 117.4,423 118.9,423.1 120.4,423.2 122,423.3 123.5,423.4 125,423.5 126.6,423.5 128.1,423.6 129.7,423.6 131.3,423.6 132.9,423.5 134.5,423.4 136.2,423.2 137.8,422.9 139.5,422.6 141.1,422.1 142.7,421.6 144.3,420.9 145.8,420.1 147.3,419.3 148.7,418.4 150,417.4 151.3,416.4 152.5,415.3 153.7,414.3 154.9,413.2 156,412.2 157.1,411.1 158.1,410.1 159.2,409.1 160.3,408.1 161.3,407.1 162.4,406.2 163.4,405.3 164.5,404.5 165.5,403.8 166.6,403 167.8,402.4 168.9,401.8 170.1,401.2 171.3,400.7 172.5,400.3 173.7,399.8 175,399.5 176.3,399.2 177.6,398.9 178.9,398.8 180.2,398.6 181.5,398.5 182.9,398.4 184.3,398.4 185.8,398.4 187.3,398.4 188.8,398.4 190.4,398.3 192,398.2 193.6,398.1 195.2,397.9 196.9,397.6 198.5,397.3 200,396.9 201.6,396.5 203.1,396 204.7,395.5 206.1,395 207.6,394.4 209.1,393.8 210.5,393.2 211.9,392.6 213.3,392 214.7,391.4 216.1,390.7 217.5,390.1 218.8,389.5 220.2,388.8 221.5,388.2 222.8,387.7 224.2,387.1 225.5,386.5 226.8,386 228.2,385.5 229.5,385 231,384.5 232.3,384 233.6,383.6 235,383.2 236.5,382.7 238,381.9 239,380.6 239.5,379 239.3,377.3 238.5,375.8 237.2,374.8 235.6,374.3Z"/>
<path class="tm" d="M234,374.9 232.6,375.4 231.2,375.8 229.6,376.3 228.2,376.9 226.8,377.4 225.3,377.9 223.9,378.5 222.5,379.1 221,379.7 219.6,380.3 218.2,380.9 216.8,381.6 215.4,382.2 214.1,382.8 212.7,383.5 211.4,384.1 210.1,384.7 208.7,385.3 207.4,385.9 206.1,386.4 204.7,387 203.4,387.5 202,388 200.7,388.4 199.4,388.8 198.1,389.2 196.7,389.5 195.4,389.8 194.1,390 192.8,390.2 191.4,390.3 190,390.4 188.6,390.5 187.2,390.5 185.7,390.5 184.2,390.6 182.6,390.6 181,390.7 179.4,390.8 177.8,391 176.2,391.3 174.6,391.6 173,392 171.5,392.4 169.9,392.9 168.4,393.5 166.9,394.2 165.4,394.9 163.9,395.6 162.5,396.5 161.2,397.4 159.9,398.3 158.6,399.3 157.4,400.3 156.2,401.4 155,402.4 153.9,403.5 152.8,404.6 151.7,405.6 150.7,406.7 149.6,407.7 148.6,408.6 147.5,409.6 146.5,410.5 145.4,411.3 144.3,412.1 143.3,412.8 142.2,413.5 141.1,414 140,414.5 138.8,414.9 137.6,415.3 136.4,415.5 135.1,415.7 133.8,415.9 132.5,416 131.1,416.1 129.7,416.1 128.3,416.1 126.8,416 125.4,416 123.9,415.9 122.4,415.9 121,415.8 119.5,415.7 118,415.6 116.5,415.4 115,415.3 113.5,415.2 111.9,415.1 110.4,415.1 108.9,415 107.3,415 105.8,414.9 104.2,415 102.6,415 101,415.1 99.4,415.2 97.9,415.4 96.3,415.6 94.7,415.9 93.1,416.3 91.5,416.7 90,417.2 88.4,417.8 86.9,418.5 85.4,419.2 84,420 82.6,420.9 81.2,421.9 80,423 78.8,424.1 77.6,425.3 76.5,426.6 75.6,428 74.9,429 73.7,430.3 72.8,432.4 72.2,433.8 71.7,435.1 71.4,436.3 71.7,437.5 72.4,438.6 73.4,439.3 74.6,439.5 75.8,439.3 76.9,438.6 77.6,437.5 78.2,436.1 78.7,434.7 79,433.9 79.9,433.1 80.8,431.6 81.6,430.6 82.4,429.6 83.3,428.7 84.2,427.8 85.2,427 86.3,426.2 87.3,425.6 88.5,424.9 89.6,424.3 90.8,423.8 92.1,423.4 93.3,423 94.6,422.6 96,422.3 97.3,422.1 98.7,421.9 100.1,421.7 101.5,421.6 102.9,421.6 104.3,421.5 105.7,421.5 107.2,421.5 108.6,421.6 110.1,421.6 111.6,421.7 113,421.8 114.5,421.9 116,422 117.5,422.2 119,422.3 120.5,422.4 122,422.5 123.5,422.6 125.1,422.7 126.6,422.7 128.2,422.7 129.7,422.8 131.3,422.7 132.9,422.7 134.5,422.6 136.1,422.4 137.7,422.1 139.3,421.8 140.9,421.3 142.4,420.8 143.9,420.1 145.4,419.4 146.8,418.6 148.2,417.7 149.5,416.7 150.8,415.7 152,414.7 153.1,413.7 154.3,412.6 155.4,411.6 156.5,410.5 157.5,409.5 158.6,408.4 159.7,407.4 160.7,406.5 161.8,405.6 162.9,404.7 164,403.8 165.1,403 166.2,402.3 167.3,401.6 168.5,401 169.7,400.4 170.9,399.9 172.2,399.4 173.5,399 174.8,398.7 176.1,398.3 177.4,398.1 178.8,397.9 180.1,397.7 181.5,397.6 182.9,397.6 184.3,397.5 185.8,397.5 187.3,397.5 188.8,397.5 190.4,397.4 191.9,397.3 193.5,397.2 195.1,397 196.7,396.7 198.3,396.4 199.8,396 201.4,395.6 202.9,395.2 204.4,394.7 205.8,394.1 207.3,393.6 208.7,393 210.2,392.4 211.6,391.8 213,391.2 214.4,390.6 215.7,389.9 217.1,389.3 218.5,388.7 219.8,388 221.1,387.4 222.5,386.8 223.8,386.3 225.2,385.7 226.5,385.2 227.9,384.7 229.2,384.2 230.7,383.6 232,383.1 233.3,382.7 234.8,382.3 236.2,381.8 237.5,381.2 238.3,380.1 238.7,378.7 238.6,377.3 237.9,376.1 236.8,375.2 235.4,374.8Z"/>
<path class="tl" d="M234.4,376.2 233,376.7 231.6,377.1 230.1,377.6 228.6,378.2 227.2,378.6 225.8,379.2 224.4,379.7 223,380.3 221.5,380.9 220.1,381.5 218.8,382.1 217.4,382.8 216,383.4 214.6,384 213.3,384.7 211.9,385.3 210.6,385.9 209.2,386.5 207.9,387.1 206.6,387.7 205.2,388.2 203.8,388.7 202.5,389.2 201.1,389.7 199.7,390.1 198.4,390.5 197,390.8 195.7,391.1 194.3,391.3 192.9,391.5 191.5,391.6 190.1,391.7 188.7,391.8 187.2,391.8 185.7,391.8 184.2,391.9 182.7,391.9 181.1,392 179.6,392.1 178,392.3 176.4,392.5 174.9,392.8 173.4,393.2 171.8,393.6 170.3,394.1 168.8,394.7 167.4,395.3 166,396 164.6,396.8 163.2,397.6 161.9,398.4 160.6,399.4 159.4,400.3 158.2,401.3 157,402.3 155.9,403.4 154.8,404.4 153.7,405.5 152.6,406.5 151.5,407.6 150.5,408.6 149.4,409.6 148.3,410.5 147.2,411.5 146.2,412.3 145.1,413.1 143.9,413.9 142.8,414.6 141.6,415.1 140.4,415.7 139.2,416.1 137.9,416.5 136.6,416.7 135.3,417 133.9,417.1 132.5,417.2 131.1,417.3 129.7,417.3 128.2,417.3 126.8,417.3 125.3,417.2 123.8,417.2 122.3,417.1 120.9,417 119.4,416.9 117.9,416.8 116.4,416.7 114.9,416.6 113.4,416.4 111.9,416.4 110.4,416.3 108.8,416.2 107.3,416.2 105.8,416.2 104.2,416.2 102.7,416.2 101.1,416.3 99.6,416.4 98,416.6 96.5,416.8 94.9,417.1 93.4,417.5 91.9,417.9 90.3,418.4 88.9,418.9 87.4,419.5 86,420.3 84.6,421 83.3,421.9 82,422.9 80.7,423.9 79.6,425 78.5,426.1 77.5,427.4 76.5,428.7 75.8,429.8 74.6,431 73.9,432.8 73.3,434.2 72.8,435.6 72.6,436.3 72.8,437 73.2,437.6 73.8,438 74.5,438.2 75.2,438 75.9,437.6 76.3,437 76.9,435.6 77.4,434.2 77.8,433.1 78.8,432.2 79.7,430.8 80.5,429.7 81.4,428.7 82.3,427.7 83.3,426.8 84.3,425.9 85.4,425.1 86.6,424.3 87.8,423.7 89,423 90.3,422.5 91.6,422 92.9,421.6 94.3,421.2 95.7,420.9 97.1,420.7 98.5,420.5 99.9,420.3 101.4,420.2 102.8,420.1 104.3,420.1 105.7,420.1 107.2,420.1 108.7,420.1 110.2,420.2 111.6,420.3 113.1,420.4 114.6,420.5 116.1,420.6 117.6,420.7 119.1,420.8 120.6,420.9 122.1,421 123.6,421.1 125.1,421.2 126.7,421.2 128.2,421.3 129.7,421.3 131.2,421.3 132.8,421.2 134.3,421.1 135.9,420.9 137.4,420.7 138.9,420.3 140.4,419.9 141.9,419.4 143.3,418.8 144.7,418.1 146.1,417.3 147.4,416.4 148.6,415.5 149.8,414.6 151,413.6 152.1,412.6 153.2,411.5 154.3,410.5 155.4,409.4 156.5,408.4 157.6,407.4 158.6,406.3 159.7,405.4 160.8,404.4 161.9,403.5 163,402.6 164.2,401.8 165.4,401 166.6,400.3 167.8,399.7 169.1,399 170.4,398.5 171.7,398 173,397.6 174.4,397.2 175.8,396.9 177.2,396.6 178.6,396.4 180,396.2 181.4,396.1 182.8,396 184.3,396 185.8,396 187.3,396 188.8,395.9 190.3,395.9 191.8,395.8 193.4,395.7 194.9,395.5 196.4,395.2 197.9,394.9 199.4,394.5 200.9,394.1 202.4,393.7 203.9,393.2 205.3,392.7 206.7,392.1 208.1,391.6 209.5,391 210.9,390.4 212.3,389.8 213.7,389.1 215.1,388.5 216.4,387.9 217.8,387.2 219.2,386.6 220.5,386 221.9,385.4 223.2,384.8 224.6,384.2 225.9,383.7 227.3,383.2 228.7,382.7 230.1,382.2 231.5,381.6 232.9,381.2 234.3,380.8 235.7,380.3 236.5,379.9 237,379.3 237.2,378.5 237.1,377.6 236.7,376.9 236.1,376.4 235.3,376.1Z" style="filter:blur(1px)"/>
<path class="mb" d="M241.5,383.2 243,382.8 244.5,382.5 246,382.2 247.5,381.9 249,381.5 250.5,381.2 252,380.9 253.5,380.6 255,380.2 256.5,379.9 257.9,379.6 259.4,379.3 260.9,378.9 262.4,378.6 263.9,378.3 265.4,378 266.9,377.6 269,376.7 270.5,375.1 271.4,373 271.3,370.7 270.4,368.7 268.8,367.1 266.7,366.3 264.4,366.3 262.9,366.6 261.4,366.9 260,367.3 258.5,367.6 257,367.9 255.5,368.2 254,368.6 252.5,368.9 251,369.2 249.5,369.5 248,369.9 246.5,370.2 245,370.5 243.5,370.8 242.1,371.2 240.6,371.5 239.1,371.8 237,372.7 235.4,374.4 234.6,376.5 234.6,378.7 235.5,380.8 237.2,382.4 239.3,383.2Z"/>
<path class="ml" d="M241,380.9 242.5,380.6 244,380.3 245.5,379.9 247,379.6 248.5,379.3 250,379 251.5,378.6 253,378.3 254.5,378 256,377.7 257.5,377.3 259,377 260.4,376.7 261.9,376.4 263.4,376 264.9,375.7 266.4,375.4 267.6,374.9 268.4,374 268.9,372.8 268.8,371.6 268.4,370.5 267.5,369.6 266.3,369.1 265.1,369.2 263.6,369.5 262.1,369.8 260.6,370.1 259.1,370.5 257.6,370.8 256.1,371.1 254.6,371.4 253.1,371.8 251.6,372.1 250.1,372.4 248.6,372.7 247.1,373.1 245.7,373.4 244.2,373.7 242.7,374 241.2,374.4 239.7,374.7 238.5,375.2 237.7,376.1 237.2,377.2 237.3,378.5 237.7,379.6 238.6,380.5 239.8,380.9Z" style="filter:blur(1px)"/>
<clipPath id="m15"><path d="M241.5,383.2 243,382.8 244.5,382.5 246,382.2 247.5,381.9 249,381.5 250.5,381.2 252,380.9 253.5,380.6 255,380.2 256.5,379.9 257.9,379.6 259.4,379.3 260.9,378.9 262.4,378.6 263.9,378.3 265.4,378 266.9,377.6 269,376.7 270.5,375.1 271.4,373 271.3,370.7 270.4,368.7 268.8,367.1 266.7,366.3 264.4,366.3 262.9,366.6 261.4,366.9 260,367.3 258.5,367.6 257,367.9 255.5,368.2 254,368.6 252.5,368.9 251,369.2 249.5,369.5 248,369.9 246.5,370.2 245,370.5 243.5,370.8 242.1,371.2 240.6,371.5 239.1,371.8 237,372.7 235.4,374.4 234.6,376.5 234.6,378.7 235.5,380.8 237.2,382.4 239.3,383.2Z"/></clipPath>
<g clip-path="url(#m15)"><circle cx="265.7" cy="372" r="6.4" fill="#93cfd3" style="filter:blur(2.7px)"/></g>
<clipPath id="c16"><path d="M326.8,360.5C327,359.2 326.7,358.2 326.3,357.1C325.8,356 325.2,354.9 324.1,353.9C322.9,352.9 321.8,352.1 319.5,351.2C317.2,350.3 313.6,349.2 310.3,348.5C306.9,347.7 302.8,346.9 299.4,346.5C295.9,346.1 292.6,346.2 289.5,346.1C286.3,346.1 283.2,346.2 280.4,346.4C277.6,346.6 274.8,347 272.7,347.5C270.7,347.9 269.3,348.3 268,348.9C266.7,349.5 265.7,350.3 264.8,351.2C264,352.1 263.4,353.3 263,354.4C262.7,355.5 262.7,356.7 262.7,357.9C262.8,359.2 263,360.3 263.2,361.6C263.4,362.9 263.3,363.4 263.9,366C264.6,368.6 266.5,374.7 267.1,377C267.8,379.4 267.7,378.9 268,380.1C268.4,381.3 268.8,382.8 269.3,384.1C269.7,385.4 270.2,386.7 270.8,387.8C271.5,388.9 272.1,390 273.1,390.7C274,391.4 275.4,392 276.5,392.3C277.5,392.6 278.3,392.5 279.6,392.4C280.9,392.2 282.5,392 284.4,391.5C286.3,391 288.8,390.4 290.9,389.6C293.1,388.7 295.1,387.5 297.5,386.4C299.9,385.3 302.5,384.5 305.3,383C308,381.4 310.7,380 314.1,377C317.4,374 323.2,367.5 325.3,364.8C327.4,362 326.6,361.8 326.8,360.5Z"/></clipPath>
<path class="hd" d="M326.8,360.5C327,359.2 326.7,358.2 326.3,357.1C325.8,356 325.2,354.9 324.1,353.9C322.9,352.9 321.8,352.1 319.5,351.2C317.2,350.3 313.6,349.2 310.3,348.5C306.9,347.7 302.8,346.9 299.4,346.5C295.9,346.1 292.6,346.2 289.5,346.1C286.3,346.1 283.2,346.2 280.4,346.4C277.6,346.6 274.8,347 272.7,347.5C270.7,347.9 269.3,348.3 268,348.9C266.7,349.5 265.7,350.3 264.8,351.2C264,352.1 263.4,353.3 263,354.4C262.7,355.5 262.7,356.7 262.7,357.9C262.8,359.2 263,360.3 263.2,361.6C263.4,362.9 263.3,363.4 263.9,366C264.6,368.6 266.5,374.7 267.1,377C267.8,379.4 267.7,378.9 268,380.1C268.4,381.3 268.8,382.8 269.3,384.1C269.7,385.4 270.2,386.7 270.8,387.8C271.5,388.9 272.1,390 273.1,390.7C274,391.4 275.4,392 276.5,392.3C277.5,392.6 278.3,392.5 279.6,392.4C280.9,392.2 282.5,392 284.4,391.5C286.3,391 288.8,390.4 290.9,389.6C293.1,388.7 295.1,387.5 297.5,386.4C299.9,385.3 302.5,384.5 305.3,383C308,381.4 310.7,380 314.1,377C317.4,374 323.2,367.5 325.3,364.8C327.4,362 326.6,361.8 326.8,360.5Z"/>
<g clip-path="url(#c16)"><path d="M259.5,346.9 269.5,348.3 273.6,357.6 277.3,370.5 283.6,382.2 297.8,386.6 306.1,395.4 266.8,400.4Z" fill="#93cfd3" style="filter:blur(3.2px)" opacity="0.8"/>
<path d="M326.8,360.5C327,359.2 326.7,358.2 326.3,357.1C325.8,356 325.2,354.9 324.1,353.9C322.9,352.9 321.8,352.1 319.5,351.2C317.2,350.3 313.6,349.2 310.3,348.5C306.9,347.7 302.8,346.9 299.4,346.5C295.9,346.1 292.6,346.2 289.5,346.1C286.3,346.1 283.2,346.2 280.4,346.4C277.6,346.6 274.8,347 272.7,347.5C270.7,347.9 269.3,348.3 268,348.9C266.7,349.5 265.7,350.3 264.8,351.2C264,352.1 263.4,353.3 263,354.4C262.7,355.5 262.7,356.7 262.7,357.9C262.8,359.2 263,360.3 263.2,361.6C263.4,362.9 263.3,363.4 263.9,366C264.6,368.6 266.5,374.7 267.1,377C267.8,379.4 267.7,378.9 268,380.1C268.4,381.3 268.8,382.8 269.3,384.1C269.7,385.4 270.2,386.7 270.8,387.8C271.5,388.9 272.1,390 273.1,390.7C274,391.4 275.4,392 276.5,392.3C277.5,392.6 278.3,392.5 279.6,392.4C280.9,392.2 282.5,392 284.4,391.5C286.3,391 288.8,390.4 290.9,389.6C293.1,388.7 295.1,387.5 297.5,386.4C299.9,385.3 302.5,384.5 305.3,383C308,381.4 310.7,380 314.1,377C317.4,374 323.2,367.5 325.3,364.8C327.4,362 326.6,361.8 326.8,360.5Z" fill="none" stroke="#8ac8cd" stroke-width="1.8" style="filter:blur(0.7px)" opacity="0.7"/></g>
<path d="M315.2,352C316,352.4 318.8,353.6 320.2,354.5C321.6,355.4 322.7,356.4 323.4,357.4C324.1,358.4 324.5,359.3 324.5,360.4C324.6,361.5 324.5,362.5 323.6,364.1C322.8,365.6 320.1,368.6 319.4,369.5" fill="none" stroke="#98d2d6" stroke-width="0.6" opacity="0.5"/>
<ellipse class="nu" cx="300.8" cy="364.3" rx="11.4" ry="8.4" transform="rotate(-20.6 300.8 364.3)"/>
<path class="tb" d="M270.1,424.7 269.1,424.8 268.1,424.8 267,424.9 266,424.9 265,425 263.9,425.1 262.9,425.2 261.9,425.3 260.8,425.5 259.8,425.6 258.9,425.7 258,425.8 257.1,425.9 256.2,425.9 255.4,425.8 254.6,425.6 253.7,425.4 252.8,425.1 251.8,424.8 250.8,424.5 249.9,424.2 248.9,423.9 248,423.6 246.9,423.3 245.8,423 244.6,422.8 243.3,422.8 242,422.9 240.8,423.2 239.7,423.6 238.7,424.1 237.7,424.6 236.8,425 236,425.5 235.1,425.9 234.2,426.3 233.3,426.8 232.4,427.2 231.5,427.6 230.7,428 229.9,428.2 229.2,428.3 228.4,428.4 227.7,428.4 226.8,428.2 226,428 225.1,427.8 224.2,427.5 223.3,427.2 222.4,426.8 221.5,426.4 220.6,426 219.7,425.6 218.7,425.2 217.7,424.8 216.7,424.4 215.7,424.1 214.7,423.7 213.7,423.5 212.7,423.2 211.7,422.9 210.7,422.6 209.6,422.4 208.6,422.2 207.5,422 206.3,422 205.1,422 203.9,422.1 202.7,422.4 201.6,422.8 200.5,423.3 199.5,423.9 198.5,424.5 197.6,425.3 196.8,426 196,426.8 195.3,427.5 194.9,428.2 194.8,428.9 194.9,429.7 195.4,430.3 196,430.8 196.8,430.9 197.6,430.7 198.2,430.3 198.9,429.6 199.6,428.9 200.2,428.3 200.9,427.7 201.6,427.3 202.3,426.9 203.1,426.5 203.8,426.3 204.6,426.1 205.4,426 206.2,426 207,426.1 207.9,426.2 208.8,426.4 209.8,426.6 210.7,426.8 211.6,427.1 212.6,427.3 213.5,427.6 214.5,427.9 215.4,428.2 216.3,428.6 217.1,428.9 218,429.3 218.9,429.7 219.9,430.2 220.9,430.6 221.9,431 222.9,431.3 223.9,431.7 224.9,432 226,432.2 227.2,432.4 228.4,432.5 229.7,432.4 230.9,432.2 232.1,431.8 233.1,431.4 234.1,430.9 235,430.5 235.9,430.1 236.9,429.6 237.8,429.2 238.7,428.7 239.6,428.2 240.5,427.8 241.3,427.5 242.1,427.2 242.8,427 243.5,426.9 244.2,426.9 245,427 245.8,427.3 246.7,427.5 247.7,427.9 248.6,428.2 249.6,428.5 250.6,428.8 251.6,429.1 252.6,429.4 253.6,429.7 254.8,429.9 256,430 257.1,430 258.3,430 259.3,429.9 260.4,429.8 261.4,429.6 262.4,429.5 263.4,429.4 264.3,429.3 265.3,429.2 266.3,429.1 267.3,429.1 268.3,429 269.3,429 270.3,428.9 271.1,428.7 271.8,428.2 272.2,427.5 272.3,426.7 272.1,425.9 271.6,425.2 270.9,424.8Z"/>
<path class="tm" d="M270.1,424.9 269.1,425 268.1,425 267.1,425.1 266,425.2 265,425.2 264,425.3 262.9,425.4 261.9,425.6 260.9,425.7 259.9,425.8 258.9,426 258,426.1 257.1,426.1 256.2,426.1 255.4,426 254.5,425.8 253.6,425.6 252.7,425.3 251.7,425 250.8,424.7 249.8,424.4 248.9,424.1 247.9,423.8 246.9,423.5 245.8,423.2 244.6,423 243.3,423 242.1,423.1 240.9,423.4 239.8,423.8 238.8,424.3 237.9,424.8 236.9,425.2 236.1,425.7 235.2,426.1 234.3,426.6 233.4,427 232.4,427.4 231.6,427.8 230.7,428.2 230,428.4 229.2,428.6 228.4,428.6 227.6,428.6 226.8,428.4 225.9,428.2 225,428 224.1,427.7 223.2,427.4 222.3,427 221.4,426.6 220.5,426.2 219.6,425.8 218.6,425.4 217.7,425 216.7,424.6 215.7,424.3 214.7,424 213.7,423.7 212.7,423.4 211.7,423.1 210.6,422.9 209.6,422.6 208.5,422.4 207.4,422.3 206.3,422.2 205.1,422.2 203.9,422.3 202.8,422.6 201.7,423 200.6,423.5 199.6,424 198.6,424.7 197.7,425.4 196.9,426.2 196.2,426.9 195.5,427.7 195.1,428.2 195,428.9 195.1,429.5 195.5,430 196.1,430.4 196.7,430.5 197.4,430.4 197.9,430 198.6,429.3 199.3,428.6 199.9,428 200.6,427.4 201.3,426.9 202.1,426.5 202.9,426.1 203.7,425.9 204.5,425.7 205.3,425.6 206.2,425.6 207.1,425.6 208,425.8 208.9,425.9 209.9,426.2 210.8,426.4 211.8,426.7 212.7,426.9 213.7,427.2 214.6,427.5 215.5,427.8 216.4,428.2 217.3,428.5 218.2,428.9 219.1,429.3 220.1,429.8 221,430.2 222,430.6 223,430.9 224,431.3 225,431.6 226.1,431.8 227.3,432 228.4,432.1 229.6,432 230.8,431.7 231.9,431.4 232.9,431 233.9,430.5 234.8,430.1 235.7,429.7 236.7,429.2 237.6,428.8 238.5,428.3 239.4,427.9 240.3,427.4 241.1,427.1 241.9,426.8 242.7,426.6 243.5,426.5 244.3,426.5 245.1,426.6 245.9,426.8 246.8,427.1 247.8,427.4 248.8,427.8 249.7,428.1 250.7,428.4 251.7,428.7 252.7,429 253.7,429.2 254.9,429.4 256,429.6 257.1,429.6 258.2,429.6 259.3,429.5 260.3,429.3 261.4,429.2 262.3,429 263.3,428.9 264.3,428.8 265.3,428.8 266.3,428.7 267.3,428.6 268.3,428.6 269.3,428.5 270.3,428.5 271,428.3 271.5,427.9 271.9,427.3 272,426.6 271.8,425.9 271.4,425.4 270.8,425Z"/>
<path class="tl" d="M270.1,425.6 269.1,425.6 268.1,425.7 267.1,425.8 266.1,425.8 265.1,425.9 264,426 263,426.1 262,426.2 261,426.3 260,426.5 259,426.6 258,426.7 257.1,426.7 256.2,426.7 255.3,426.6 254.4,426.5 253.5,426.2 252.5,425.9 251.5,425.6 250.6,425.3 249.6,425 248.7,424.7 247.7,424.4 246.7,424.1 245.6,423.8 244.5,423.7 243.4,423.6 242.2,423.8 241.1,424.1 240.1,424.4 239.1,424.9 238.1,425.3 237.2,425.8 236.3,426.3 235.4,426.7 234.5,427.1 233.6,427.6 232.7,428 231.8,428.4 231,428.8 230.1,429 229.3,429.2 228.4,429.3 227.6,429.2 226.7,429.1 225.8,428.9 224.8,428.6 223.9,428.3 223,428 222.1,427.6 221.2,427.2 220.3,426.8 219.3,426.4 218.4,426 217.4,425.6 216.4,425.2 215.5,424.9 214.5,424.6 213.5,424.3 212.5,424 211.5,423.7 210.5,423.5 209.5,423.2 208.4,423 207.4,422.9 206.3,422.8 205.2,422.8 204,423 202.9,423.2 201.9,423.6 200.9,424 199.9,424.6 199,425.2 198.1,425.9 197.4,426.6 196.6,427.4 195.9,428.1 195.7,428.4 195.6,428.8 195.7,429.2 195.9,429.5 196.3,429.7 196.7,429.8 197,429.7 197.4,429.5 198.1,428.8 198.7,428.1 199.5,427.4 200.2,426.8 201,426.3 201.8,425.8 202.6,425.4 203.5,425.1 204.4,424.9 205.3,424.8 206.2,424.8 207.2,424.9 208.1,425 209.1,425.2 210,425.4 211,425.7 212,425.9 212.9,426.2 213.9,426.5 214.8,426.8 215.8,427.1 216.7,427.5 217.6,427.8 218.5,428.2 219.4,428.7 220.4,429.1 221.3,429.5 222.3,429.9 223.2,430.2 224.2,430.5 225.2,430.8 226.3,431.1 227.3,431.2 228.4,431.3 229.5,431.2 230.6,431 231.7,430.7 232.6,430.3 233.6,429.9 234.5,429.4 235.4,429 236.3,428.5 237.3,428.1 238.2,427.6 239.1,427.2 240,426.7 240.8,426.3 241.7,426 242.6,425.8 243.4,425.7 244.3,425.7 245.2,425.9 246.1,426.1 247.1,426.4 248,426.7 249,427 250,427.3 250.9,427.6 251.9,427.9 252.9,428.2 253.9,428.5 255,428.7 256,428.8 257.1,428.8 258.2,428.8 259.2,428.7 260.2,428.6 261.2,428.4 262.2,428.3 263.2,428.2 264.2,428.1 265.2,428 266.2,427.9 267.2,427.8 268.2,427.8 269.2,427.7 270.2,427.7 270.6,427.6 271,427.3 271.2,427 271.2,426.6 271.1,426.2 270.9,425.8 270.5,425.6Z" style="filter:blur(0.4px)"/>
<path class="mb" d="M272.3,430.1 273.4,430.2 274.5,430.4 275.5,430.6 276.6,430.8 277.7,430.9 278.8,431.1 279.8,431.3 280.9,431.4 282,431.6 283.1,431.8 284.2,431.7 285.2,431.2 286,430.4 286.4,429.4 286.3,428.2 285.9,427.2 285,426.4 284,426 282.9,425.9 281.8,425.7 280.8,425.5 279.7,425.4 278.6,425.2 277.5,425 276.5,424.9 275.4,424.7 274.3,424.5 273.2,424.3 272.1,424.4 271.1,424.9 270.3,425.7 269.9,426.8 270,427.9 270.4,428.9 271.3,429.7Z"/>
<path class="ml" d="M272.5,428.9 273.6,429.1 274.7,429.3 275.7,429.4 276.8,429.6 277.9,429.8 279,430 280,430.1 281.1,430.3 282.2,430.5 283.3,430.6 283.9,430.6 284.4,430.4 284.9,429.9 285.1,429.3 285,428.7 284.8,428.1 284.3,427.7 283.7,427.5 282.7,427.3 281.6,427.1 280.5,427 279.4,426.8 278.4,426.6 277.3,426.5 276.2,426.3 275.2,426.1 274.1,426 273,425.8 272.4,425.8 271.8,426.1 271.4,426.5 271.2,427.1 271.2,427.7 271.5,428.3 271.9,428.7Z" style="filter:blur(0.4px)"/>
<clipPath id="m17"><path d="M272.3,430.1 273.4,430.2 274.5,430.4 275.5,430.6 276.6,430.8 277.7,430.9 278.8,431.1 279.8,431.3 280.9,431.4 282,431.6 283.1,431.8 284.2,431.7 285.2,431.2 286,430.4 286.4,429.4 286.3,428.2 285.9,427.2 285,426.4 284,426 282.9,425.9 281.8,425.7 280.8,425.5 279.7,425.4 278.6,425.2 277.5,425 276.5,424.9 275.4,424.7 274.3,424.5 273.2,424.3 272.1,424.4 271.1,424.9 270.3,425.7 269.9,426.8 270,427.9 270.4,428.9 271.3,429.7Z"/></clipPath>
<g clip-path="url(#m17)"><circle cx="283.5" cy="428.9" r="2.7" fill="#93cfd3" style="filter:blur(1.2px)"/></g>
<clipPath id="c18"><path d="M309.8,429.7C310,429.2 310,428.7 309.9,428.2C309.8,427.7 309.6,427.2 309.3,426.7C308.9,426.2 308.5,425.8 307.6,425.2C306.8,424.6 305.4,423.8 304.1,423.2C302.7,422.6 301.1,421.9 299.7,421.4C298.3,421 297,420.7 295.7,420.4C294.4,420.1 293.1,419.8 291.9,419.7C290.8,419.5 289.5,419.4 288.7,419.4C287.8,419.4 287.2,419.5 286.6,419.6C286,419.7 285.5,420 285.1,420.3C284.6,420.6 284.3,421 284,421.4C283.8,421.8 283.7,422.4 283.6,422.9C283.5,423.4 283.5,423.8 283.4,424.4C283.4,425 283.3,425.2 283.3,426.3C283.4,427.4 283.6,430.1 283.7,431.1C283.7,432.2 283.7,432 283.8,432.5C283.8,433 283.8,433.7 283.9,434.2C284,434.8 284,435.4 284.2,435.9C284.4,436.4 284.6,436.9 284.9,437.3C285.2,437.7 285.7,438 286.1,438.2C286.6,438.5 286.9,438.5 287.4,438.6C288,438.6 288.7,438.7 289.5,438.7C290.3,438.6 291.4,438.6 292.4,438.4C293.3,438.3 294.3,438 295.3,437.7C296.4,437.5 297.6,437.4 298.9,437C300.1,436.6 301.4,436.3 303,435.3C304.7,434.4 307.7,432.3 308.8,431.3C309.9,430.4 309.6,430.2 309.8,429.7Z"/></clipPath>
<path class="hd" d="M309.8,429.7C310,429.2 310,428.7 309.9,428.2C309.8,427.7 309.6,427.2 309.3,426.7C308.9,426.2 308.5,425.8 307.6,425.2C306.8,424.6 305.4,423.8 304.1,423.2C302.7,422.6 301.1,421.9 299.7,421.4C298.3,421 297,420.7 295.7,420.4C294.4,420.1 293.1,419.8 291.9,419.7C290.8,419.5 289.5,419.4 288.7,419.4C287.8,419.4 287.2,419.5 286.6,419.6C286,419.7 285.5,420 285.1,420.3C284.6,420.6 284.3,421 284,421.4C283.8,421.8 283.7,422.4 283.6,422.9C283.5,423.4 283.5,423.8 283.4,424.4C283.4,425 283.3,425.2 283.3,426.3C283.4,427.4 283.6,430.1 283.7,431.1C283.7,432.2 283.7,432 283.8,432.5C283.8,433 283.8,433.7 283.9,434.2C284,434.8 284,435.4 284.2,435.9C284.4,436.4 284.6,436.9 284.9,437.3C285.2,437.7 285.7,438 286.1,438.2C286.6,438.5 286.9,438.5 287.4,438.6C288,438.6 288.7,438.7 289.5,438.7C290.3,438.6 291.4,438.6 292.4,438.4C293.3,438.3 294.3,438 295.3,437.7C296.4,437.5 297.6,437.4 298.9,437C300.1,436.6 301.4,436.3 303,435.3C304.7,434.4 307.7,432.3 308.8,431.3C309.9,430.4 309.6,430.2 309.8,429.7Z"/>
<g clip-path="url(#c18)"><path d="M283.3,418 287.3,419.5 288.1,423.7 288.4,429.3 290,434.7 295.5,437.8 298.1,442.2 281.4,440.7Z" fill="#93cfd3" style="filter:blur(1.3px)" opacity="0.8"/>
<path d="M309.8,429.7C310,429.2 310,428.7 309.9,428.2C309.8,427.7 309.6,427.2 309.3,426.7C308.9,426.2 308.5,425.8 307.6,425.2C306.8,424.6 305.4,423.8 304.1,423.2C302.7,422.6 301.1,421.9 299.7,421.4C298.3,421 297,420.7 295.7,420.4C294.4,420.1 293.1,419.8 291.9,419.7C290.8,419.5 289.5,419.4 288.7,419.4C287.8,419.4 287.2,419.5 286.6,419.6C286,419.7 285.5,420 285.1,420.3C284.6,420.6 284.3,421 284,421.4C283.8,421.8 283.7,422.4 283.6,422.9C283.5,423.4 283.5,423.8 283.4,424.4C283.4,425 283.3,425.2 283.3,426.3C283.4,427.4 283.6,430.1 283.7,431.1C283.7,432.2 283.7,432 283.8,432.5C283.8,433 283.8,433.7 283.9,434.2C284,434.8 284,435.4 284.2,435.9C284.4,436.4 284.6,436.9 284.9,437.3C285.2,437.7 285.7,438 286.1,438.2C286.6,438.5 286.9,438.5 287.4,438.6C288,438.6 288.7,438.7 289.5,438.7C290.3,438.6 291.4,438.6 292.4,438.4C293.3,438.3 294.3,438 295.3,437.7C296.4,437.5 297.6,437.4 298.9,437C300.1,436.6 301.4,436.3 303,435.3C304.7,434.4 307.7,432.3 308.8,431.3C309.9,430.4 309.6,430.2 309.8,429.7Z" fill="none" stroke="#8ac8cd" stroke-width="1" style="filter:blur(0.5px)" opacity="0.7"/></g>
<ellipse class="nu" cx="298.7" cy="428.9" rx="4.8" ry="3.6" transform="rotate(-3.2 298.7 428.9)"/>
<path class="tb" d="M109.6,507.1 108.6,507.2 107.6,507.2 106.5,507.3 105.5,507.3 104.5,507.4 103.4,507.5 102.4,507.6 101.4,507.7 100.3,507.9 99.3,508 98.4,508.1 97.5,508.2 96.6,508.3 95.7,508.3 94.9,508.2 94.1,508 93.2,507.8 92.3,507.5 91.3,507.2 90.3,506.9 89.4,506.6 88.4,506.3 87.5,506 86.4,505.7 85.3,505.4 84.1,505.2 82.8,505.2 81.5,505.3 80.3,505.6 79.2,506 78.2,506.5 77.2,507 76.3,507.4 75.5,507.9 74.6,508.3 73.7,508.7 72.8,509.2 71.9,509.6 71,510 70.2,510.4 69.4,510.6 68.7,510.7 67.9,510.8 67.2,510.8 66.3,510.6 65.5,510.4 64.6,510.2 63.7,509.9 62.8,509.6 61.9,509.2 61,508.8 60.1,508.4 59.2,508 58.2,507.6 57.2,507.2 56.2,506.8 55.2,506.5 54.2,506.1 53.2,505.9 52.2,505.6 51.2,505.3 50.2,505 49.1,504.8 48.1,504.6 47,504.4 45.8,504.4 44.6,504.4 43.4,504.5 42.2,504.8 41.1,505.2 40,505.7 39,506.3 38,506.9 37.1,507.7 36.3,508.4 35.5,509.2 34.8,509.9 34.4,510.6 34.3,511.3 34.4,512.1 34.9,512.7 35.5,513.2 36.3,513.3 37.1,513.1 37.7,512.7 38.4,512 39.1,511.3 39.7,510.7 40.4,510.1 41.1,509.7 41.8,509.3 42.6,508.9 43.3,508.7 44.1,508.5 44.9,508.4 45.7,508.4 46.5,508.5 47.4,508.6 48.3,508.8 49.3,509 50.2,509.2 51.1,509.5 52.1,509.7 53,510 54,510.3 54.9,510.6 55.8,511 56.6,511.3 57.5,511.7 58.4,512.1 59.4,512.6 60.4,513 61.4,513.4 62.4,513.7 63.4,514.1 64.4,514.4 65.5,514.6 66.7,514.8 67.9,514.9 69.2,514.8 70.4,514.6 71.6,514.2 72.6,513.8 73.6,513.3 74.5,512.9 75.4,512.5 76.4,512 77.3,511.6 78.2,511.1 79.1,510.6 80,510.2 80.8,509.9 81.6,509.6 82.3,509.4 83,509.3 83.7,509.3 84.5,509.4 85.3,509.7 86.2,509.9 87.2,510.3 88.1,510.6 89.1,510.9 90.1,511.2 91.1,511.5 92.1,511.8 93.1,512.1 94.3,512.3 95.5,512.4 96.6,512.4 97.8,512.4 98.8,512.3 99.9,512.2 100.9,512 101.9,511.9 102.9,511.8 103.8,511.7 104.8,511.6 105.8,511.5 106.8,511.5 107.8,511.4 108.8,511.4 109.8,511.3 110.6,511.1 111.3,510.6 111.7,509.9 111.8,509.1 111.6,508.3 111.1,507.6 110.4,507.2Z"/>
<path class="tm" d="M109.6,507.3 108.6,507.4 107.6,507.4 106.6,507.5 105.5,507.6 104.5,507.6 103.5,507.7 102.4,507.8 101.4,508 100.4,508.1 99.4,508.2 98.4,508.4 97.5,508.5 96.6,508.5 95.7,508.5 94.9,508.4 94,508.2 93.1,508 92.2,507.7 91.2,507.4 90.3,507.1 89.3,506.8 88.4,506.5 87.4,506.2 86.4,505.9 85.3,505.6 84.1,505.4 82.8,505.4 81.6,505.5 80.4,505.8 79.3,506.2 78.3,506.7 77.4,507.2 76.4,507.6 75.6,508.1 74.7,508.5 73.8,509 72.9,509.4 71.9,509.8 71.1,510.2 70.2,510.6 69.5,510.8 68.7,511 67.9,511 67.1,511 66.3,510.8 65.4,510.6 64.5,510.4 63.6,510.1 62.7,509.8 61.8,509.4 60.9,509 60,508.6 59.1,508.2 58.1,507.8 57.2,507.4 56.2,507 55.2,506.7 54.2,506.4 53.2,506.1 52.2,505.8 51.2,505.5 50.1,505.3 49.1,505 48,504.8 46.9,504.7 45.8,504.6 44.6,504.6 43.4,504.7 42.3,505 41.2,505.4 40.1,505.9 39.1,506.4 38.1,507.1 37.2,507.8 36.4,508.6 35.7,509.3 35,510.1 34.6,510.6 34.5,511.3 34.6,511.9 35,512.4 35.6,512.8 36.2,512.9 36.9,512.8 37.4,512.4 38.1,511.7 38.8,511 39.4,510.4 40.1,509.8 40.8,509.3 41.6,508.9 42.4,508.5 43.2,508.3 44,508.1 44.8,508 45.7,508 46.6,508 47.5,508.2 48.4,508.3 49.4,508.6 50.3,508.8 51.3,509.1 52.2,509.3 53.2,509.6 54.1,509.9 55,510.2 55.9,510.6 56.8,510.9 57.7,511.3 58.6,511.7 59.6,512.2 60.5,512.6 61.5,513 62.5,513.3 63.5,513.7 64.5,514 65.6,514.2 66.8,514.4 67.9,514.5 69.1,514.4 70.3,514.1 71.4,513.8 72.4,513.4 73.4,512.9 74.3,512.5 75.2,512.1 76.2,511.6 77.1,511.2 78,510.7 78.9,510.3 79.8,509.8 80.6,509.5 81.4,509.2 82.2,509 83,508.9 83.8,508.9 84.6,509 85.4,509.2 86.3,509.5 87.3,509.8 88.3,510.2 89.2,510.5 90.2,510.8 91.2,511.1 92.2,511.4 93.2,511.6 94.4,511.8 95.5,512 96.6,512 97.7,512 98.8,511.9 99.8,511.7 100.9,511.6 101.8,511.4 102.8,511.3 103.8,511.2 104.8,511.2 105.8,511.1 106.8,511 107.8,511 108.8,510.9 109.8,510.9 110.5,510.7 111,510.3 111.4,509.7 111.5,509 111.3,508.3 110.9,507.8 110.3,507.4Z"/>
<path class="tl" d="M109.6,508 108.6,508 107.6,508.1 106.6,508.2 105.6,508.2 104.6,508.3 103.5,508.4 102.5,508.5 101.5,508.6 100.5,508.7 99.5,508.9 98.5,509 97.5,509.1 96.6,509.1 95.7,509.1 94.8,509 93.9,508.9 93,508.6 92,508.3 91,508 90.1,507.7 89.1,507.4 88.2,507.1 87.2,506.8 86.2,506.5 85.1,506.2 84,506.1 82.9,506 81.7,506.2 80.6,506.5 79.6,506.8 78.6,507.3 77.6,507.7 76.7,508.2 75.8,508.7 74.9,509.1 74,509.5 73.1,510 72.2,510.4 71.3,510.8 70.5,511.2 69.6,511.4 68.8,511.6 67.9,511.7 67.1,511.6 66.2,511.5 65.3,511.3 64.3,511 63.4,510.7 62.5,510.4 61.6,510 60.7,509.6 59.8,509.2 58.8,508.8 57.9,508.4 56.9,508 55.9,507.6 55,507.3 54,507 53,506.7 52,506.4 51,506.1 50,505.9 49,505.6 47.9,505.4 46.9,505.3 45.8,505.2 44.7,505.2 43.5,505.4 42.4,505.6 41.4,506 40.4,506.4 39.4,507 38.5,507.6 37.6,508.3 36.9,509 36.1,509.8 35.4,510.5 35.2,510.8 35.1,511.2 35.2,511.6 35.4,511.9 35.8,512.1 36.2,512.2 36.5,512.1 36.9,511.9 37.6,511.2 38.2,510.5 39,509.8 39.7,509.2 40.5,508.7 41.3,508.2 42.1,507.8 43,507.5 43.9,507.3 44.8,507.2 45.7,507.2 46.7,507.3 47.6,507.4 48.6,507.6 49.5,507.8 50.5,508.1 51.5,508.3 52.4,508.6 53.4,508.9 54.3,509.2 55.3,509.5 56.2,509.9 57.1,510.2 58,510.6 58.9,511.1 59.9,511.5 60.8,511.9 61.8,512.3 62.7,512.6 63.7,512.9 64.7,513.2 65.8,513.5 66.8,513.6 67.9,513.7 69,513.6 70.1,513.4 71.2,513.1 72.1,512.7 73.1,512.3 74,511.8 74.9,511.4 75.8,510.9 76.8,510.5 77.7,510 78.6,509.6 79.5,509.1 80.3,508.7 81.2,508.4 82.1,508.2 82.9,508.1 83.8,508.1 84.7,508.3 85.6,508.5 86.6,508.8 87.5,509.1 88.5,509.4 89.5,509.7 90.4,510 91.4,510.3 92.4,510.6 93.4,510.9 94.5,511.1 95.5,511.2 96.6,511.2 97.7,511.2 98.7,511.1 99.7,511 100.7,510.8 101.7,510.7 102.7,510.6 103.7,510.5 104.7,510.4 105.7,510.3 106.7,510.2 107.7,510.2 108.7,510.1 109.7,510.1 110.1,510 110.5,509.7 110.7,509.4 110.7,509 110.6,508.6 110.4,508.2 110,508Z" style="filter:blur(0.4px)"/>
<path class="mb" d="M111.9,512.4 113,512.5 114.1,512.7 115.2,512.8 116.3,512.9 117.3,513.1 118.4,513.2 119.5,513.3 120.6,513.4 121.6,513.6 122.7,513.7 123.8,513.6 124.9,513.1 125.6,512.3 125.9,511.2 125.9,510.1 125.4,509 124.5,508.3 123.4,508 122.3,507.8 121.3,507.7 120.2,507.6 119.1,507.4 118,507.3 117,507.2 115.9,507 114.8,506.9 113.7,506.8 112.6,506.6 111.5,506.7 110.5,507.2 109.8,508.1 109.4,509.2 109.5,510.3 110,511.3 110.9,512Z"/>
<path class="ml" d="M112.1,511.3 113.2,511.4 114.2,511.5 115.3,511.7 116.4,511.8 117.5,511.9 118.5,512 119.6,512.2 120.7,512.3 121.8,512.4 122.9,512.6 123.5,512.5 124,512.2 124.4,511.8 124.6,511.2 124.6,510.6 124.3,510 123.8,509.6 123.2,509.4 122.2,509.3 121.1,509.1 120,509 118.9,508.9 117.9,508.7 116.8,508.6 115.7,508.5 114.6,508.4 113.5,508.2 112.5,508.1 111.8,508.1 111.3,508.4 110.9,508.9 110.7,509.5 110.7,510.1 111,510.7 111.5,511.1Z" style="filter:blur(0.4px)"/>
<clipPath id="m19"><path d="M111.9,512.4 113,512.5 114.1,512.7 115.2,512.8 116.3,512.9 117.3,513.1 118.4,513.2 119.5,513.3 120.6,513.4 121.6,513.6 122.7,513.7 123.8,513.6 124.9,513.1 125.6,512.3 125.9,511.2 125.9,510.1 125.4,509 124.5,508.3 123.4,508 122.3,507.8 121.3,507.7 120.2,507.6 119.1,507.4 118,507.3 117,507.2 115.9,507 114.8,506.9 113.7,506.8 112.6,506.6 111.5,506.7 110.5,507.2 109.8,508.1 109.4,509.2 109.5,510.3 110,511.3 110.9,512Z"/></clipPath>
<g clip-path="url(#m19)"><circle cx="123.1" cy="510.8" r="2.7" fill="#93cfd3" style="filter:blur(1.2px)"/></g>
<clipPath id="c20"><path d="M149.4,511.9C149.6,511.4 149.6,511 149.5,510.5C149.4,510 149.3,509.5 148.9,509C148.5,508.5 148.1,508 147.2,507.4C146.4,506.8 145,506.1 143.7,505.4C142.3,504.8 140.7,504.1 139.3,503.6C137.9,503.1 136.6,502.8 135.3,502.5C134,502.2 132.7,501.9 131.5,501.7C130.3,501.5 129.1,501.4 128.2,501.4C127.3,501.4 126.8,501.4 126.1,501.6C125.5,501.7 125,501.9 124.6,502.2C124.2,502.5 123.8,502.9 123.6,503.3C123.3,503.8 123.2,504.3 123.1,504.8C123,505.3 123,505.8 123,506.3C122.9,506.9 122.9,507.1 122.9,508.2C122.9,509.3 123.1,512 123.2,513.1C123.3,514.1 123.3,513.9 123.3,514.4C123.3,514.9 123.4,515.6 123.5,516.2C123.5,516.7 123.6,517.3 123.8,517.8C123.9,518.4 124.1,518.9 124.4,519.2C124.8,519.6 125.3,520 125.7,520.2C126.1,520.4 126.4,520.5 127,520.6C127.5,520.6 128.2,520.7 129,520.7C129.9,520.7 130.9,520.6 131.9,520.5C132.9,520.3 133.8,520 134.9,519.8C136,519.6 137.2,519.5 138.4,519.1C139.7,518.8 141,518.5 142.6,517.5C144.3,516.6 147.3,514.5 148.4,513.6C149.5,512.6 149.2,512.5 149.4,511.9Z"/></clipPath>
<path class="hd" d="M149.4,511.9C149.6,511.4 149.6,511 149.5,510.5C149.4,510 149.3,509.5 148.9,509C148.5,508.5 148.1,508 147.2,507.4C146.4,506.8 145,506.1 143.7,505.4C142.3,504.8 140.7,504.1 139.3,503.6C137.9,503.1 136.6,502.8 135.3,502.5C134,502.2 132.7,501.9 131.5,501.7C130.3,501.5 129.1,501.4 128.2,501.4C127.3,501.4 126.8,501.4 126.1,501.6C125.5,501.7 125,501.9 124.6,502.2C124.2,502.5 123.8,502.9 123.6,503.3C123.3,503.8 123.2,504.3 123.1,504.8C123,505.3 123,505.8 123,506.3C122.9,506.9 122.9,507.1 122.9,508.2C122.9,509.3 123.1,512 123.2,513.1C123.3,514.1 123.3,513.9 123.3,514.4C123.3,514.9 123.4,515.6 123.5,516.2C123.5,516.7 123.6,517.3 123.8,517.8C123.9,518.4 124.1,518.9 124.4,519.2C124.8,519.6 125.3,520 125.7,520.2C126.1,520.4 126.4,520.5 127,520.6C127.5,520.6 128.2,520.7 129,520.7C129.9,520.7 130.9,520.6 131.9,520.5C132.9,520.3 133.8,520 134.9,519.8C136,519.6 137.2,519.5 138.4,519.1C139.7,518.8 141,518.5 142.6,517.5C144.3,516.6 147.3,514.5 148.4,513.6C149.5,512.6 149.2,512.5 149.4,511.9Z"/>
<g clip-path="url(#c20)"><path d="M122.8,499.9 126.8,501.4 127.7,505.7 128,511.3 129.5,516.8 135,519.9 137.6,524.3 120.9,522.7Z" fill="#93cfd3" style="filter:blur(1.3px)" opacity="0.8"/>
<path d="M149.4,511.9C149.6,511.4 149.6,511 149.5,510.5C149.4,510 149.3,509.5 148.9,509C148.5,508.5 148.1,508 147.2,507.4C146.4,506.8 145,506.1 143.7,505.4C142.3,504.8 140.7,504.1 139.3,503.6C137.9,503.1 136.6,502.8 135.3,502.5C134,502.2 132.7,501.9 131.5,501.7C130.3,501.5 129.1,501.4 128.2,501.4C127.3,501.4 126.8,501.4 126.1,501.6C125.5,501.7 125,501.9 124.6,502.2C124.2,502.5 123.8,502.9 123.6,503.3C123.3,503.8 123.2,504.3 123.1,504.8C123,505.3 123,505.8 123,506.3C122.9,506.9 122.9,507.1 122.9,508.2C122.9,509.3 123.1,512 123.2,513.1C123.3,514.1 123.3,513.9 123.3,514.4C123.3,514.9 123.4,515.6 123.5,516.2C123.5,516.7 123.6,517.3 123.8,517.8C123.9,518.4 124.1,518.9 124.4,519.2C124.8,519.6 125.3,520 125.7,520.2C126.1,520.4 126.4,520.5 127,520.6C127.5,520.6 128.2,520.7 129,520.7C129.9,520.7 130.9,520.6 131.9,520.5C132.9,520.3 133.8,520 134.9,519.8C136,519.6 137.2,519.5 138.4,519.1C139.7,518.8 141,518.5 142.6,517.5C144.3,516.6 147.3,514.5 148.4,513.6C149.5,512.6 149.2,512.5 149.4,511.9Z" fill="none" stroke="#8ac8cd" stroke-width="1" style="filter:blur(0.5px)" opacity="0.7"/></g>
<ellipse class="nu" cx="138.3" cy="511" rx="4.8" ry="3.7" transform="rotate(-2.8 138.3 511)"/>
<path class="tb" d="M344.6,644.2 343.6,644.3 342.6,644.3 341.5,644.4 340.5,644.4 339.5,644.5 338.4,644.6 337.4,644.7 336.4,644.8 335.3,645 334.3,645.1 333.4,645.2 332.5,645.3 331.6,645.4 330.7,645.4 329.9,645.3 329.1,645.1 328.2,644.9 327.3,644.6 326.3,644.3 325.3,644 324.4,643.7 323.4,643.4 322.5,643.1 321.4,642.8 320.3,642.5 319.1,642.3 317.8,642.3 316.5,642.4 315.3,642.7 314.2,643.1 313.2,643.6 312.2,644.1 311.3,644.5 310.5,645 309.6,645.4 308.7,645.8 307.8,646.3 306.9,646.7 306,647.1 305.2,647.5 304.4,647.7 303.7,647.8 302.9,647.9 302.2,647.9 301.3,647.7 300.5,647.5 299.6,647.3 298.7,647 297.8,646.7 296.9,646.3 296,645.9 295.1,645.5 294.2,645.1 293.2,644.7 292.2,644.3 291.2,643.9 290.2,643.6 289.2,643.2 288.2,643 287.2,642.7 286.2,642.4 285.2,642.1 284.1,641.9 283.1,641.7 282,641.5 280.8,641.5 279.6,641.5 278.4,641.6 277.2,641.9 276.1,642.3 275,642.8 274,643.4 273,644 272.1,644.8 271.3,645.5 270.5,646.3 269.8,647 269.4,647.7 269.3,648.4 269.4,649.2 269.9,649.8 270.5,650.3 271.3,650.4 272.1,650.2 272.7,649.8 273.4,649.1 274.1,648.4 274.7,647.8 275.4,647.2 276.1,646.8 276.8,646.4 277.6,646 278.3,645.8 279.1,645.6 279.9,645.5 280.7,645.5 281.5,645.6 282.4,645.7 283.3,645.9 284.3,646.1 285.2,646.3 286.1,646.6 287.1,646.8 288,647.1 289,647.4 289.9,647.7 290.8,648.1 291.6,648.4 292.5,648.8 293.4,649.2 294.4,649.7 295.4,650.1 296.4,650.5 297.4,650.8 298.4,651.2 299.4,651.5 300.5,651.7 301.7,651.9 302.9,652 304.2,651.9 305.4,651.7 306.6,651.3 307.6,650.9 308.6,650.4 309.5,650 310.4,649.6 311.4,649.1 312.3,648.7 313.2,648.2 314.1,647.7 315,647.3 315.8,647 316.6,646.7 317.3,646.5 318,646.4 318.7,646.4 319.5,646.5 320.3,646.8 321.2,647 322.2,647.4 323.1,647.7 324.1,648 325.1,648.3 326.1,648.6 327.1,648.9 328.1,649.2 329.3,649.4 330.5,649.5 331.6,649.5 332.8,649.5 333.8,649.4 334.9,649.3 335.9,649.1 336.9,649 337.9,648.9 338.8,648.8 339.8,648.7 340.8,648.6 341.8,648.6 342.8,648.5 343.8,648.5 344.8,648.4 345.6,648.2 346.3,647.7 346.7,647 346.8,646.2 346.6,645.4 346.1,644.7 345.4,644.3Z"/>
<path class="tm" d="M344.6,644.4 343.6,644.5 342.6,644.5 341.6,644.6 340.5,644.7 339.5,644.7 338.5,644.8 337.4,644.9 336.4,645.1 335.4,645.2 334.4,645.3 333.4,645.5 332.5,645.6 331.6,645.6 330.7,645.6 329.9,645.5 329,645.3 328.1,645.1 327.2,644.8 326.2,644.5 325.3,644.2 324.3,643.9 323.4,643.6 322.4,643.3 321.4,643 320.3,642.7 319.1,642.5 317.8,642.5 316.6,642.6 315.4,642.9 314.3,643.3 313.3,643.8 312.4,644.3 311.4,644.7 310.6,645.2 309.7,645.6 308.8,646.1 307.9,646.5 306.9,646.9 306.1,647.3 305.2,647.7 304.5,647.9 303.7,648.1 302.9,648.1 302.1,648.1 301.3,647.9 300.4,647.7 299.5,647.5 298.6,647.2 297.7,646.9 296.8,646.5 295.9,646.1 295,645.7 294.1,645.3 293.1,644.9 292.2,644.5 291.2,644.1 290.2,643.8 289.2,643.5 288.2,643.2 287.2,642.9 286.2,642.6 285.1,642.4 284.1,642.1 283,641.9 281.9,641.8 280.8,641.7 279.6,641.7 278.4,641.8 277.3,642.1 276.2,642.5 275.1,643 274.1,643.5 273.1,644.2 272.2,644.9 271.4,645.7 270.7,646.4 270,647.2 269.6,647.7 269.5,648.4 269.6,649 270,649.5 270.6,649.9 271.2,650 271.9,649.9 272.4,649.5 273.1,648.8 273.8,648.1 274.4,647.5 275.1,646.9 275.8,646.4 276.6,646 277.4,645.6 278.2,645.4 279,645.2 279.8,645.1 280.7,645.1 281.6,645.1 282.5,645.3 283.4,645.4 284.4,645.7 285.3,645.9 286.3,646.2 287.2,646.4 288.2,646.7 289.1,647 290,647.3 290.9,647.7 291.8,648 292.7,648.4 293.6,648.8 294.6,649.3 295.5,649.7 296.5,650.1 297.5,650.4 298.5,650.8 299.5,651.1 300.6,651.3 301.8,651.5 302.9,651.6 304.1,651.5 305.3,651.2 306.4,650.9 307.4,650.5 308.4,650 309.3,649.6 310.2,649.2 311.2,648.7 312.1,648.3 313,647.8 313.9,647.4 314.8,646.9 315.6,646.6 316.4,646.3 317.2,646.1 318,646 318.8,646 319.6,646.1 320.4,646.3 321.3,646.6 322.3,646.9 323.3,647.3 324.2,647.6 325.2,647.9 326.2,648.2 327.2,648.5 328.2,648.7 329.4,648.9 330.5,649.1 331.6,649.1 332.7,649.1 333.8,649 334.8,648.8 335.9,648.7 336.8,648.5 337.8,648.4 338.8,648.3 339.8,648.3 340.8,648.2 341.8,648.1 342.8,648.1 343.8,648 344.8,648 345.5,647.8 346,647.4 346.4,646.8 346.5,646.1 346.3,645.4 345.9,644.9 345.3,644.5Z"/>
<path class="tl" d="M344.6,645.1 343.6,645.1 342.6,645.2 341.6,645.3 340.6,645.3 339.6,645.4 338.5,645.5 337.5,645.6 336.5,645.7 335.5,645.8 334.5,646 333.5,646.1 332.5,646.2 331.6,646.2 330.7,646.2 329.8,646.1 328.9,646 328,645.7 327,645.4 326,645.1 325.1,644.8 324.1,644.5 323.2,644.2 322.2,643.9 321.2,643.6 320.1,643.3 319,643.2 317.9,643.1 316.7,643.3 315.6,643.6 314.6,643.9 313.6,644.4 312.6,644.8 311.7,645.3 310.8,645.8 309.9,646.2 309,646.6 308.1,647.1 307.2,647.5 306.3,647.9 305.5,648.3 304.6,648.5 303.8,648.7 302.9,648.8 302.1,648.7 301.2,648.6 300.3,648.4 299.3,648.1 298.4,647.8 297.5,647.5 296.6,647.1 295.7,646.7 294.8,646.3 293.8,645.9 292.9,645.5 291.9,645.1 290.9,644.7 290,644.4 289,644.1 288,643.8 287,643.5 286,643.2 285,643 284,642.7 282.9,642.5 281.9,642.4 280.8,642.3 279.7,642.3 278.5,642.5 277.4,642.7 276.4,643.1 275.4,643.5 274.4,644.1 273.5,644.7 272.6,645.4 271.9,646.1 271.1,646.9 270.4,647.6 270.2,647.9 270.1,648.3 270.2,648.7 270.4,649 270.8,649.2 271.2,649.3 271.5,649.2 271.9,649 272.6,648.3 273.2,647.6 274,646.9 274.7,646.3 275.5,645.8 276.3,645.3 277.1,644.9 278,644.6 278.9,644.4 279.8,644.3 280.7,644.3 281.7,644.4 282.6,644.5 283.6,644.7 284.5,644.9 285.5,645.2 286.5,645.4 287.4,645.7 288.4,646 289.3,646.3 290.3,646.6 291.2,647 292.1,647.3 293,647.7 293.9,648.2 294.9,648.6 295.8,649 296.8,649.4 297.7,649.7 298.7,650 299.7,650.3 300.8,650.6 301.8,650.7 302.9,650.8 304,650.7 305.1,650.5 306.2,650.2 307.1,649.8 308.1,649.4 309,648.9 309.9,648.5 310.8,648 311.8,647.6 312.7,647.1 313.6,646.7 314.5,646.2 315.3,645.8 316.2,645.5 317.1,645.3 317.9,645.2 318.8,645.2 319.7,645.4 320.6,645.6 321.6,645.9 322.5,646.2 323.5,646.5 324.5,646.8 325.4,647.1 326.4,647.4 327.4,647.7 328.4,648 329.5,648.2 330.5,648.3 331.6,648.3 332.7,648.3 333.7,648.2 334.7,648.1 335.7,647.9 336.7,647.8 337.7,647.7 338.7,647.6 339.7,647.5 340.7,647.4 341.7,647.3 342.7,647.3 343.7,647.2 344.7,647.2 345.1,647.1 345.5,646.8 345.7,646.5 345.7,646.1 345.6,645.7 345.4,645.3 345,645.1Z" style="filter:blur(0.4px)"/>
<path class="mb" d="M347,649.5 348,649.6 349,649.7 350,649.8 351,650 352,650.1 353,650.2 354,650.3 355,650.4 356,650.5 357,650.7 358,650.8 359.1,650.7 360.2,650.2 360.9,649.3 361.2,648.2 361.1,647.1 360.6,646.1 359.8,645.4 358.7,645 357.7,644.9 356.7,644.8 355.7,644.7 354.7,644.5 353.7,644.4 352.7,644.3 351.7,644.2 350.6,644.1 349.6,644 348.6,643.8 347.6,643.7 346.5,643.8 345.5,644.3 344.8,645.2 344.4,646.3 344.5,647.4 345,648.4 345.9,649.1Z"/>
<path class="ml" d="M347.1,648.3 348.1,648.5 349.1,648.6 350.1,648.7 351.1,648.8 352.1,648.9 353.1,649.1 354.1,649.2 355.1,649.3 356.1,649.4 357.1,649.5 358.2,649.6 358.8,649.6 359.3,649.3 359.7,648.8 359.9,648.2 359.9,647.6 359.6,647.1 359.1,646.7 358.5,646.5 357.5,646.4 356.5,646.2 355.5,646.1 354.5,646 353.5,645.9 352.5,645.8 351.5,645.7 350.5,645.5 349.5,645.4 348.5,645.3 347.5,645.2 346.8,645.2 346.3,645.5 345.9,646 345.7,646.6 345.7,647.2 346,647.8 346.5,648.2Z" style="filter:blur(0.4px)"/>
<clipPath id="m21"><path d="M347,649.5 348,649.6 349,649.7 350,649.8 351,650 352,650.1 353,650.2 354,650.3 355,650.4 356,650.5 357,650.7 358,650.8 359.1,650.7 360.2,650.2 360.9,649.3 361.2,648.2 361.1,647.1 360.6,646.1 359.8,645.4 358.7,645 357.7,644.9 356.7,644.8 355.7,644.7 354.7,644.5 353.7,644.4 352.7,644.3 351.7,644.2 350.6,644.1 349.6,644 348.6,643.8 347.6,643.7 346.5,643.8 345.5,644.3 344.8,645.2 344.4,646.3 344.5,647.4 345,648.4 345.9,649.1Z"/></clipPath>
<g clip-path="url(#m21)"><circle cx="358.4" cy="647.9" r="2.7" fill="#93cfd3" style="filter:blur(1.1px)"/></g>
<clipPath id="c22"><path d="M384.4,649.3C384.6,648.8 384.6,648.3 384.5,647.8C384.4,647.3 384.2,646.8 383.8,646.3C383.5,645.8 383.1,645.3 382.2,644.7C381.3,644.1 379.9,643.3 378.6,642.7C377.3,642 375.6,641.3 374.2,640.8C372.9,640.3 371.5,640 370.2,639.7C368.9,639.3 367.6,639 366.5,638.9C365.3,638.7 364.1,638.6 363.2,638.5C362.3,638.5 361.7,638.5 361.1,638.7C360.6,638.8 360.1,639 359.6,639.3C359.2,639.6 358.9,640 358.7,640.4C358.4,640.9 358.3,641.4 358.3,641.9C358.2,642.4 358.2,642.8 358.2,643.4C358.1,644 358,644.2 358.1,645.3C358.2,646.4 358.5,649.1 358.6,650.1C358.7,651.2 358.6,651 358.7,651.5C358.7,652 358.8,652.7 358.9,653.2C359,653.8 359.1,654.4 359.2,654.9C359.4,655.4 359.6,655.9 359.9,656.3C360.3,656.7 360.8,657.1 361.2,657.3C361.6,657.5 361.9,657.6 362.5,657.7C363.1,657.7 363.7,657.8 364.5,657.8C365.4,657.8 366.4,657.8 367.4,657.6C368.3,657.5 369.3,657.2 370.3,657C371.4,656.8 372.5,656.7 373.8,656.3C375.1,656 376.3,655.7 377.9,654.8C379.5,653.9 382.4,651.8 383.5,650.9C384.6,650 384.3,649.8 384.4,649.3Z"/></clipPath>
<path class="hd" d="M384.4,649.3C384.6,648.8 384.6,648.3 384.5,647.8C384.4,647.3 384.2,646.8 383.8,646.3C383.5,645.8 383.1,645.3 382.2,644.7C381.3,644.1 379.9,643.3 378.6,642.7C377.3,642 375.6,641.3 374.2,640.8C372.9,640.3 371.5,640 370.2,639.7C368.9,639.3 367.6,639 366.5,638.9C365.3,638.7 364.1,638.6 363.2,638.5C362.3,638.5 361.7,638.5 361.1,638.7C360.6,638.8 360.1,639 359.6,639.3C359.2,639.6 358.9,640 358.7,640.4C358.4,640.9 358.3,641.4 358.3,641.9C358.2,642.4 358.2,642.8 358.2,643.4C358.1,644 358,644.2 358.1,645.3C358.2,646.4 358.5,649.1 358.6,650.1C358.7,651.2 358.6,651 358.7,651.5C358.7,652 358.8,652.7 358.9,653.2C359,653.8 359.1,654.4 359.2,654.9C359.4,655.4 359.6,655.9 359.9,656.3C360.3,656.7 360.8,657.1 361.2,657.3C361.6,657.5 361.9,657.6 362.5,657.7C363.1,657.7 363.7,657.8 364.5,657.8C365.4,657.8 366.4,657.8 367.4,657.6C368.3,657.5 369.3,657.2 370.3,657C371.4,656.8 372.5,656.7 373.8,656.3C375.1,656 376.3,655.7 377.9,654.8C379.5,653.9 382.4,651.8 383.5,650.9C384.6,650 384.3,649.8 384.4,649.3Z"/>
<g clip-path="url(#c22)"><path d="M357.8,637 361.8,638.6 362.8,642.8 363.3,648.5 364.9,653.9 370.4,657.1 373.1,661.5 356.6,659.7Z" fill="#93cfd3" style="filter:blur(1.3px)" opacity="0.8"/>
<path d="M384.4,649.3C384.6,648.8 384.6,648.3 384.5,647.8C384.4,647.3 384.2,646.8 383.8,646.3C383.5,645.8 383.1,645.3 382.2,644.7C381.3,644.1 379.9,643.3 378.6,642.7C377.3,642 375.6,641.3 374.2,640.8C372.9,640.3 371.5,640 370.2,639.7C368.9,639.3 367.6,639 366.5,638.9C365.3,638.7 364.1,638.6 363.2,638.5C362.3,638.5 361.7,638.5 361.1,638.7C360.6,638.8 360.1,639 359.6,639.3C359.2,639.6 358.9,640 358.7,640.4C358.4,640.9 358.3,641.4 358.3,641.9C358.2,642.4 358.2,642.8 358.2,643.4C358.1,644 358,644.2 358.1,645.3C358.2,646.4 358.5,649.1 358.6,650.1C358.7,651.2 358.6,651 358.7,651.5C358.7,652 358.8,652.7 358.9,653.2C359,653.8 359.1,654.4 359.2,654.9C359.4,655.4 359.6,655.9 359.9,656.3C360.3,656.7 360.8,657.1 361.2,657.3C361.6,657.5 361.9,657.6 362.5,657.7C363.1,657.7 363.7,657.8 364.5,657.8C365.4,657.8 366.4,657.8 367.4,657.6C368.3,657.5 369.3,657.2 370.3,657C371.4,656.8 372.5,656.7 373.8,656.3C375.1,656 376.3,655.7 377.9,654.8C379.5,653.9 382.4,651.8 383.5,650.9C384.6,650 384.3,649.8 384.4,649.3Z" fill="none" stroke="#8ac8cd" stroke-width="1" style="filter:blur(0.5px)" opacity="0.7"/></g>
<ellipse class="nu" cx="373.4" cy="648.3" rx="4.8" ry="3.6" transform="rotate(-3.3 373.4 648.3)"/>
<path class="tb" d="M425.9,380.5 424.9,380.7 423.9,380.9 422.9,381.1 421.9,381.4 420.9,381.6 419.9,381.8 418.9,382.1 417.9,382.4 416.9,382.7 415.9,382.9 415,383.2 414.1,383.4 413.2,383.6 412.4,383.7 411.6,383.7 410.7,383.7 409.8,383.6 408.9,383.5 407.9,383.3 406.9,383.2 405.9,383 404.9,382.9 403.9,382.7 402.8,382.5 401.7,382.4 400.4,382.4 399.2,382.6 397.9,382.9 396.8,383.4 395.7,384 394.8,384.6 393.9,385.2 393.1,385.8 392.3,386.3 391.5,386.9 390.7,387.5 389.8,388 389,388.6 388.2,389.1 387.4,389.6 386.7,389.9 386,390.2 385.3,390.3 384.5,390.4 383.7,390.4 382.8,390.3 381.9,390.2 380.9,390.1 380,389.9 379.1,389.7 378.1,389.4 377.2,389.2 376.2,388.9 375.2,388.6 374.2,388.3 373.1,388.1 372.1,387.9 371,387.8 370,387.6 369,387.5 367.9,387.4 366.9,387.3 365.8,387.2 364.7,387.1 363.6,387.2 362.4,387.2 361.3,387.4 360.1,387.8 358.9,388.2 357.9,388.8 356.9,389.4 356,390.1 355.1,390.9 354.3,391.8 353.6,392.7 353,393.5 352.4,394.4 352.1,395.1 352,395.8 352.3,396.6 352.9,397.1 353.6,397.5 354.4,397.5 355.1,397.2 355.6,396.7 356.2,395.9 356.8,395.1 357.4,394.4 357.9,393.8 358.5,393.2 359.2,392.7 359.9,392.2 360.6,391.9 361.4,391.6 362.1,391.4 362.9,391.2 363.8,391.2 364.7,391.2 365.6,391.2 366.5,391.3 367.5,391.4 368.5,391.5 369.5,391.6 370.4,391.8 371.4,391.9 372.3,392.1 373.3,392.3 374.2,392.5 375.1,392.8 376.1,393.1 377.1,393.3 378.1,393.6 379.2,393.9 380.2,394.1 381.3,394.2 382.4,394.4 383.5,394.5 384.7,394.5 385.9,394.4 387.1,394.1 388.3,393.7 389.4,393.2 390.4,392.6 391.2,392 392.1,391.4 392.9,390.9 393.8,390.3 394.6,389.7 395.5,389.1 396.3,388.5 397.1,388 397.8,387.5 398.6,387.1 399.3,386.8 400,386.6 400.7,386.5 401.4,386.5 402.3,386.6 403.2,386.8 404.2,387 405.2,387.1 406.2,387.3 407.2,387.4 408.2,387.6 409.3,387.7 410.4,387.9 411.6,387.9 412.7,387.9 413.9,387.7 415,387.5 416.1,387.2 417.1,387 418.1,386.7 419,386.4 420,386.1 420.9,385.9 421.9,385.7 422.8,385.5 423.8,385.2 424.8,385 425.8,384.8 426.8,384.6 427.5,384.3 428.1,383.7 428.4,383 428.4,382.2 428.1,381.4 427.5,380.8 426.7,380.5Z"/>
<path class="tm" d="M426,380.8 425,381 424,381.2 423,381.4 422,381.6 421,381.8 420,382.1 419,382.3 417.9,382.6 417,382.9 416,383.2 415.1,383.4 414.2,383.7 413.3,383.8 412.4,383.9 411.6,384 410.7,383.9 409.8,383.8 408.8,383.7 407.8,383.6 406.8,383.4 405.8,383.3 404.9,383.1 403.9,382.9 402.8,382.8 401.7,382.6 400.4,382.6 399.2,382.8 398,383.1 396.9,383.6 395.9,384.2 394.9,384.7 394.1,385.4 393.2,386 392.4,386.5 391.6,387.1 390.8,387.6 389.9,388.2 389.1,388.8 388.3,389.3 387.5,389.8 386.8,390.1 386.1,390.4 385.3,390.6 384.5,390.6 383.7,390.6 382.8,390.6 381.8,390.4 380.9,390.3 380,390.1 379,389.9 378.1,389.6 377.1,389.4 376.2,389.1 375.2,388.8 374.1,388.6 373.1,388.3 372,388.1 371,388 370,387.8 368.9,387.7 367.9,387.6 366.9,387.5 365.8,387.4 364.7,387.4 363.6,387.4 362.5,387.5 361.3,387.6 360.1,388 359,388.4 358,389 357,389.6 356.1,390.3 355.2,391.1 354.5,391.9 353.8,392.8 353.2,393.6 352.6,394.5 352.3,395.1 352.3,395.7 352.5,396.4 353,396.8 353.6,397.1 354.2,397.1 354.8,396.9 355.3,396.4 355.9,395.6 356.5,394.8 357,394.1 357.6,393.5 358.3,392.9 359,392.3 359.7,391.9 360.4,391.5 361.2,391.2 362,391 362.9,390.8 363.7,390.8 364.7,390.8 365.6,390.8 366.6,390.9 367.5,391 368.5,391.1 369.5,391.2 370.5,391.3 371.5,391.5 372.4,391.7 373.3,391.9 374.3,392.1 375.2,392.4 376.2,392.7 377.2,392.9 378.2,393.2 379.2,393.4 380.3,393.6 381.3,393.8 382.4,394 383.5,394.1 384.7,394.1 385.8,394 387,393.7 388.1,393.3 389.2,392.8 390.1,392.2 391,391.6 391.9,391.1 392.7,390.5 393.5,389.9 394.4,389.4 395.2,388.8 396.1,388.2 396.8,387.6 397.6,387.1 398.4,386.7 399.1,386.4 399.9,386.2 400.6,386.1 401.5,386.1 402.4,386.2 403.3,386.4 404.3,386.5 405.3,386.7 406.3,386.8 407.3,387 408.3,387.2 409.3,387.3 410.4,387.4 411.6,387.5 412.7,387.4 413.8,387.3 414.9,387.1 416,386.8 417,386.5 418,386.2 418.9,386 419.9,385.7 420.8,385.5 421.8,385.2 422.7,385 423.7,384.8 424.7,384.6 425.7,384.4 426.7,384.2 427.3,383.9 427.8,383.4 428.1,382.8 428.1,382.1 427.8,381.5 427.3,381 426.7,380.7Z"/>
<path class="tl" d="M426.1,381.4 425.1,381.6 424.1,381.8 423.1,382 422.1,382.2 421.1,382.4 420.1,382.7 419.1,382.9 418.1,383.2 417.1,383.5 416.2,383.8 415.2,384.1 414.3,384.3 413.4,384.5 412.5,384.6 411.6,384.6 410.6,384.6 409.7,384.5 408.7,384.3 407.7,384.2 406.7,384 405.7,383.9 404.8,383.7 403.8,383.6 402.7,383.4 401.6,383.3 400.5,383.3 399.3,383.4 398.2,383.7 397.2,384.2 396.2,384.7 395.3,385.3 394.4,385.9 393.6,386.5 392.8,387.1 392,387.6 391.1,388.2 390.3,388.7 389.5,389.3 388.6,389.8 387.8,390.3 387,390.7 386.2,391 385.4,391.2 384.5,391.3 383.6,391.3 382.7,391.2 381.7,391.1 380.8,390.9 379.8,390.7 378.9,390.5 377.9,390.2 377,390 376,389.7 375,389.4 374,389.2 373,389 371.9,388.8 370.9,388.6 369.9,388.5 368.9,388.3 367.8,388.2 366.8,388.1 365.8,388 364.7,388 363.6,388 362.5,388.1 361.4,388.3 360.3,388.6 359.3,389 358.3,389.5 357.4,390.1 356.5,390.8 355.7,391.5 354.9,392.3 354.3,393.2 353.7,394 353.1,394.8 352.9,395.2 352.9,395.6 353,396 353.3,396.2 353.7,396.4 354.1,396.4 354.4,396.3 354.7,396 355.3,395.2 355.9,394.4 356.5,393.6 357.1,392.9 357.8,392.3 358.5,391.7 359.3,391.2 360.1,390.8 361,390.5 361.9,390.2 362.8,390.1 363.7,390 364.7,390 365.7,390.1 366.6,390.1 367.6,390.2 368.6,390.3 369.6,390.5 370.6,390.6 371.6,390.8 372.6,390.9 373.5,391.1 374.5,391.4 375.4,391.7 376.4,391.9 377.4,392.2 378.4,392.5 379.4,392.7 380.4,392.9 381.4,393.1 382.5,393.2 383.5,393.3 384.6,393.3 385.7,393.2 386.8,393 387.8,392.6 388.8,392.1 389.7,391.6 390.6,391 391.4,390.4 392.3,389.9 393.1,389.3 394,388.7 394.8,388.1 395.6,387.6 396.4,387 397.2,386.5 398.1,386 398.9,385.7 399.7,385.5 400.6,385.3 401.5,385.3 402.4,385.4 403.4,385.6 404.4,385.8 405.4,385.9 406.4,386.1 407.4,386.2 408.4,386.4 409.4,386.5 410.5,386.7 411.6,386.7 412.6,386.7 413.7,386.5 414.8,386.3 415.8,386.1 416.8,385.8 417.7,385.5 418.7,385.2 419.7,385 420.6,384.7 421.6,384.5 422.6,384.3 423.6,384.1 424.5,383.9 425.5,383.6 426.5,383.4 426.9,383.3 427.2,383 427.3,382.6 427.3,382.2 427.2,381.8 426.9,381.5 426.5,381.4Z" style="filter:blur(0.4px)"/>
<path class="mb" d="M429.2,385.2 430.3,385.1 431.4,385 432.5,384.9 433.6,384.8 434.7,384.7 435.8,384.6 436.9,384.5 438,384.4 439,384.3 440.1,384.2 441.2,383.9 442.1,383.1 442.6,382.2 442.7,381 442.4,379.9 441.7,379.1 440.7,378.5 439.6,378.4 438.5,378.5 437.4,378.6 436.3,378.7 435.2,378.8 434.1,378.9 433,379 431.9,379.1 430.9,379.2 429.8,379.3 428.7,379.4 427.6,379.8 426.7,380.5 426.2,381.5 426.1,382.6 426.4,383.7 427.1,384.6 428.1,385.1Z"/>
<path class="ml" d="M429.1,384.1 430.2,384 431.3,383.9 432.4,383.8 433.5,383.7 434.6,383.6 435.7,383.5 436.8,383.4 437.8,383.3 438.9,383.2 440,383 440.6,382.9 441.1,382.5 441.4,381.9 441.5,381.3 441.3,380.7 440.9,380.2 440.3,379.9 439.7,379.9 438.6,380 437.5,380.1 436.4,380.2 435.4,380.3 434.3,380.4 433.2,380.5 432.1,380.6 431,380.7 429.9,380.8 428.8,380.9 428.2,381.1 427.7,381.5 427.4,382 427.4,382.6 427.6,383.2 427.9,383.7 428.5,384Z" style="filter:blur(0.4px)"/>
<clipPath id="m23"><path d="M429.2,385.2 430.3,385.1 431.4,385 432.5,384.9 433.6,384.8 434.7,384.7 435.8,384.6 436.9,384.5 438,384.4 439,384.3 440.1,384.2 441.2,383.9 442.1,383.1 442.6,382.2 442.7,381 442.4,379.9 441.7,379.1 440.7,378.5 439.6,378.4 438.5,378.5 437.4,378.6 436.3,378.7 435.2,378.8 434.1,378.9 433,379 431.9,379.1 430.9,379.2 429.8,379.3 428.7,379.4 427.6,379.8 426.7,380.5 426.2,381.5 426.1,382.6 426.4,383.7 427.1,384.6 428.1,385.1Z"/></clipPath>
<g clip-path="url(#m23)"><circle cx="439.9" cy="381.3" r="2.6" fill="#93cfd3" style="filter:blur(1.1px)"/></g>
<clipPath id="c24"><path d="M466,379.5C466.2,379 466.1,378.6 466,378.1C465.9,377.7 465.7,377.2 465.3,376.7C464.8,376.3 464.4,375.9 463.5,375.4C462.6,374.9 461.2,374.3 459.8,373.8C458.4,373.4 456.8,372.8 455.4,372.5C453.9,372.2 452.6,372.1 451.2,371.9C449.9,371.7 448.6,371.6 447.4,371.6C446.3,371.5 445.1,371.6 444.2,371.6C443.3,371.7 442.7,371.8 442.1,372C441.5,372.2 441.1,372.4 440.7,372.8C440.3,373.1 440,373.6 439.7,374C439.5,374.4 439.5,374.9 439.4,375.4C439.4,375.9 439.4,376.4 439.4,376.9C439.4,377.5 439.3,377.7 439.5,378.8C439.6,379.9 440,382.5 440.2,383.4C440.3,384.4 440.3,384.2 440.4,384.7C440.5,385.2 440.6,385.9 440.7,386.4C440.8,387 440.9,387.5 441.1,388C441.3,388.5 441.6,389 441.9,389.3C442.3,389.7 442.8,389.9 443.2,390.1C443.7,390.3 444,390.3 444.5,390.3C445.1,390.3 445.8,390.3 446.6,390.2C447.4,390.1 448.5,389.9 449.4,389.7C450.4,389.4 451.3,389 452.3,388.7C453.4,388.4 454.5,388.2 455.8,387.7C457,387.2 458.2,386.8 459.8,385.7C461.4,384.6 464.1,382.3 465.2,381.2C466.2,380.2 465.9,380.1 466,379.5Z"/></clipPath>
<path class="hd" d="M466,379.5C466.2,379 466.1,378.6 466,378.1C465.9,377.7 465.7,377.2 465.3,376.7C464.8,376.3 464.4,375.9 463.5,375.4C462.6,374.9 461.2,374.3 459.8,373.8C458.4,373.4 456.8,372.8 455.4,372.5C453.9,372.2 452.6,372.1 451.2,371.9C449.9,371.7 448.6,371.6 447.4,371.6C446.3,371.5 445.1,371.6 444.2,371.6C443.3,371.7 442.7,371.8 442.1,372C441.5,372.2 441.1,372.4 440.7,372.8C440.3,373.1 440,373.6 439.7,374C439.5,374.4 439.5,374.9 439.4,375.4C439.4,375.9 439.4,376.4 439.4,376.9C439.4,377.5 439.3,377.7 439.5,378.8C439.6,379.9 440,382.5 440.2,383.4C440.3,384.4 440.3,384.2 440.4,384.7C440.5,385.2 440.6,385.9 440.7,386.4C440.8,387 440.9,387.5 441.1,388C441.3,388.5 441.6,389 441.9,389.3C442.3,389.7 442.8,389.9 443.2,390.1C443.7,390.3 444,390.3 444.5,390.3C445.1,390.3 445.8,390.3 446.6,390.2C447.4,390.1 448.5,389.9 449.4,389.7C450.4,389.4 451.3,389 452.3,388.7C453.4,388.4 454.5,388.2 455.8,387.7C457,387.2 458.2,386.8 459.8,385.7C461.4,384.6 464.1,382.3 465.2,381.2C466.2,380.2 465.9,380.1 466,379.5Z"/>
<g clip-path="url(#c24)"><path d="M438.7,370.8 442.8,371.8 444,375.8 444.8,381.3 446.8,386.3 452.5,388.8 455.4,392.8 438.7,393Z" fill="#93cfd3" style="filter:blur(1.3px)" opacity="0.8"/>
<path d="M466,379.5C466.2,379 466.1,378.6 466,378.1C465.9,377.7 465.7,377.2 465.3,376.7C464.8,376.3 464.4,375.9 463.5,375.4C462.6,374.9 461.2,374.3 459.8,373.8C458.4,373.4 456.8,372.8 455.4,372.5C453.9,372.2 452.6,372.1 451.2,371.9C449.9,371.7 448.6,371.6 447.4,371.6C446.3,371.5 445.1,371.6 444.2,371.6C443.3,371.7 442.7,371.8 442.1,372C441.5,372.2 441.1,372.4 440.7,372.8C440.3,373.1 440,373.6 439.7,374C439.5,374.4 439.5,374.9 439.4,375.4C439.4,375.9 439.4,376.4 439.4,376.9C439.4,377.5 439.3,377.7 439.5,378.8C439.6,379.9 440,382.5 440.2,383.4C440.3,384.4 440.3,384.2 440.4,384.7C440.5,385.2 440.6,385.9 440.7,386.4C440.8,387 440.9,387.5 441.1,388C441.3,388.5 441.6,389 441.9,389.3C442.3,389.7 442.8,389.9 443.2,390.1C443.7,390.3 444,390.3 444.5,390.3C445.1,390.3 445.8,390.3 446.6,390.2C447.4,390.1 448.5,389.9 449.4,389.7C450.4,389.4 451.3,389 452.3,388.7C453.4,388.4 454.5,388.2 455.8,387.7C457,387.2 458.2,386.8 459.8,385.7C461.4,384.6 464.1,382.3 465.2,381.2C466.2,380.2 465.9,380.1 466,379.5Z" fill="none" stroke="#8ac8cd" stroke-width="1" style="filter:blur(0.5px)" opacity="0.7"/></g>
<ellipse class="nu" cx="454.9" cy="379.9" rx="4.7" ry="3.6" transform="rotate(-8.4 454.9 379.9)"/>
<path class="tb" d="M188.8,526 187.8,526.2 186.8,526.4 185.8,526.6 184.8,526.9 183.8,527.1 182.8,527.3 181.8,527.6 180.8,527.9 179.8,528.2 178.8,528.4 177.9,528.7 177,528.9 176.1,529.1 175.3,529.2 174.5,529.2 173.6,529.2 172.7,529.1 171.8,529 170.8,528.8 169.8,528.7 168.8,528.5 167.8,528.4 166.8,528.2 165.7,528 164.6,527.9 163.3,527.9 162.1,528.1 160.8,528.4 159.7,528.9 158.6,529.5 157.7,530.1 156.8,530.7 156,531.3 155.2,531.8 154.4,532.4 153.6,533 152.7,533.5 151.9,534.1 151.1,534.6 150.3,535.1 149.6,535.4 148.9,535.7 148.2,535.8 147.4,535.9 146.6,535.9 145.7,535.8 144.8,535.7 143.8,535.6 142.9,535.4 142,535.2 141,534.9 140.1,534.7 139.1,534.4 138.1,534.1 137.1,533.8 136,533.6 135,533.4 133.9,533.3 132.9,533.1 131.9,533 130.8,532.9 129.8,532.8 128.7,532.7 127.6,532.6 126.5,532.7 125.3,532.7 124.2,532.9 123,533.3 121.8,533.7 120.8,534.3 119.8,534.9 118.9,535.6 118,536.4 117.2,537.3 116.5,538.2 115.9,539 115.3,539.9 115,540.6 114.9,541.3 115.2,542.1 115.8,542.6 116.5,543 117.3,543 118,542.7 118.5,542.2 119.1,541.4 119.7,540.6 120.3,539.9 120.8,539.3 121.4,538.7 122.1,538.2 122.8,537.7 123.5,537.4 124.3,537.1 125,536.9 125.8,536.7 126.7,536.7 127.6,536.7 128.5,536.7 129.4,536.8 130.4,536.9 131.4,537 132.4,537.1 133.3,537.3 134.3,537.4 135.2,537.6 136.2,537.8 137.1,538 138,538.3 139,538.6 140,538.8 141,539.1 142.1,539.4 143.1,539.6 144.2,539.7 145.3,539.9 146.4,540 147.6,540 148.8,539.9 150,539.6 151.2,539.2 152.3,538.7 153.3,538.1 154.1,537.5 155,536.9 155.8,536.4 156.7,535.8 157.5,535.2 158.4,534.6 159.2,534 160,533.5 160.7,533 161.5,532.6 162.2,532.3 162.9,532.1 163.6,532 164.3,532 165.2,532.1 166.1,532.3 167.1,532.5 168.1,532.6 169.1,532.8 170.1,532.9 171.1,533.1 172.2,533.2 173.3,533.4 174.5,533.4 175.6,533.4 176.8,533.2 177.9,533 179,532.7 180,532.5 181,532.2 181.9,531.9 182.9,531.6 183.8,531.4 184.8,531.2 185.7,531 186.7,530.7 187.7,530.5 188.7,530.3 189.7,530.1 190.4,529.8 191,529.2 191.3,528.5 191.3,527.7 191,526.9 190.4,526.3 189.6,526Z"/>
<path class="tm" d="M188.9,526.3 187.9,526.5 186.9,526.7 185.9,526.9 184.9,527.1 183.9,527.3 182.9,527.6 181.9,527.8 180.8,528.1 179.9,528.4 178.9,528.7 178,528.9 177.1,529.2 176.2,529.3 175.3,529.4 174.5,529.5 173.6,529.4 172.7,529.3 171.7,529.2 170.7,529.1 169.7,528.9 168.7,528.8 167.8,528.6 166.8,528.4 165.7,528.3 164.6,528.1 163.3,528.1 162.1,528.3 160.9,528.6 159.8,529.1 158.8,529.7 157.8,530.2 157,530.9 156.1,531.5 155.3,532 154.5,532.6 153.7,533.1 152.8,533.7 152,534.3 151.2,534.8 150.4,535.3 149.7,535.6 149,535.9 148.2,536.1 147.4,536.1 146.6,536.1 145.7,536.1 144.7,535.9 143.8,535.8 142.9,535.6 141.9,535.4 141,535.1 140,534.9 139.1,534.6 138.1,534.3 137,534.1 136,533.8 134.9,533.6 133.9,533.5 132.9,533.3 131.8,533.2 130.8,533.1 129.8,533 128.7,532.9 127.6,532.9 126.5,532.9 125.4,533 124.2,533.1 123,533.5 121.9,533.9 120.9,534.5 119.9,535.1 119,535.8 118.1,536.6 117.4,537.4 116.7,538.3 116.1,539.1 115.5,540 115.2,540.6 115.2,541.2 115.4,541.9 115.9,542.3 116.5,542.6 117.1,542.6 117.7,542.4 118.2,541.9 118.8,541.1 119.4,540.3 119.9,539.6 120.5,539 121.2,538.4 121.9,537.8 122.6,537.4 123.3,537 124.1,536.7 124.9,536.5 125.8,536.3 126.6,536.3 127.6,536.3 128.5,536.3 129.5,536.4 130.4,536.5 131.4,536.6 132.4,536.7 133.4,536.8 134.4,537 135.3,537.2 136.2,537.4 137.2,537.6 138.1,537.9 139.1,538.2 140.1,538.4 141.1,538.7 142.1,538.9 143.2,539.1 144.2,539.3 145.3,539.5 146.4,539.6 147.6,539.6 148.7,539.5 149.9,539.2 151,538.8 152.1,538.3 153,537.7 153.9,537.1 154.8,536.6 155.6,536 156.4,535.4 157.3,534.9 158.1,534.3 159,533.7 159.7,533.1 160.5,532.6 161.3,532.2 162,531.9 162.8,531.7 163.5,531.6 164.4,531.6 165.3,531.7 166.2,531.9 167.2,532 168.2,532.2 169.2,532.3 170.2,532.5 171.2,532.7 172.2,532.8 173.3,532.9 174.5,533 175.6,532.9 176.7,532.8 177.8,532.6 178.9,532.3 179.9,532 180.9,531.7 181.8,531.5 182.8,531.2 183.7,531 184.7,530.7 185.6,530.5 186.6,530.3 187.6,530.1 188.6,529.9 189.6,529.7 190.2,529.4 190.7,528.9 191,528.3 191,527.6 190.7,527 190.2,526.5 189.6,526.2Z"/>
<path class="tl" d="M189,526.9 188,527.1 187,527.3 186,527.5 185,527.7 184,527.9 183,528.2 182,528.4 181,528.7 180,529 179.1,529.3 178.1,529.6 177.2,529.8 176.3,530 175.4,530.1 174.5,530.1 173.5,530.1 172.6,530 171.6,529.8 170.6,529.7 169.6,529.5 168.6,529.4 167.7,529.2 166.7,529.1 165.6,528.9 164.5,528.8 163.4,528.8 162.2,528.9 161.1,529.2 160.1,529.7 159.1,530.2 158.2,530.8 157.3,531.4 156.5,532 155.7,532.6 154.9,533.1 154,533.7 153.2,534.2 152.4,534.8 151.5,535.3 150.7,535.8 149.9,536.2 149.1,536.5 148.3,536.7 147.4,536.8 146.5,536.8 145.6,536.7 144.6,536.6 143.7,536.4 142.7,536.2 141.8,536 140.8,535.7 139.9,535.5 138.9,535.2 137.9,534.9 136.9,534.7 135.9,534.5 134.8,534.3 133.8,534.1 132.8,534 131.8,533.8 130.7,533.7 129.7,533.6 128.7,533.5 127.6,533.5 126.5,533.5 125.4,533.6 124.3,533.8 123.2,534.1 122.2,534.5 121.2,535 120.3,535.6 119.4,536.3 118.6,537 117.8,537.8 117.2,538.7 116.6,539.5 116,540.3 115.8,540.7 115.8,541.1 115.9,541.5 116.2,541.7 116.6,541.9 117,541.9 117.3,541.8 117.6,541.5 118.2,540.7 118.8,539.9 119.4,539.1 120,538.4 120.7,537.8 121.4,537.2 122.2,536.7 123,536.3 123.9,536 124.8,535.7 125.7,535.6 126.6,535.5 127.6,535.5 128.6,535.6 129.5,535.6 130.5,535.7 131.5,535.8 132.5,536 133.5,536.1 134.5,536.3 135.5,536.4 136.4,536.6 137.4,536.9 138.3,537.2 139.3,537.4 140.3,537.7 141.3,538 142.3,538.2 143.3,538.4 144.3,538.6 145.4,538.7 146.4,538.8 147.5,538.8 148.6,538.7 149.7,538.5 150.7,538.1 151.7,537.6 152.6,537.1 153.5,536.5 154.3,535.9 155.2,535.4 156,534.8 156.9,534.2 157.7,533.6 158.5,533.1 159.3,532.5 160.1,532 161,531.5 161.8,531.2 162.6,531 163.5,530.8 164.4,530.8 165.3,530.9 166.3,531.1 167.3,531.3 168.3,531.4 169.3,531.6 170.3,531.7 171.3,531.9 172.3,532 173.4,532.2 174.5,532.2 175.5,532.2 176.6,532 177.7,531.8 178.7,531.6 179.7,531.3 180.6,531 181.6,530.7 182.6,530.5 183.5,530.2 184.5,530 185.5,529.8 186.5,529.6 187.4,529.4 188.4,529.1 189.4,528.9 189.8,528.8 190.1,528.5 190.2,528.1 190.2,527.7 190.1,527.3 189.8,527 189.4,526.9Z" style="filter:blur(0.4px)"/>
<path class="mb" d="M192.1,530.8 193.2,530.7 194.3,530.6 195.4,530.5 196.5,530.4 197.6,530.3 198.6,530.2 199.7,530.1 200.8,530.1 201.9,530 203,529.9 204.1,529.6 205,528.9 205.5,527.9 205.7,526.8 205.4,525.7 204.7,524.8 203.7,524.2 202.5,524.1 201.5,524.2 200.4,524.3 199.3,524.4 198.2,524.5 197.1,524.5 196,524.6 194.9,524.7 193.8,524.8 192.7,524.9 191.6,525 190.5,525.3 189.6,526 189.1,527 189,528.1 189.3,529.2 190,530.1 191,530.6Z"/>
<path class="ml" d="M192,529.6 193.1,529.5 194.2,529.4 195.3,529.4 196.4,529.3 197.5,529.2 198.6,529.1 199.6,529 200.7,528.9 201.8,528.8 202.9,528.7 203.5,528.6 204,528.2 204.3,527.6 204.4,527 204.2,526.4 203.8,525.9 203.3,525.6 202.7,525.6 201.6,525.6 200.5,525.7 199.4,525.8 198.3,525.9 197.2,526 196.1,526.1 195,526.2 193.9,526.3 192.8,526.4 191.7,526.4 191.1,526.6 190.6,527 190.3,527.5 190.3,528.2 190.4,528.8 190.8,529.2 191.4,529.5Z" style="filter:blur(0.4px)"/>
<clipPath id="m25"><path d="M192.1,530.8 193.2,530.7 194.3,530.6 195.4,530.5 196.5,530.4 197.6,530.3 198.6,530.2 199.7,530.1 200.8,530.1 201.9,530 203,529.9 204.1,529.6 205,528.9 205.5,527.9 205.7,526.8 205.4,525.7 204.7,524.8 203.7,524.2 202.5,524.1 201.5,524.2 200.4,524.3 199.3,524.4 198.2,524.5 197.1,524.5 196,524.6 194.9,524.7 193.8,524.8 192.7,524.9 191.6,525 190.5,525.3 189.6,526 189.1,527 189,528.1 189.3,529.2 190,530.1 191,530.6Z"/></clipPath>
<g clip-path="url(#m25)"><circle cx="202.8" cy="527" r="2.7" fill="#93cfd3" style="filter:blur(1.1px)"/></g>
<clipPath id="c26"><path d="M228.8,524.8C229,524.3 228.9,523.8 228.8,523.4C228.7,522.9 228.5,522.4 228.1,521.9C227.6,521.5 227.2,521.1 226.3,520.6C225.4,520.1 224,519.5 222.6,519C221.2,518.5 219.6,518 218.2,517.7C216.7,517.4 215.4,517.3 214.1,517.1C212.7,517 211.5,516.9 210.3,516.8C209.1,516.8 207.9,516.9 207,517C206.1,517.1 205.6,517.2 205,517.4C204.4,517.6 203.9,517.8 203.5,518.2C203.1,518.5 202.8,519 202.6,519.5C202.4,519.9 202.4,520.4 202.3,521C202.3,521.5 202.3,521.9 202.3,522.5C202.3,523.1 202.2,523.3 202.4,524.4C202.5,525.5 203,528.2 203.1,529.2C203.3,530.2 203.2,530 203.3,530.5C203.4,531 203.5,531.7 203.6,532.3C203.8,532.8 203.9,533.4 204.1,533.9C204.3,534.4 204.5,534.9 204.9,535.2C205.2,535.6 205.8,535.9 206.2,536C206.6,536.2 206.9,536.2 207.5,536.2C208.1,536.2 208.7,536.2 209.6,536C210.4,535.9 211.4,535.8 212.4,535.5C213.3,535.2 214.2,534.8 215.3,534.5C216.3,534.1 217.4,533.9 218.7,533.4C219.9,532.8 221.1,532.4 222.7,531.2C224.2,530.1 227,527.6 228,526.6C229,525.5 228.7,525.3 228.8,524.8Z"/></clipPath>
<path class="hd" d="M228.8,524.8C229,524.3 228.9,523.8 228.8,523.4C228.7,522.9 228.5,522.4 228.1,521.9C227.6,521.5 227.2,521.1 226.3,520.6C225.4,520.1 224,519.5 222.6,519C221.2,518.5 219.6,518 218.2,517.7C216.7,517.4 215.4,517.3 214.1,517.1C212.7,517 211.5,516.9 210.3,516.8C209.1,516.8 207.9,516.9 207,517C206.1,517.1 205.6,517.2 205,517.4C204.4,517.6 203.9,517.8 203.5,518.2C203.1,518.5 202.8,519 202.6,519.5C202.4,519.9 202.4,520.4 202.3,521C202.3,521.5 202.3,521.9 202.3,522.5C202.3,523.1 202.2,523.3 202.4,524.4C202.5,525.5 203,528.2 203.1,529.2C203.3,530.2 203.2,530 203.3,530.5C203.4,531 203.5,531.7 203.6,532.3C203.8,532.8 203.9,533.4 204.1,533.9C204.3,534.4 204.5,534.9 204.9,535.2C205.2,535.6 205.8,535.9 206.2,536C206.6,536.2 206.9,536.2 207.5,536.2C208.1,536.2 208.7,536.2 209.6,536C210.4,535.9 211.4,535.8 212.4,535.5C213.3,535.2 214.2,534.8 215.3,534.5C216.3,534.1 217.4,533.9 218.7,533.4C219.9,532.8 221.1,532.4 222.7,531.2C224.2,530.1 227,527.6 228,526.6C229,525.5 228.7,525.3 228.8,524.8Z"/>
<g clip-path="url(#c26)"><path d="M201.5,516.1 205.7,517.2 206.9,521.3 207.7,526.9 209.7,532.1 215.4,534.6 218.4,538.6 201.7,539Z" fill="#93cfd3" style="filter:blur(1.3px)" opacity="0.8"/>
<path d="M228.8,524.8C229,524.3 228.9,523.8 228.8,523.4C228.7,522.9 228.5,522.4 228.1,521.9C227.6,521.5 227.2,521.1 226.3,520.6C225.4,520.1 224,519.5 222.6,519C221.2,518.5 219.6,518 218.2,517.7C216.7,517.4 215.4,517.3 214.1,517.1C212.7,517 211.5,516.9 210.3,516.8C209.1,516.8 207.9,516.9 207,517C206.1,517.1 205.6,517.2 205,517.4C204.4,517.6 203.9,517.8 203.5,518.2C203.1,518.5 202.8,519 202.6,519.5C202.4,519.9 202.4,520.4 202.3,521C202.3,521.5 202.3,521.9 202.3,522.5C202.3,523.1 202.2,523.3 202.4,524.4C202.5,525.5 203,528.2 203.1,529.2C203.3,530.2 203.2,530 203.3,530.5C203.4,531 203.5,531.7 203.6,532.3C203.8,532.8 203.9,533.4 204.1,533.9C204.3,534.4 204.5,534.9 204.9,535.2C205.2,535.6 205.8,535.9 206.2,536C206.6,536.2 206.9,536.2 207.5,536.2C208.1,536.2 208.7,536.2 209.6,536C210.4,535.9 211.4,535.8 212.4,535.5C213.3,535.2 214.2,534.8 215.3,534.5C216.3,534.1 217.4,533.9 218.7,533.4C219.9,532.8 221.1,532.4 222.7,531.2C224.2,530.1 227,527.6 228,526.6C229,525.5 228.7,525.3 228.8,524.8Z" fill="none" stroke="#8ac8cd" stroke-width="1" style="filter:blur(0.5px)" opacity="0.7"/></g>
<ellipse class="nu" cx="217.8" cy="525.3" rx="4.8" ry="3.6" transform="rotate(-9 217.8 525.3)"/>
<path class="tb" d="M629.6,511 628.6,511.2 627.6,511.4 626.6,511.6 625.6,511.9 624.6,512.1 623.6,512.3 622.6,512.6 621.6,512.9 620.6,513.2 619.6,513.4 618.7,513.7 617.8,513.9 616.9,514.1 616.1,514.2 615.3,514.2 614.4,514.2 613.5,514.1 612.6,514 611.6,513.8 610.6,513.7 609.6,513.5 608.6,513.4 607.6,513.2 606.5,513 605.4,512.9 604.1,512.9 602.9,513.1 601.6,513.4 600.5,513.9 599.4,514.5 598.5,515.1 597.6,515.7 596.8,516.3 596,516.8 595.2,517.4 594.4,518 593.5,518.5 592.7,519.1 591.9,519.6 591.1,520.1 590.4,520.4 589.7,520.7 589,520.8 588.2,520.9 587.4,520.9 586.5,520.8 585.6,520.7 584.6,520.6 583.7,520.4 582.8,520.2 581.8,519.9 580.9,519.7 579.9,519.4 578.9,519.1 577.9,518.8 576.8,518.6 575.8,518.4 574.7,518.3 573.7,518.1 572.7,518 571.6,517.9 570.6,517.8 569.5,517.7 568.4,517.6 567.3,517.7 566.1,517.7 565,517.9 563.8,518.3 562.6,518.7 561.6,519.3 560.6,519.9 559.7,520.6 558.8,521.4 558,522.3 557.3,523.2 556.7,524 556.1,524.9 555.8,525.6 555.7,526.3 556,527.1 556.6,527.6 557.3,528 558.1,528 558.8,527.7 559.3,527.2 559.9,526.4 560.5,525.6 561.1,524.9 561.6,524.3 562.2,523.7 562.9,523.2 563.6,522.7 564.3,522.4 565.1,522.1 565.8,521.9 566.6,521.7 567.5,521.7 568.4,521.7 569.3,521.7 570.2,521.8 571.2,521.9 572.2,522 573.2,522.1 574.1,522.3 575.1,522.4 576,522.6 577,522.8 577.9,523 578.8,523.3 579.8,523.6 580.8,523.8 581.8,524.1 582.9,524.4 583.9,524.6 585,524.7 586.1,524.9 587.2,525 588.4,525 589.6,524.9 590.8,524.6 592,524.2 593.1,523.7 594.1,523.1 594.9,522.5 595.8,521.9 596.6,521.4 597.5,520.8 598.3,520.2 599.2,519.6 600,519 600.8,518.5 601.5,518 602.3,517.6 603,517.3 603.7,517.1 604.4,517 605.1,517 606,517.1 606.9,517.3 607.9,517.5 608.9,517.6 609.9,517.8 610.9,517.9 611.9,518.1 613,518.2 614.1,518.4 615.3,518.4 616.4,518.4 617.6,518.2 618.7,518 619.8,517.7 620.8,517.5 621.8,517.2 622.7,516.9 623.7,516.6 624.6,516.4 625.6,516.2 626.5,516 627.5,515.7 628.5,515.5 629.5,515.3 630.5,515.1 631.2,514.8 631.8,514.2 632.1,513.5 632.1,512.7 631.8,511.9 631.2,511.3 630.4,511Z"/>
<path class="tm" d="M629.7,511.3 628.7,511.5 627.7,511.7 626.7,511.9 625.7,512.1 624.7,512.3 623.7,512.6 622.7,512.8 621.6,513.1 620.7,513.4 619.7,513.7 618.8,513.9 617.9,514.2 617,514.3 616.1,514.4 615.3,514.5 614.4,514.4 613.5,514.3 612.5,514.2 611.5,514.1 610.5,513.9 609.5,513.8 608.6,513.6 607.6,513.4 606.5,513.3 605.4,513.1 604.1,513.1 602.9,513.3 601.7,513.6 600.6,514.1 599.6,514.7 598.6,515.2 597.8,515.9 596.9,516.5 596.1,517 595.3,517.6 594.5,518.1 593.6,518.7 592.8,519.3 592,519.8 591.2,520.3 590.5,520.6 589.8,520.9 589,521.1 588.2,521.1 587.4,521.1 586.5,521.1 585.5,520.9 584.6,520.8 583.7,520.6 582.7,520.4 581.8,520.1 580.8,519.9 579.9,519.6 578.9,519.3 577.8,519.1 576.8,518.8 575.7,518.6 574.7,518.5 573.7,518.3 572.6,518.2 571.6,518.1 570.6,518 569.5,517.9 568.4,517.9 567.3,517.9 566.2,518 565,518.1 563.8,518.5 562.7,518.9 561.7,519.5 560.7,520.1 559.8,520.8 558.9,521.6 558.2,522.4 557.5,523.3 556.9,524.1 556.3,525 556,525.6 556,526.2 556.2,526.9 556.7,527.3 557.3,527.6 557.9,527.6 558.5,527.4 559,526.9 559.6,526.1 560.2,525.3 560.7,524.6 561.3,524 562,523.4 562.7,522.8 563.4,522.4 564.1,522 564.9,521.7 565.7,521.5 566.6,521.3 567.4,521.3 568.4,521.3 569.3,521.3 570.3,521.4 571.2,521.5 572.2,521.6 573.2,521.7 574.2,521.8 575.2,522 576.1,522.2 577,522.4 578,522.6 578.9,522.9 579.9,523.2 580.9,523.4 581.9,523.7 582.9,523.9 584,524.1 585,524.3 586.1,524.5 587.2,524.6 588.4,524.6 589.5,524.5 590.7,524.2 591.8,523.8 592.9,523.3 593.8,522.7 594.7,522.1 595.6,521.6 596.4,521 597.2,520.4 598.1,519.9 598.9,519.3 599.8,518.7 600.5,518.1 601.3,517.6 602.1,517.2 602.8,516.9 603.6,516.7 604.3,516.6 605.2,516.6 606.1,516.7 607,516.9 608,517 609,517.2 610,517.3 611,517.5 612,517.7 613,517.8 614.1,517.9 615.3,518 616.4,517.9 617.5,517.8 618.6,517.6 619.7,517.3 620.7,517 621.7,516.7 622.6,516.5 623.6,516.2 624.5,516 625.5,515.7 626.4,515.5 627.4,515.3 628.4,515.1 629.4,514.9 630.4,514.7 631,514.4 631.5,513.9 631.8,513.3 631.8,512.6 631.5,512 631,511.5 630.4,511.2Z"/>
<path class="tl" d="M629.8,511.9 628.8,512.1 627.8,512.3 626.8,512.5 625.8,512.7 624.8,512.9 623.8,513.2 622.8,513.4 621.8,513.7 620.8,514 619.9,514.3 618.9,514.6 618,514.8 617.1,515 616.2,515.1 615.3,515.1 614.3,515.1 613.4,515 612.4,514.8 611.4,514.7 610.4,514.5 609.4,514.4 608.5,514.2 607.5,514.1 606.4,513.9 605.3,513.8 604.2,513.8 603,513.9 601.9,514.2 600.9,514.7 599.9,515.2 599,515.8 598.1,516.4 597.3,517 596.5,517.6 595.7,518.1 594.8,518.7 594,519.2 593.2,519.8 592.3,520.3 591.5,520.8 590.7,521.2 589.9,521.5 589.1,521.7 588.2,521.8 587.3,521.8 586.4,521.7 585.4,521.6 584.5,521.4 583.5,521.2 582.6,521 581.6,520.7 580.7,520.5 579.7,520.2 578.7,519.9 577.7,519.7 576.7,519.5 575.6,519.3 574.6,519.1 573.6,519 572.6,518.8 571.5,518.7 570.5,518.6 569.5,518.5 568.4,518.5 567.3,518.5 566.2,518.6 565.1,518.8 564,519.1 563,519.5 562,520 561.1,520.6 560.2,521.3 559.4,522 558.6,522.8 558,523.7 557.4,524.5 556.8,525.3 556.6,525.7 556.6,526.1 556.7,526.5 557,526.7 557.4,526.9 557.8,526.9 558.1,526.8 558.4,526.5 559,525.7 559.6,524.9 560.2,524.1 560.8,523.4 561.5,522.8 562.2,522.2 563,521.7 563.8,521.3 564.7,521 565.6,520.7 566.5,520.6 567.4,520.5 568.4,520.5 569.4,520.6 570.3,520.6 571.3,520.7 572.3,520.8 573.3,521 574.3,521.1 575.3,521.3 576.3,521.4 577.2,521.6 578.2,521.9 579.1,522.2 580.1,522.4 581.1,522.7 582.1,523 583.1,523.2 584.1,523.4 585.1,523.6 586.2,523.7 587.2,523.8 588.3,523.8 589.4,523.7 590.5,523.5 591.5,523.1 592.5,522.6 593.4,522.1 594.3,521.5 595.1,520.9 596,520.4 596.8,519.8 597.7,519.2 598.5,518.6 599.3,518.1 600.1,517.5 600.9,517 601.8,516.5 602.6,516.2 603.4,516 604.3,515.8 605.2,515.8 606.1,515.9 607.1,516.1 608.1,516.3 609.1,516.4 610.1,516.6 611.1,516.7 612.1,516.9 613.1,517 614.2,517.2 615.3,517.2 616.3,517.2 617.4,517 618.5,516.8 619.5,516.6 620.5,516.3 621.4,516 622.4,515.7 623.4,515.5 624.3,515.2 625.3,515 626.3,514.8 627.3,514.6 628.2,514.4 629.2,514.1 630.2,513.9 630.6,513.8 630.9,513.5 631,513.1 631,512.7 630.9,512.3 630.6,512 630.2,511.9Z" style="filter:blur(0.4px)"/>
<path class="mb" d="M633,515.6 634.1,515.5 635.1,515.3 636.2,515.2 637.2,515 638.3,514.9 639.3,514.7 640.4,514.6 641.4,514.5 642.5,514.3 643.5,514.2 644.6,514 645.6,513.7 646.5,512.9 647,511.9 647,510.8 646.7,509.7 645.9,508.8 644.9,508.3 643.8,508.3 642.7,508.4 641.7,508.6 640.6,508.7 639.6,508.9 638.5,509 637.5,509.1 636.4,509.3 635.4,509.4 634.3,509.6 633.3,509.7 632.2,509.9 631.2,510.2 630.3,511 629.8,512 629.8,513.1 630.1,514.2 630.9,515 631.9,515.5Z"/>
<path class="ml" d="M632.9,514.5 633.9,514.3 635,514.2 636,514 637.1,513.9 638.1,513.8 639.2,513.6 640.2,513.5 641.3,513.3 642.3,513.2 643.4,513 644.4,512.9 645,512.7 645.5,512.3 645.7,511.7 645.8,511.1 645.6,510.5 645.1,510 644.6,509.8 644,509.7 642.9,509.9 641.9,510 640.8,510.2 639.8,510.3 638.7,510.4 637.7,510.6 636.6,510.7 635.6,510.9 634.5,511 633.5,511.2 632.4,511.3 631.9,511.5 631.4,511.9 631.1,512.5 631.1,513.1 631.3,513.7 631.7,514.2 632.3,514.4Z" style="filter:blur(0.4px)"/>
<clipPath id="m27"><path d="M633,515.6 634.1,515.5 635.1,515.3 636.2,515.2 637.2,515 638.3,514.9 639.3,514.7 640.4,514.6 641.4,514.5 642.5,514.3 643.5,514.2 644.6,514 645.6,513.7 646.5,512.9 647,511.9 647,510.8 646.7,509.7 645.9,508.8 644.9,508.3 643.8,508.3 642.7,508.4 641.7,508.6 640.6,508.7 639.6,508.9 638.5,509 637.5,509.1 636.4,509.3 635.4,509.4 634.3,509.6 633.3,509.7 632.2,509.9 631.2,510.2 630.3,511 629.8,512 629.8,513.1 630.1,514.2 630.9,515 631.9,515.5Z"/></clipPath>
<g clip-path="url(#m27)"><circle cx="644.2" cy="511.2" r="2.6" fill="#93cfd3" style="filter:blur(1.1px)"/></g>
<clipPath id="c28"><path d="M669.8,509.7C669.9,509.2 669.8,508.8 669.7,508.3C669.5,507.9 669.3,507.4 668.9,506.9C668.5,506.5 668.1,506.1 667.2,505.6C666.3,505.1 664.8,504.5 663.5,504C662.1,503.5 660.5,502.9 659.1,502.6C657.7,502.2 656.3,502.1 655,501.9C653.7,501.7 652.5,501.6 651.3,501.5C650.2,501.4 649,501.5 648.1,501.5C647.2,501.6 646.7,501.7 646.1,501.9C645.5,502.1 645.1,502.3 644.7,502.6C644.3,503 644,503.4 643.8,503.8C643.6,504.3 643.6,504.8 643.6,505.3C643.5,505.8 643.6,506.2 643.6,506.8C643.6,507.4 643.5,507.6 643.7,508.6C643.9,509.7 644.4,512.3 644.6,513.3C644.7,514.3 644.7,514.1 644.8,514.6C644.9,515.1 645,515.7 645.1,516.3C645.3,516.8 645.4,517.4 645.6,517.9C645.8,518.4 646.1,518.8 646.4,519.2C646.8,519.5 647.3,519.8 647.7,520C648.2,520.2 648.5,520.2 649,520.2C649.6,520.2 650.2,520.2 651,520.1C651.8,520 652.9,519.9 653.8,519.7C654.7,519.4 655.6,519.1 656.6,518.7C657.7,518.4 658.8,518.2 660,517.8C661.2,517.3 662.3,516.9 663.8,515.8C665.3,514.7 668,512.4 669,511.4C670,510.4 669.6,510.3 669.8,509.7Z"/></clipPath>
<path class="hd" d="M669.8,509.7C669.9,509.2 669.8,508.8 669.7,508.3C669.5,507.9 669.3,507.4 668.9,506.9C668.5,506.5 668.1,506.1 667.2,505.6C666.3,505.1 664.8,504.5 663.5,504C662.1,503.5 660.5,502.9 659.1,502.6C657.7,502.2 656.3,502.1 655,501.9C653.7,501.7 652.5,501.6 651.3,501.5C650.2,501.4 649,501.5 648.1,501.5C647.2,501.6 646.7,501.7 646.1,501.9C645.5,502.1 645.1,502.3 644.7,502.6C644.3,503 644,503.4 643.8,503.8C643.6,504.3 643.6,504.8 643.6,505.3C643.5,505.8 643.6,506.2 643.6,506.8C643.6,507.4 643.5,507.6 643.7,508.6C643.9,509.7 644.4,512.3 644.6,513.3C644.7,514.3 644.7,514.1 644.8,514.6C644.9,515.1 645,515.7 645.1,516.3C645.3,516.8 645.4,517.4 645.6,517.9C645.8,518.4 646.1,518.8 646.4,519.2C646.8,519.5 647.3,519.8 647.7,520C648.2,520.2 648.5,520.2 649,520.2C649.6,520.2 650.2,520.2 651,520.1C651.8,520 652.9,519.9 653.8,519.7C654.7,519.4 655.6,519.1 656.6,518.7C657.7,518.4 658.8,518.2 660,517.8C661.2,517.3 662.3,516.9 663.8,515.8C665.3,514.7 668,512.4 669,511.4C670,510.4 669.6,510.3 669.8,509.7Z"/>
<g clip-path="url(#c28)"><path d="M642.7,500.6 646.8,501.7 648,505.7 649,511.2 651.1,516.3 656.7,518.8 659.8,522.9 643.4,522.8Z" fill="#93cfd3" style="filter:blur(1.3px)" opacity="0.8"/>
<path d="M669.8,509.7C669.9,509.2 669.8,508.8 669.7,508.3C669.5,507.9 669.3,507.4 668.9,506.9C668.5,506.5 668.1,506.1 667.2,505.6C666.3,505.1 664.8,504.5 663.5,504C662.1,503.5 660.5,502.9 659.1,502.6C657.7,502.2 656.3,502.1 655,501.9C653.7,501.7 652.5,501.6 651.3,501.5C650.2,501.4 649,501.5 648.1,501.5C647.2,501.6 646.7,501.7 646.1,501.9C645.5,502.1 645.1,502.3 644.7,502.6C644.3,503 644,503.4 643.8,503.8C643.6,504.3 643.6,504.8 643.6,505.3C643.5,505.8 643.6,506.2 643.6,506.8C643.6,507.4 643.5,507.6 643.7,508.6C643.9,509.7 644.4,512.3 644.6,513.3C644.7,514.3 644.7,514.1 644.8,514.6C644.9,515.1 645,515.7 645.1,516.3C645.3,516.8 645.4,517.4 645.6,517.9C645.8,518.4 646.1,518.8 646.4,519.2C646.8,519.5 647.3,519.8 647.7,520C648.2,520.2 648.5,520.2 649,520.2C649.6,520.2 650.2,520.2 651,520.1C651.8,520 652.9,519.9 653.8,519.7C654.7,519.4 655.6,519.1 656.6,518.7C657.7,518.4 658.8,518.2 660,517.8C661.2,517.3 662.3,516.9 663.8,515.8C665.3,514.7 668,512.4 669,511.4C670,510.4 669.6,510.3 669.8,509.7Z" fill="none" stroke="#8ac8cd" stroke-width="1" style="filter:blur(0.5px)" opacity="0.7"/></g>
<ellipse class="nu" cx="658.9" cy="509.9" rx="4.7" ry="3.6" transform="rotate(-8.9 658.9 509.9)"/>
<path class="tb" d="M159.8,659.1 158.8,659.3 157.8,659.5 156.8,659.7 155.8,660 154.8,660.2 153.8,660.4 152.8,660.7 151.8,661 150.8,661.3 149.8,661.5 148.9,661.8 148,662 147.1,662.2 146.3,662.3 145.5,662.3 144.6,662.3 143.7,662.2 142.8,662.1 141.8,661.9 140.8,661.8 139.8,661.6 138.8,661.5 137.8,661.3 136.7,661.1 135.6,661 134.3,661 133.1,661.2 131.8,661.5 130.7,662 129.6,662.6 128.7,663.2 127.8,663.8 127,664.4 126.2,664.9 125.4,665.5 124.6,666.1 123.7,666.6 122.9,667.2 122.1,667.7 121.3,668.2 120.6,668.5 119.9,668.8 119.2,668.9 118.4,669 117.6,669 116.7,668.9 115.8,668.8 114.8,668.7 113.9,668.5 113,668.3 112,668 111.1,667.8 110.1,667.5 109.1,667.2 108.1,666.9 107,666.7 106,666.5 104.9,666.4 103.9,666.2 102.9,666.1 101.8,666 100.8,665.9 99.7,665.8 98.6,665.7 97.5,665.8 96.3,665.8 95.2,666 94,666.4 92.8,666.8 91.8,667.4 90.8,668 89.9,668.7 89,669.5 88.2,670.4 87.5,671.3 86.9,672.1 86.3,673 86,673.7 85.9,674.4 86.2,675.2 86.8,675.7 87.5,676.1 88.3,676.1 89,675.8 89.5,675.3 90.1,674.5 90.7,673.7 91.3,673 91.8,672.4 92.4,671.8 93.1,671.3 93.8,670.8 94.5,670.5 95.3,670.2 96,670 96.8,669.8 97.7,669.8 98.6,669.8 99.5,669.8 100.4,669.9 101.4,670 102.4,670.1 103.4,670.2 104.3,670.4 105.3,670.5 106.2,670.7 107.2,670.9 108.1,671.1 109,671.4 110,671.7 111,671.9 112,672.2 113.1,672.5 114.1,672.7 115.2,672.8 116.3,673 117.4,673.1 118.6,673.1 119.8,673 121,672.7 122.2,672.3 123.3,671.8 124.3,671.2 125.1,670.6 126,670 126.8,669.5 127.7,668.9 128.5,668.3 129.4,667.7 130.2,667.1 131,666.6 131.7,666.1 132.5,665.7 133.2,665.4 133.9,665.2 134.6,665.1 135.3,665.1 136.2,665.2 137.1,665.4 138.1,665.6 139.1,665.7 140.1,665.9 141.1,666 142.1,666.2 143.2,666.3 144.3,666.5 145.5,666.5 146.6,666.5 147.8,666.3 148.9,666.1 150,665.8 151,665.6 152,665.3 152.9,665 153.9,664.7 154.8,664.5 155.8,664.3 156.7,664.1 157.7,663.8 158.7,663.6 159.7,663.4 160.7,663.2 161.4,662.9 162,662.3 162.3,661.6 162.3,660.8 162,660 161.4,659.4 160.6,659.1Z"/>
<path class="tm" d="M159.9,659.4 158.9,659.6 157.9,659.8 156.9,660 155.9,660.2 154.9,660.4 153.9,660.7 152.9,660.9 151.8,661.2 150.9,661.5 149.9,661.8 149,662 148.1,662.3 147.2,662.4 146.3,662.5 145.5,662.6 144.6,662.5 143.7,662.4 142.7,662.3 141.7,662.2 140.7,662 139.7,661.9 138.8,661.7 137.8,661.5 136.7,661.4 135.6,661.2 134.3,661.2 133.1,661.4 131.9,661.7 130.8,662.2 129.8,662.8 128.8,663.3 128,664 127.1,664.6 126.3,665.1 125.5,665.7 124.7,666.2 123.8,666.8 123,667.4 122.2,667.9 121.4,668.4 120.7,668.7 120,669 119.2,669.2 118.4,669.2 117.6,669.2 116.7,669.2 115.7,669 114.8,668.9 113.9,668.7 112.9,668.5 112,668.2 111,668 110.1,667.7 109.1,667.4 108,667.2 107,666.9 105.9,666.7 104.9,666.6 103.9,666.4 102.8,666.3 101.8,666.2 100.8,666.1 99.7,666 98.6,666 97.5,666 96.4,666.1 95.2,666.2 94,666.6 92.9,667 91.9,667.6 90.9,668.2 90,668.9 89.1,669.7 88.4,670.5 87.7,671.4 87.1,672.2 86.5,673.1 86.2,673.7 86.2,674.3 86.4,675 86.9,675.4 87.5,675.7 88.1,675.7 88.7,675.5 89.2,675 89.8,674.2 90.4,673.4 90.9,672.7 91.5,672.1 92.2,671.5 92.9,670.9 93.6,670.5 94.3,670.1 95.1,669.8 95.9,669.6 96.8,669.4 97.6,669.4 98.6,669.4 99.5,669.4 100.5,669.5 101.4,669.6 102.4,669.7 103.4,669.8 104.4,669.9 105.4,670.1 106.3,670.3 107.2,670.5 108.2,670.7 109.1,671 110.1,671.3 111.1,671.5 112.1,671.8 113.1,672 114.2,672.2 115.2,672.4 116.3,672.6 117.4,672.7 118.6,672.7 119.7,672.6 120.9,672.3 122,671.9 123.1,671.4 124,670.8 124.9,670.2 125.8,669.7 126.6,669.1 127.4,668.5 128.3,668 129.1,667.4 130,666.8 130.7,666.2 131.5,665.7 132.3,665.3 133,665 133.8,664.8 134.5,664.7 135.4,664.7 136.3,664.8 137.2,665 138.2,665.1 139.2,665.3 140.2,665.4 141.2,665.6 142.2,665.8 143.2,665.9 144.3,666 145.5,666.1 146.6,666 147.7,665.9 148.8,665.7 149.9,665.4 150.9,665.1 151.9,664.8 152.8,664.6 153.8,664.3 154.7,664.1 155.7,663.8 156.6,663.6 157.6,663.4 158.6,663.2 159.6,663 160.6,662.8 161.2,662.5 161.7,662 162,661.4 162,660.7 161.7,660.1 161.2,659.6 160.6,659.3Z"/>
<path class="tl" d="M160,660 159,660.2 158,660.4 157,660.6 156,660.8 155,661 154,661.3 153,661.5 152,661.8 151,662.1 150.1,662.4 149.1,662.7 148.2,662.9 147.3,663.1 146.4,663.2 145.5,663.2 144.5,663.2 143.6,663.1 142.6,662.9 141.6,662.8 140.6,662.6 139.6,662.5 138.7,662.3 137.7,662.2 136.6,662 135.5,661.9 134.4,661.9 133.2,662 132.1,662.3 131.1,662.8 130.1,663.3 129.2,663.9 128.3,664.5 127.5,665.1 126.7,665.7 125.9,666.2 125,666.8 124.2,667.3 123.4,667.9 122.5,668.4 121.7,668.9 120.9,669.3 120.1,669.6 119.3,669.8 118.4,669.9 117.5,669.9 116.6,669.8 115.6,669.7 114.7,669.5 113.7,669.3 112.8,669.1 111.8,668.8 110.9,668.6 109.9,668.3 108.9,668 107.9,667.8 106.9,667.6 105.8,667.4 104.8,667.2 103.8,667.1 102.8,666.9 101.7,666.8 100.7,666.7 99.7,666.6 98.6,666.6 97.5,666.6 96.4,666.7 95.3,666.9 94.2,667.2 93.2,667.6 92.2,668.1 91.3,668.7 90.4,669.4 89.6,670.1 88.8,670.9 88.2,671.8 87.6,672.6 87,673.4 86.8,673.8 86.8,674.2 86.9,674.6 87.2,674.8 87.6,675 88,675 88.3,674.9 88.6,674.6 89.2,673.8 89.8,673 90.4,672.2 91,671.5 91.7,670.9 92.4,670.3 93.2,669.8 94,669.4 94.9,669.1 95.8,668.8 96.7,668.7 97.6,668.6 98.6,668.6 99.6,668.7 100.5,668.7 101.5,668.8 102.5,668.9 103.5,669.1 104.5,669.2 105.5,669.4 106.5,669.5 107.4,669.7 108.4,670 109.3,670.3 110.3,670.5 111.3,670.8 112.3,671.1 113.3,671.3 114.3,671.5 115.3,671.7 116.4,671.8 117.4,671.9 118.5,671.9 119.6,671.8 120.7,671.6 121.7,671.2 122.7,670.7 123.6,670.2 124.5,669.6 125.3,669 126.2,668.5 127,667.9 127.9,667.3 128.7,666.7 129.5,666.2 130.3,665.6 131.1,665.1 132,664.6 132.8,664.3 133.6,664.1 134.5,663.9 135.4,663.9 136.3,664 137.3,664.2 138.3,664.4 139.3,664.5 140.3,664.7 141.3,664.8 142.3,665 143.3,665.1 144.4,665.3 145.5,665.3 146.5,665.3 147.6,665.1 148.7,664.9 149.7,664.7 150.7,664.4 151.6,664.1 152.6,663.8 153.6,663.6 154.5,663.3 155.5,663.1 156.5,662.9 157.5,662.7 158.4,662.5 159.4,662.2 160.4,662 160.8,661.9 161.1,661.6 161.2,661.2 161.2,660.8 161.1,660.4 160.8,660.1 160.4,660Z" style="filter:blur(0.4px)"/>
<path class="mb" d="M163.2,663.7 164.3,663.6 165.3,663.4 166.4,663.3 167.4,663.2 168.5,663 169.6,662.9 170.6,662.7 171.7,662.6 172.7,662.5 173.8,662.3 174.8,662.2 175.9,661.8 176.8,661.1 177.2,660 177.3,658.9 177,657.8 176.2,657 175.2,656.5 174.1,656.4 173,656.6 172,656.7 170.9,656.8 169.8,657 168.8,657.1 167.7,657.3 166.7,657.4 165.6,657.5 164.6,657.7 163.5,657.8 162.5,658 161.4,658.3 160.5,659.1 160,660.1 160,661.2 160.3,662.3 161.1,663.1 162.1,663.6Z"/>
<path class="ml" d="M163.1,662.6 164.1,662.4 165.2,662.3 166.2,662.2 167.3,662 168.3,661.9 169.4,661.7 170.5,661.6 171.5,661.5 172.6,661.3 173.6,661.2 174.7,661 175.3,660.8 175.7,660.4 176,659.9 176.1,659.2 175.8,658.7 175.4,658.2 174.9,657.9 174.3,657.9 173.2,658 172.1,658.2 171.1,658.3 170,658.4 169,658.6 167.9,658.7 166.9,658.9 165.8,659 164.8,659.1 163.7,659.3 162.6,659.4 162.1,659.6 161.6,660 161.3,660.6 161.3,661.2 161.5,661.8 161.9,662.3 162.4,662.5Z" style="filter:blur(0.4px)"/>
<clipPath id="m29"><path d="M163.2,663.7 164.3,663.6 165.3,663.4 166.4,663.3 167.4,663.2 168.5,663 169.6,662.9 170.6,662.7 171.7,662.6 172.7,662.5 173.8,662.3 174.8,662.2 175.9,661.8 176.8,661.1 177.2,660 177.3,658.9 177,657.8 176.2,657 175.2,656.5 174.1,656.4 173,656.6 172,656.7 170.9,656.8 169.8,657 168.8,657.1 167.7,657.3 166.7,657.4 165.6,657.5 164.6,657.7 163.5,657.8 162.5,658 161.4,658.3 160.5,659.1 160,660.1 160,661.2 160.3,662.3 161.1,663.1 162.1,663.6Z"/></clipPath>
<g clip-path="url(#m29)"><circle cx="174.4" cy="659.3" r="2.6" fill="#93cfd3" style="filter:blur(1.1px)"/></g>
<clipPath id="c30"><path d="M200.1,658.2C200.2,657.7 200.2,657.3 200,656.8C199.9,656.4 199.7,655.9 199.3,655.4C198.9,655 198.5,654.6 197.6,654C196.7,653.5 195.3,652.9 194,652.4C192.6,651.9 191,651.3 189.6,651C188.2,650.6 186.9,650.4 185.6,650.2C184.3,650 183,649.9 181.9,649.8C180.7,649.7 179.5,649.7 178.7,649.8C177.8,649.8 177.2,649.9 176.7,650.1C176.1,650.3 175.6,650.5 175.2,650.8C174.8,651.1 174.5,651.6 174.3,652C174.1,652.4 174.1,652.9 174,653.4C174,653.9 174,654.4 174,654.9C174,655.5 173.9,655.7 174.1,656.8C174.2,657.9 174.6,660.5 174.8,661.4C174.9,662.4 174.9,662.2 175,662.7C175.1,663.2 175.1,663.9 175.3,664.4C175.4,665 175.5,665.6 175.7,666C175.9,666.5 176.1,667 176.5,667.3C176.8,667.7 177.3,668 177.8,668.2C178.2,668.4 178.5,668.4 179,668.4C179.6,668.4 180.3,668.4 181.1,668.3C181.9,668.3 182.9,668.2 183.8,667.9C184.8,667.7 185.6,667.3 186.7,667C187.7,666.7 188.8,666.6 190,666.1C191.2,665.6 192.4,665.2 194,664.2C195.5,663.2 198.2,660.9 199.2,659.9C200.2,658.9 199.9,658.8 200.1,658.2Z"/></clipPath>
<path class="hd" d="M200.1,658.2C200.2,657.7 200.2,657.3 200,656.8C199.9,656.4 199.7,655.9 199.3,655.4C198.9,655 198.5,654.6 197.6,654C196.7,653.5 195.3,652.9 194,652.4C192.6,651.9 191,651.3 189.6,651C188.2,650.6 186.9,650.4 185.6,650.2C184.3,650 183,649.9 181.9,649.8C180.7,649.7 179.5,649.7 178.7,649.8C177.8,649.8 177.2,649.9 176.7,650.1C176.1,650.3 175.6,650.5 175.2,650.8C174.8,651.1 174.5,651.6 174.3,652C174.1,652.4 174.1,652.9 174,653.4C174,653.9 174,654.4 174,654.9C174,655.5 173.9,655.7 174.1,656.8C174.2,657.9 174.6,660.5 174.8,661.4C174.9,662.4 174.9,662.2 175,662.7C175.1,663.2 175.1,663.9 175.3,664.4C175.4,665 175.5,665.6 175.7,666C175.9,666.5 176.1,667 176.5,667.3C176.8,667.7 177.3,668 177.8,668.2C178.2,668.4 178.5,668.4 179,668.4C179.6,668.4 180.3,668.4 181.1,668.3C181.9,668.3 182.9,668.2 183.8,667.9C184.8,667.7 185.6,667.3 186.7,667C187.7,666.7 188.8,666.6 190,666.1C191.2,665.6 192.4,665.2 194,664.2C195.5,663.2 198.2,660.9 199.2,659.9C200.2,658.9 199.9,658.8 200.1,658.2Z"/>
<g clip-path="url(#c30)"><path d="M173.3,648.8 177.3,649.9 178.5,653.9 179.3,659.4 181.2,664.5 186.8,667.1 189.7,671.2 173.4,670.9Z" fill="#93cfd3" style="filter:blur(1.3px)" opacity="0.8"/>
<path d="M200.1,658.2C200.2,657.7 200.2,657.3 200,656.8C199.9,656.4 199.7,655.9 199.3,655.4C198.9,655 198.5,654.6 197.6,654C196.7,653.5 195.3,652.9 194,652.4C192.6,651.9 191,651.3 189.6,651C188.2,650.6 186.9,650.4 185.6,650.2C184.3,650 183,649.9 181.9,649.8C180.7,649.7 179.5,649.7 178.7,649.8C177.8,649.8 177.2,649.9 176.7,650.1C176.1,650.3 175.6,650.5 175.2,650.8C174.8,651.1 174.5,651.6 174.3,652C174.1,652.4 174.1,652.9 174,653.4C174,653.9 174,654.4 174,654.9C174,655.5 173.9,655.7 174.1,656.8C174.2,657.9 174.6,660.5 174.8,661.4C174.9,662.4 174.9,662.2 175,662.7C175.1,663.2 175.1,663.9 175.3,664.4C175.4,665 175.5,665.6 175.7,666C175.9,666.5 176.1,667 176.5,667.3C176.8,667.7 177.3,668 177.8,668.2C178.2,668.4 178.5,668.4 179,668.4C179.6,668.4 180.3,668.4 181.1,668.3C181.9,668.3 182.9,668.2 183.8,667.9C184.8,667.7 185.6,667.3 186.7,667C187.7,666.7 188.8,666.6 190,666.1C191.2,665.6 192.4,665.2 194,664.2C195.5,663.2 198.2,660.9 199.2,659.9C200.2,658.9 199.9,658.8 200.1,658.2Z" fill="none" stroke="#8ac8cd" stroke-width="1" style="filter:blur(0.5px)" opacity="0.7"/></g>
<ellipse class="nu" cx="189.2" cy="658.3" rx="4.7" ry="3.5" transform="rotate(-7.6 189.2 658.3)"/>
<path class="tb" d="M961.9,406.5 960.9,406.7 959.9,406.9 958.9,407.1 957.9,407.4 956.9,407.6 955.9,407.8 954.9,408.1 953.9,408.4 952.9,408.7 951.9,408.9 951,409.2 950.1,409.4 949.2,409.6 948.4,409.7 947.6,409.7 946.7,409.7 945.8,409.6 944.9,409.5 943.9,409.3 942.9,409.2 941.9,409 940.9,408.9 939.9,408.7 938.8,408.5 937.7,408.4 936.4,408.4 935.2,408.6 933.9,408.9 932.8,409.4 931.7,410 930.8,410.6 929.9,411.2 929.1,411.8 928.3,412.3 927.5,412.9 926.7,413.5 925.8,414 925,414.6 924.2,415.1 923.4,415.6 922.7,415.9 922,416.2 921.3,416.3 920.5,416.4 919.7,416.4 918.8,416.3 917.9,416.2 916.9,416.1 916,415.9 915.1,415.7 914.1,415.4 913.2,415.2 912.2,414.9 911.2,414.6 910.2,414.3 909.1,414.1 908.1,413.9 907,413.8 906,413.6 905,413.5 903.9,413.4 902.9,413.3 901.8,413.2 900.7,413.1 899.6,413.2 898.4,413.2 897.3,413.4 896.1,413.8 894.9,414.2 893.9,414.8 892.9,415.4 892,416.1 891.1,416.9 890.3,417.8 889.6,418.7 889,419.5 888.4,420.4 888.1,421.1 888,421.8 888.3,422.6 888.9,423.1 889.6,423.5 890.4,423.5 891.1,423.2 891.6,422.7 892.2,421.9 892.8,421.1 893.4,420.4 893.9,419.8 894.5,419.2 895.2,418.7 895.9,418.2 896.6,417.9 897.4,417.6 898.1,417.4 898.9,417.2 899.8,417.2 900.7,417.2 901.6,417.2 902.5,417.3 903.5,417.4 904.5,417.5 905.5,417.6 906.4,417.8 907.4,417.9 908.3,418.1 909.3,418.3 910.2,418.5 911.1,418.8 912.1,419.1 913.1,419.3 914.1,419.6 915.2,419.9 916.2,420.1 917.3,420.2 918.4,420.4 919.5,420.5 920.7,420.5 921.9,420.4 923.1,420.1 924.3,419.7 925.4,419.2 926.4,418.6 927.2,418 928.1,417.4 928.9,416.9 929.8,416.3 930.6,415.7 931.5,415.1 932.3,414.5 933.1,414 933.8,413.5 934.6,413.1 935.3,412.8 936,412.6 936.7,412.5 937.4,412.5 938.3,412.6 939.2,412.8 940.2,413 941.2,413.1 942.2,413.3 943.2,413.4 944.2,413.6 945.3,413.7 946.4,413.9 947.6,413.9 948.7,413.9 949.9,413.7 951,413.5 952.1,413.2 953.1,413 954.1,412.7 955,412.4 956,412.1 956.9,411.9 957.9,411.7 958.8,411.5 959.8,411.2 960.8,411 961.8,410.8 962.8,410.6 963.5,410.3 964.1,409.7 964.4,409 964.4,408.2 964.1,407.4 963.5,406.8 962.7,406.5Z"/>
<path class="tm" d="M962,406.8 961,407 960,407.2 959,407.4 958,407.6 957,407.8 956,408.1 955,408.3 953.9,408.6 953,408.9 952,409.2 951.1,409.4 950.2,409.7 949.3,409.8 948.4,409.9 947.6,410 946.7,409.9 945.8,409.8 944.8,409.7 943.8,409.6 942.8,409.4 941.8,409.3 940.9,409.1 939.9,408.9 938.8,408.8 937.7,408.6 936.4,408.6 935.2,408.8 934,409.1 932.9,409.6 931.9,410.2 930.9,410.7 930.1,411.4 929.2,412 928.4,412.5 927.6,413.1 926.8,413.6 925.9,414.2 925.1,414.8 924.3,415.3 923.5,415.8 922.8,416.1 922.1,416.4 921.3,416.6 920.5,416.6 919.7,416.6 918.8,416.6 917.8,416.4 916.9,416.3 916,416.1 915,415.9 914.1,415.6 913.1,415.4 912.2,415.1 911.2,414.8 910.1,414.6 909.1,414.3 908,414.1 907,414 906,413.8 904.9,413.7 903.9,413.6 902.9,413.5 901.8,413.4 900.7,413.4 899.6,413.4 898.5,413.5 897.3,413.6 896.1,414 895,414.4 894,415 893,415.6 892.1,416.3 891.2,417.1 890.5,417.9 889.8,418.8 889.2,419.6 888.6,420.5 888.3,421.1 888.3,421.7 888.5,422.4 889,422.8 889.6,423.1 890.2,423.1 890.8,422.9 891.3,422.4 891.9,421.6 892.5,420.8 893,420.1 893.6,419.5 894.3,418.9 895,418.3 895.7,417.9 896.4,417.5 897.2,417.2 898,417 898.9,416.8 899.7,416.8 900.7,416.8 901.6,416.8 902.6,416.9 903.5,417 904.5,417.1 905.5,417.2 906.5,417.3 907.5,417.5 908.4,417.7 909.3,417.9 910.3,418.1 911.2,418.4 912.2,418.7 913.2,418.9 914.2,419.2 915.2,419.4 916.3,419.6 917.3,419.8 918.4,420 919.5,420.1 920.7,420.1 921.8,420 923,419.7 924.1,419.3 925.2,418.8 926.1,418.2 927,417.6 927.9,417.1 928.7,416.5 929.5,415.9 930.4,415.4 931.2,414.8 932.1,414.2 932.8,413.6 933.6,413.1 934.4,412.7 935.1,412.4 935.9,412.2 936.6,412.1 937.5,412.1 938.4,412.2 939.3,412.4 940.3,412.5 941.3,412.7 942.3,412.8 943.3,413 944.3,413.2 945.3,413.3 946.4,413.4 947.6,413.5 948.7,413.4 949.8,413.3 950.9,413.1 952,412.8 953,412.5 954,412.2 954.9,412 955.9,411.7 956.8,411.5 957.8,411.2 958.7,411 959.7,410.8 960.7,410.6 961.7,410.4 962.7,410.2 963.3,409.9 963.8,409.4 964.1,408.8 964.1,408.1 963.8,407.5 963.3,407 962.7,406.7Z"/>
<path class="tl" d="M962.1,407.4 961.1,407.6 960.1,407.8 959.1,408 958.1,408.2 957.1,408.4 956.1,408.7 955.1,408.9 954.1,409.2 953.1,409.5 952.2,409.8 951.2,410.1 950.3,410.3 949.4,410.5 948.5,410.6 947.6,410.6 946.6,410.6 945.7,410.5 944.7,410.3 943.7,410.2 942.7,410 941.7,409.9 940.8,409.7 939.8,409.6 938.7,409.4 937.6,409.3 936.5,409.3 935.3,409.4 934.2,409.7 933.2,410.2 932.2,410.7 931.3,411.3 930.4,411.9 929.6,412.5 928.8,413.1 928,413.6 927.1,414.2 926.3,414.7 925.5,415.3 924.6,415.8 923.8,416.3 923,416.7 922.2,417 921.4,417.2 920.5,417.3 919.6,417.3 918.7,417.2 917.7,417.1 916.8,416.9 915.8,416.7 914.9,416.5 913.9,416.2 913,416 912,415.7 911,415.4 910,415.2 909,415 907.9,414.8 906.9,414.6 905.9,414.5 904.9,414.3 903.8,414.2 902.8,414.1 901.8,414 900.7,414 899.6,414 898.5,414.1 897.4,414.3 896.3,414.6 895.3,415 894.3,415.5 893.4,416.1 892.5,416.8 891.7,417.5 890.9,418.3 890.3,419.2 889.7,420 889.1,420.8 888.9,421.2 888.9,421.6 889,422 889.3,422.2 889.7,422.4 890.1,422.4 890.4,422.3 890.7,422 891.3,421.2 891.9,420.4 892.5,419.6 893.1,418.9 893.8,418.3 894.5,417.7 895.3,417.2 896.1,416.8 897,416.5 897.9,416.2 898.8,416.1 899.7,416 900.7,416 901.7,416.1 902.6,416.1 903.6,416.2 904.6,416.3 905.6,416.5 906.6,416.6 907.6,416.8 908.6,416.9 909.5,417.1 910.5,417.4 911.4,417.7 912.4,417.9 913.4,418.2 914.4,418.5 915.4,418.7 916.4,418.9 917.4,419.1 918.5,419.2 919.5,419.3 920.6,419.3 921.7,419.2 922.8,419 923.8,418.6 924.8,418.1 925.7,417.6 926.6,417 927.4,416.4 928.3,415.9 929.1,415.3 930,414.7 930.8,414.1 931.6,413.6 932.4,413 933.2,412.5 934.1,412 934.9,411.7 935.7,411.5 936.6,411.3 937.5,411.3 938.4,411.4 939.4,411.6 940.4,411.8 941.4,411.9 942.4,412.1 943.4,412.2 944.4,412.4 945.4,412.5 946.5,412.7 947.6,412.7 948.6,412.7 949.7,412.5 950.8,412.3 951.8,412.1 952.8,411.8 953.7,411.5 954.7,411.2 955.7,411 956.6,410.7 957.6,410.5 958.6,410.3 959.6,410.1 960.5,409.9 961.5,409.6 962.5,409.4 962.9,409.3 963.2,409 963.3,408.6 963.3,408.2 963.2,407.8 962.9,407.5 962.5,407.4Z" style="filter:blur(0.4px)"/>
<path class="mb" d="M965.3,411.2 966.3,411.1 967.3,411 968.3,410.8 969.3,410.7 970.3,410.6 971.3,410.5 972.4,410.4 973.4,410.3 974.4,410.2 975.4,410.1 976.4,409.9 977.5,409.6 978.4,408.9 978.9,407.9 979,406.7 978.6,405.7 977.9,404.8 976.9,404.3 975.8,404.2 974.8,404.3 973.8,404.4 972.7,404.5 971.7,404.6 970.7,404.7 969.7,404.9 968.7,405 967.7,405.1 966.7,405.2 965.6,405.3 964.6,405.4 963.5,405.8 962.7,406.5 962.2,407.5 962.1,408.6 962.4,409.7 963.1,410.6 964.1,411.1Z"/>
<path class="ml" d="M965.1,410 966.2,409.9 967.2,409.8 968.2,409.7 969.2,409.6 970.2,409.5 971.2,409.4 972.2,409.3 973.3,409.1 974.3,409 975.3,408.9 976.3,408.8 976.9,408.6 977.4,408.2 977.7,407.7 977.7,407 977.5,406.4 977.1,406 976.6,405.7 975.9,405.6 974.9,405.7 973.9,405.9 972.9,406 971.9,406.1 970.9,406.2 969.9,406.3 968.8,406.4 967.8,406.5 966.8,406.6 965.8,406.8 964.8,406.9 964.2,407.1 963.7,407.5 963.4,408 963.4,408.6 963.6,409.2 964,409.7 964.5,410Z" style="filter:blur(0.4px)"/>
<clipPath id="m31"><path d="M965.3,411.2 966.3,411.1 967.3,411 968.3,410.8 969.3,410.7 970.3,410.6 971.3,410.5 972.4,410.4 973.4,410.3 974.4,410.2 975.4,410.1 976.4,409.9 977.5,409.6 978.4,408.9 978.9,407.9 979,406.7 978.6,405.7 977.9,404.8 976.9,404.3 975.8,404.2 974.8,404.3 973.8,404.4 972.7,404.5 971.7,404.6 970.7,404.7 969.7,404.9 968.7,405 967.7,405.1 966.7,405.2 965.6,405.3 964.6,405.4 963.5,405.8 962.7,406.5 962.2,407.5 962.1,408.6 962.4,409.7 963.1,410.6 964.1,411.1Z"/></clipPath>
<g clip-path="url(#m31)"><circle cx="976.1" cy="407.1" r="2.7" fill="#93cfd3" style="filter:blur(1.1px)"/></g>
<clipPath id="c32"><path d="M1002,405.6C1002.1,405.1 1002.1,404.6 1002,404.1C1001.9,403.7 1001.7,403.2 1001.3,402.7C1000.9,402.2 1000.5,401.8 999.6,401.3C998.7,400.8 997.3,400.2 996,399.6C994.7,399.1 993,398.6 991.6,398.2C990.2,397.9 988.9,397.7 987.6,397.5C986.3,397.4 985,397.2 983.9,397.1C982.7,397.1 981.5,397.1 980.6,397.2C979.8,397.2 979.2,397.3 978.6,397.5C978,397.7 977.5,398 977.1,398.3C976.7,398.6 976.4,399.1 976.2,399.5C976,400 975.9,400.5 975.8,401C975.8,401.5 975.8,402 975.8,402.6C975.8,403.2 975.7,403.4 975.8,404.5C975.9,405.6 976.2,408.2 976.4,409.3C976.5,410.3 976.5,410.1 976.5,410.6C976.6,411.1 976.7,411.8 976.8,412.3C976.9,412.9 977,413.5 977.2,414C977.4,414.5 977.6,415 977.9,415.3C978.2,415.7 978.8,416 979.2,416.2C979.6,416.3 979.9,416.3 980.5,416.4C981,416.4 981.7,416.4 982.5,416.3C983.3,416.2 984.4,416 985.3,415.8C986.3,415.6 987.2,415.2 988.2,414.8C989.3,414.5 990.4,414.3 991.6,413.8C992.9,413.3 994.1,412.9 995.7,411.8C997.2,410.7 1000,408.4 1001.1,407.3C1002.1,406.3 1001.8,406.1 1002,405.6Z"/></clipPath>
<path class="hd" d="M1002,405.6C1002.1,405.1 1002.1,404.6 1002,404.1C1001.9,403.7 1001.7,403.2 1001.3,402.7C1000.9,402.2 1000.5,401.8 999.6,401.3C998.7,400.8 997.3,400.2 996,399.6C994.7,399.1 993,398.6 991.6,398.2C990.2,397.9 988.9,397.7 987.6,397.5C986.3,397.4 985,397.2 983.9,397.1C982.7,397.1 981.5,397.1 980.6,397.2C979.8,397.2 979.2,397.3 978.6,397.5C978,397.7 977.5,398 977.1,398.3C976.7,398.6 976.4,399.1 976.2,399.5C976,400 975.9,400.5 975.8,401C975.8,401.5 975.8,402 975.8,402.6C975.8,403.2 975.7,403.4 975.8,404.5C975.9,405.6 976.2,408.2 976.4,409.3C976.5,410.3 976.5,410.1 976.5,410.6C976.6,411.1 976.7,411.8 976.8,412.3C976.9,412.9 977,413.5 977.2,414C977.4,414.5 977.6,415 977.9,415.3C978.2,415.7 978.8,416 979.2,416.2C979.6,416.3 979.9,416.3 980.5,416.4C981,416.4 981.7,416.4 982.5,416.3C983.3,416.2 984.4,416 985.3,415.8C986.3,415.6 987.2,415.2 988.2,414.8C989.3,414.5 990.4,414.3 991.6,413.8C992.9,413.3 994.1,412.9 995.7,411.8C997.2,410.7 1000,408.4 1001.1,407.3C1002.1,406.3 1001.8,406.1 1002,405.6Z"/>
<g clip-path="url(#c32)"><path d="M975.2,396.2 979.3,397.3 980.3,401.5 981,407.1 982.8,412.3 988.3,415 991.1,419.1 974.7,419.1Z" fill="#93cfd3" style="filter:blur(1.3px)" opacity="0.8"/>
<path d="M1002,405.6C1002.1,405.1 1002.1,404.6 1002,404.1C1001.9,403.7 1001.7,403.2 1001.3,402.7C1000.9,402.2 1000.5,401.8 999.6,401.3C998.7,400.8 997.3,400.2 996,399.6C994.7,399.1 993,398.6 991.6,398.2C990.2,397.9 988.9,397.7 987.6,397.5C986.3,397.4 985,397.2 983.9,397.1C982.7,397.1 981.5,397.1 980.6,397.2C979.8,397.2 979.2,397.3 978.6,397.5C978,397.7 977.5,398 977.1,398.3C976.7,398.6 976.4,399.1 976.2,399.5C976,400 975.9,400.5 975.8,401C975.8,401.5 975.8,402 975.8,402.6C975.8,403.2 975.7,403.4 975.8,404.5C975.9,405.6 976.2,408.2 976.4,409.3C976.5,410.3 976.5,410.1 976.5,410.6C976.6,411.1 976.7,411.8 976.8,412.3C976.9,412.9 977,413.5 977.2,414C977.4,414.5 977.6,415 977.9,415.3C978.2,415.7 978.8,416 979.2,416.2C979.6,416.3 979.9,416.3 980.5,416.4C981,416.4 981.7,416.4 982.5,416.3C983.3,416.2 984.4,416 985.3,415.8C986.3,415.6 987.2,415.2 988.2,414.8C989.3,414.5 990.4,414.3 991.6,413.8C992.9,413.3 994.1,412.9 995.7,411.8C997.2,410.7 1000,408.4 1001.1,407.3C1002.1,406.3 1001.8,406.1 1002,405.6Z" fill="none" stroke="#8ac8cd" stroke-width="1" style="filter:blur(0.5px)" opacity="0.7"/></g>
<ellipse class="nu" cx="991" cy="405.8" rx="4.8" ry="3.6" transform="rotate(-7.3 991 405.8)"/>
<path class="tb" d="M1004.8,652.5 1003.8,652.7 1002.8,652.9 1001.8,653.1 1000.8,653.4 999.8,653.6 998.8,653.8 997.8,654.1 996.8,654.4 995.8,654.7 994.8,654.9 993.9,655.2 993,655.4 992.1,655.6 991.3,655.7 990.5,655.7 989.6,655.7 988.7,655.6 987.8,655.5 986.8,655.3 985.8,655.2 984.8,655 983.8,654.9 982.8,654.7 981.7,654.5 980.6,654.4 979.3,654.4 978.1,654.6 976.8,654.9 975.7,655.4 974.6,656 973.7,656.6 972.8,657.2 972,657.8 971.2,658.3 970.4,658.9 969.6,659.5 968.7,660 967.9,660.6 967.1,661.1 966.3,661.6 965.6,661.9 964.9,662.2 964.2,662.3 963.4,662.4 962.6,662.4 961.7,662.3 960.8,662.2 959.8,662.1 958.9,661.9 958,661.7 957,661.4 956.1,661.2 955.1,660.9 954.1,660.6 953.1,660.3 952,660.1 951,659.9 949.9,659.8 948.9,659.6 947.9,659.5 946.8,659.4 945.8,659.3 944.7,659.2 943.6,659.1 942.5,659.2 941.3,659.2 940.2,659.4 939,659.8 937.8,660.2 936.8,660.8 935.8,661.4 934.9,662.1 934,662.9 933.2,663.8 932.5,664.7 931.9,665.5 931.3,666.4 931,667.1 930.9,667.8 931.2,668.6 931.8,669.1 932.5,669.5 933.3,669.5 934,669.2 934.5,668.7 935.1,667.9 935.7,667.1 936.3,666.4 936.8,665.8 937.4,665.2 938.1,664.7 938.8,664.2 939.5,663.9 940.3,663.6 941,663.4 941.8,663.2 942.7,663.2 943.6,663.2 944.5,663.2 945.4,663.3 946.4,663.4 947.4,663.5 948.4,663.6 949.3,663.8 950.3,663.9 951.2,664.1 952.2,664.3 953.1,664.5 954,664.8 955,665.1 956,665.3 957,665.6 958.1,665.9 959.1,666.1 960.2,666.2 961.3,666.4 962.4,666.5 963.6,666.5 964.8,666.4 966,666.1 967.2,665.7 968.3,665.2 969.3,664.6 970.1,664 971,663.4 971.8,662.9 972.7,662.3 973.5,661.7 974.4,661.1 975.2,660.5 976,660 976.7,659.5 977.5,659.1 978.2,658.8 978.9,658.6 979.6,658.5 980.3,658.5 981.2,658.6 982.1,658.8 983.1,659 984.1,659.1 985.1,659.3 986.1,659.4 987.1,659.6 988.2,659.7 989.3,659.9 990.5,659.9 991.6,659.9 992.8,659.7 993.9,659.5 995,659.2 996,659 997,658.7 997.9,658.4 998.9,658.1 999.8,657.9 1000.8,657.7 1001.7,657.5 1002.7,657.2 1003.7,657 1004.7,656.8 1005.7,656.6 1006.4,656.3 1007,655.7 1007.3,655 1007.3,654.2 1007,653.4 1006.4,652.8 1005.6,652.5Z"/>
<path class="tm" d="M1004.9,652.8 1003.9,653 1002.9,653.2 1001.9,653.4 1000.9,653.6 999.9,653.8 998.9,654.1 997.9,654.3 996.8,654.6 995.9,654.9 994.9,655.2 994,655.4 993.1,655.7 992.2,655.8 991.3,655.9 990.5,656 989.6,655.9 988.7,655.8 987.7,655.7 986.7,655.6 985.7,655.4 984.7,655.3 983.8,655.1 982.8,654.9 981.7,654.8 980.6,654.6 979.3,654.6 978.1,654.8 976.9,655.1 975.8,655.6 974.8,656.2 973.8,656.7 973,657.4 972.1,658 971.3,658.5 970.5,659.1 969.7,659.6 968.8,660.2 968,660.8 967.2,661.3 966.4,661.8 965.7,662.1 965,662.4 964.2,662.6 963.4,662.6 962.6,662.6 961.7,662.6 960.7,662.4 959.8,662.3 958.9,662.1 957.9,661.9 957,661.6 956,661.4 955.1,661.1 954.1,660.8 953,660.6 952,660.3 950.9,660.1 949.9,660 948.9,659.8 947.8,659.7 946.8,659.6 945.8,659.5 944.7,659.4 943.6,659.4 942.5,659.4 941.4,659.5 940.2,659.6 939,660 937.9,660.4 936.9,661 935.9,661.6 935,662.3 934.1,663.1 933.4,663.9 932.7,664.8 932.1,665.6 931.5,666.5 931.2,667.1 931.2,667.7 931.4,668.4 931.9,668.8 932.5,669.1 933.1,669.1 933.7,668.9 934.2,668.4 934.8,667.6 935.4,666.8 935.9,666.1 936.5,665.5 937.2,664.9 937.9,664.3 938.6,663.9 939.3,663.5 940.1,663.2 940.9,663 941.8,662.8 942.6,662.8 943.6,662.8 944.5,662.8 945.5,662.9 946.4,663 947.4,663.1 948.4,663.2 949.4,663.3 950.4,663.5 951.3,663.7 952.2,663.9 953.2,664.1 954.1,664.4 955.1,664.7 956.1,664.9 957.1,665.2 958.1,665.4 959.2,665.6 960.2,665.8 961.3,666 962.4,666.1 963.6,666.1 964.7,666 965.9,665.7 967,665.3 968.1,664.8 969,664.2 969.9,663.6 970.8,663.1 971.6,662.5 972.4,661.9 973.3,661.4 974.1,660.8 975,660.2 975.7,659.6 976.5,659.1 977.3,658.7 978,658.4 978.8,658.2 979.5,658.1 980.4,658.1 981.3,658.2 982.2,658.4 983.2,658.5 984.2,658.7 985.2,658.8 986.2,659 987.2,659.2 988.2,659.3 989.3,659.4 990.5,659.5 991.6,659.4 992.7,659.3 993.8,659.1 994.9,658.8 995.9,658.5 996.9,658.2 997.8,658 998.8,657.7 999.7,657.5 1000.7,657.2 1001.6,657 1002.6,656.8 1003.6,656.6 1004.6,656.4 1005.6,656.2 1006.2,655.9 1006.7,655.4 1007,654.8 1007,654.1 1006.7,653.5 1006.2,653 1005.6,652.7Z"/>
<path class="tl" d="M1005,653.4 1004,653.6 1003,653.8 1002,654 1001,654.2 1000,654.4 999,654.7 998,654.9 997,655.2 996,655.5 995.1,655.8 994.1,656.1 993.2,656.3 992.3,656.5 991.4,656.6 990.5,656.6 989.5,656.6 988.6,656.5 987.6,656.3 986.6,656.2 985.6,656 984.6,655.9 983.7,655.7 982.7,655.6 981.6,655.4 980.5,655.3 979.4,655.3 978.2,655.4 977.1,655.7 976.1,656.2 975.1,656.7 974.2,657.3 973.3,657.9 972.5,658.5 971.7,659.1 970.9,659.6 970,660.2 969.2,660.7 968.4,661.3 967.5,661.8 966.7,662.3 965.9,662.7 965.1,663 964.3,663.2 963.4,663.3 962.5,663.3 961.6,663.2 960.6,663.1 959.7,662.9 958.7,662.7 957.8,662.5 956.8,662.2 955.9,662 954.9,661.7 953.9,661.4 952.9,661.2 951.9,661 950.8,660.8 949.8,660.6 948.8,660.5 947.8,660.3 946.7,660.2 945.7,660.1 944.7,660 943.6,660 942.5,660 941.4,660.1 940.3,660.3 939.2,660.6 938.2,661 937.2,661.5 936.3,662.1 935.4,662.8 934.6,663.5 933.8,664.3 933.2,665.2 932.6,666 932,666.8 931.8,667.2 931.8,667.6 931.9,668 932.2,668.2 932.6,668.4 933,668.4 933.3,668.3 933.6,668 934.2,667.2 934.8,666.4 935.4,665.6 936,664.9 936.7,664.3 937.4,663.7 938.2,663.2 939,662.8 939.9,662.5 940.8,662.2 941.7,662.1 942.6,662 943.6,662 944.6,662.1 945.5,662.1 946.5,662.2 947.5,662.3 948.5,662.5 949.5,662.6 950.5,662.8 951.5,662.9 952.4,663.1 953.4,663.4 954.3,663.7 955.3,663.9 956.3,664.2 957.3,664.5 958.3,664.7 959.3,664.9 960.3,665.1 961.4,665.2 962.4,665.3 963.5,665.3 964.6,665.2 965.7,665 966.7,664.6 967.7,664.1 968.6,663.6 969.5,663 970.3,662.4 971.2,661.9 972,661.3 972.9,660.7 973.7,660.1 974.5,659.6 975.3,659 976.1,658.5 977,658 977.8,657.7 978.6,657.5 979.5,657.3 980.4,657.3 981.3,657.4 982.3,657.6 983.3,657.8 984.3,657.9 985.3,658.1 986.3,658.2 987.3,658.4 988.3,658.5 989.4,658.7 990.5,658.7 991.5,658.7 992.6,658.5 993.7,658.3 994.7,658.1 995.7,657.8 996.6,657.5 997.6,657.2 998.6,657 999.5,656.7 1000.5,656.5 1001.5,656.3 1002.5,656.1 1003.4,655.9 1004.4,655.6 1005.4,655.4 1005.8,655.3 1006.1,655 1006.2,654.6 1006.2,654.2 1006.1,653.8 1005.8,653.5 1005.4,653.4Z" style="filter:blur(0.4px)"/>
<path class="mb" d="M1008.2,657.2 1009.2,657 1010.2,656.9 1011.2,656.8 1012.3,656.7 1013.3,656.6 1014.3,656.5 1015.3,656.3 1016.4,656.2 1017.4,656.1 1018.4,656 1019.4,655.9 1020.5,655.5 1021.4,654.8 1021.9,653.8 1022,652.7 1021.7,651.6 1020.9,650.7 1019.9,650.2 1018.8,650.1 1017.8,650.2 1016.7,650.3 1015.7,650.5 1014.7,650.6 1013.7,650.7 1012.6,650.8 1011.6,650.9 1010.6,651 1009.6,651.2 1008.5,651.3 1007.5,651.4 1006.4,651.7 1005.6,652.5 1005.1,653.5 1005,654.6 1005.3,655.7 1006,656.6 1007,657.1Z"/>
<path class="ml" d="M1008,656 1009.1,655.9 1010.1,655.8 1011.1,655.7 1012.1,655.6 1013.2,655.4 1014.2,655.3 1015.2,655.2 1016.2,655.1 1017.3,655 1018.3,654.8 1019.3,654.7 1019.9,654.5 1020.4,654.1 1020.7,653.6 1020.7,653 1020.5,652.4 1020.1,651.9 1019.6,651.6 1019,651.6 1017.9,651.7 1016.9,651.8 1015.9,651.9 1014.9,652 1013.8,652.1 1012.8,652.3 1011.8,652.4 1010.8,652.5 1009.7,652.6 1008.7,652.7 1007.7,652.9 1007.1,653 1006.6,653.5 1006.3,654 1006.3,654.6 1006.5,655.2 1006.9,655.7 1007.4,656Z" style="filter:blur(0.4px)"/>
<clipPath id="m33"><path d="M1008.2,657.2 1009.2,657 1010.2,656.9 1011.2,656.8 1012.3,656.7 1013.3,656.6 1014.3,656.5 1015.3,656.3 1016.4,656.2 1017.4,656.1 1018.4,656 1019.4,655.9 1020.5,655.5 1021.4,654.8 1021.9,653.8 1022,652.7 1021.7,651.6 1020.9,650.7 1019.9,650.2 1018.8,650.1 1017.8,650.2 1016.7,650.3 1015.7,650.5 1014.7,650.6 1013.7,650.7 1012.6,650.8 1011.6,650.9 1010.6,651 1009.6,651.2 1008.5,651.3 1007.5,651.4 1006.4,651.7 1005.6,652.5 1005.1,653.5 1005,654.6 1005.3,655.7 1006,656.6 1007,657.1Z"/></clipPath>
<g clip-path="url(#m33)"><circle cx="1019.1" cy="653" r="2.7" fill="#93cfd3" style="filter:blur(1.1px)"/></g>
<clipPath id="c34"><path d="M1044.9,651.4C1045.1,650.9 1045,650.4 1044.9,650C1044.8,649.5 1044.6,649 1044.2,648.5C1043.8,648 1043.4,647.6 1042.5,647.1C1041.7,646.6 1040.3,646 1038.9,645.5C1037.6,645 1036,644.4 1034.6,644.1C1033.2,643.7 1031.9,643.6 1030.6,643.4C1029.3,643.2 1028,643.1 1026.9,643C1025.7,643 1024.5,643 1023.6,643.1C1022.8,643.1 1022.2,643.2 1021.6,643.4C1021,643.6 1020.5,643.9 1020.1,644.2C1019.7,644.6 1019.4,645 1019.2,645.5C1019,645.9 1018.9,646.4 1018.8,646.9C1018.8,647.5 1018.8,647.9 1018.8,648.5C1018.8,649.1 1018.7,649.3 1018.8,650.4C1018.9,651.5 1019.3,654.2 1019.4,655.2C1019.5,656.2 1019.5,656 1019.5,656.5C1019.6,657 1019.7,657.7 1019.8,658.3C1019.9,658.8 1020,659.4 1020.2,659.9C1020.4,660.4 1020.6,660.9 1020.9,661.2C1021.3,661.6 1021.8,661.9 1022.2,662.1C1022.6,662.3 1022.9,662.3 1023.5,662.3C1024,662.3 1024.7,662.3 1025.5,662.2C1026.3,662.1 1027.3,661.9 1028.3,661.7C1029.2,661.5 1030.1,661.1 1031.2,660.7C1032.2,660.4 1033.4,660.2 1034.6,659.7C1035.8,659.2 1037,658.8 1038.6,657.7C1040.2,656.6 1043,654.2 1044,653.1C1045.1,652.1 1044.8,651.9 1044.9,651.4Z"/></clipPath>
<path class="hd" d="M1044.9,651.4C1045.1,650.9 1045,650.4 1044.9,650C1044.8,649.5 1044.6,649 1044.2,648.5C1043.8,648 1043.4,647.6 1042.5,647.1C1041.7,646.6 1040.3,646 1038.9,645.5C1037.6,645 1036,644.4 1034.6,644.1C1033.2,643.7 1031.9,643.6 1030.6,643.4C1029.3,643.2 1028,643.1 1026.9,643C1025.7,643 1024.5,643 1023.6,643.1C1022.8,643.1 1022.2,643.2 1021.6,643.4C1021,643.6 1020.5,643.9 1020.1,644.2C1019.7,644.6 1019.4,645 1019.2,645.5C1019,645.9 1018.9,646.4 1018.8,646.9C1018.8,647.5 1018.8,647.9 1018.8,648.5C1018.8,649.1 1018.7,649.3 1018.8,650.4C1018.9,651.5 1019.3,654.2 1019.4,655.2C1019.5,656.2 1019.5,656 1019.5,656.5C1019.6,657 1019.7,657.7 1019.8,658.3C1019.9,658.8 1020,659.4 1020.2,659.9C1020.4,660.4 1020.6,660.9 1020.9,661.2C1021.3,661.6 1021.8,661.9 1022.2,662.1C1022.6,662.3 1022.9,662.3 1023.5,662.3C1024,662.3 1024.7,662.3 1025.5,662.2C1026.3,662.1 1027.3,661.9 1028.3,661.7C1029.2,661.5 1030.1,661.1 1031.2,660.7C1032.2,660.4 1033.4,660.2 1034.6,659.7C1035.8,659.2 1037,658.8 1038.6,657.7C1040.2,656.6 1043,654.2 1044,653.1C1045.1,652.1 1044.8,651.9 1044.9,651.4Z"/>
<g clip-path="url(#c34)"><path d="M1018.2,642.1 1022.3,643.2 1023.3,647.4 1024,653 1025.8,658.2 1031.3,660.8 1034.1,664.9 1017.7,665Z" fill="#93cfd3" style="filter:blur(1.3px)" opacity="0.8"/>
<path d="M1044.9,651.4C1045.1,650.9 1045,650.4 1044.9,650C1044.8,649.5 1044.6,649 1044.2,648.5C1043.8,648 1043.4,647.6 1042.5,647.1C1041.7,646.6 1040.3,646 1038.9,645.5C1037.6,645 1036,644.4 1034.6,644.1C1033.2,643.7 1031.9,643.6 1030.6,643.4C1029.3,643.2 1028,643.1 1026.9,643C1025.7,643 1024.5,643 1023.6,643.1C1022.8,643.1 1022.2,643.2 1021.6,643.4C1021,643.6 1020.5,643.9 1020.1,644.2C1019.7,644.6 1019.4,645 1019.2,645.5C1019,645.9 1018.9,646.4 1018.8,646.9C1018.8,647.5 1018.8,647.9 1018.8,648.5C1018.8,649.1 1018.7,649.3 1018.8,650.4C1018.9,651.5 1019.3,654.2 1019.4,655.2C1019.5,656.2 1019.5,656 1019.5,656.5C1019.6,657 1019.7,657.7 1019.8,658.3C1019.9,658.8 1020,659.4 1020.2,659.9C1020.4,660.4 1020.6,660.9 1020.9,661.2C1021.3,661.6 1021.8,661.9 1022.2,662.1C1022.6,662.3 1022.9,662.3 1023.5,662.3C1024,662.3 1024.7,662.3 1025.5,662.2C1026.3,662.1 1027.3,661.9 1028.3,661.7C1029.2,661.5 1030.1,661.1 1031.2,660.7C1032.2,660.4 1033.4,660.2 1034.6,659.7C1035.8,659.2 1037,658.8 1038.6,657.7C1040.2,656.6 1043,654.2 1044,653.1C1045.1,652.1 1044.8,651.9 1044.9,651.4Z" fill="none" stroke="#8ac8cd" stroke-width="1" style="filter:blur(0.5px)" opacity="0.7"/></g>
<ellipse class="nu" cx="1034" cy="651.6" rx="4.8" ry="3.6" transform="rotate(-7.4 1034 651.6)"/>
<line class="ln" x1="561.4" y1="402.6" x2="561.4" y2="451.7"/>
<line class="ln" x1="390.4" y1="448.8" x2="390.4" y2="502.4"/>
<line class="ln" x1="518.6" y1="455.2" x2="518.6" y2="543.3"/>
<line class="ln" x1="486.2" y1="499.4" x2="486.2" y2="583.3"/>
<line class="ln" x1="97" y1="555.6" x2="97" y2="608.7"/>
<line class="ln" x1="1218.1" y1="399" x2="1218.1" y2="448.6"/>
<line class="ln" x1="1046" y1="445.4" x2="1046" y2="499"/>
<line class="ln" x1="1175.5" y1="451.4" x2="1175.5" y2="540.4"/>
<line class="ln" x1="1142.8" y1="495.7" x2="1142.8" y2="580.2"/>
<line class="ln" x1="750.7" y1="553.2" x2="750.7" y2="606.2"/>
<g class="tx"><text x="335" y="110.2" font-size="83.5" textLength="671.1" lengthAdjust="spacingAndGlyphs">Low Sperm Count</text>
<text x="173" y="224.4" font-size="39" textLength="135.1" lengthAdjust="spacingAndGlyphs">Healthy</text>
<text x="886" y="219.3" font-size="39.5" textLength="310" lengthAdjust="spacingAndGlyphs">Low Sperm Count</text>
<text x="527" y="371.1" font-size="14.7" textLength="69.1" lengthAdjust="spacingAndGlyphs">Acrosomal</text>
<text x="549.4" y="389" font-size="14.7" textLength="24.6" lengthAdjust="spacingAndGlyphs">cap</text>
<text x="367" y="422" font-size="14.7" textLength="46.3" lengthAdjust="spacingAndGlyphs">Middle</text>
<text x="372.2" y="439.3" font-size="14.7" textLength="36" lengthAdjust="spacingAndGlyphs">piece</text>
<text x="491" y="560.7" font-size="14.7" textLength="52.1" lengthAdjust="spacingAndGlyphs">Nucleus</text>
<text x="468.8" y="598.9" font-size="14.7" textLength="34.2" lengthAdjust="spacingAndGlyphs">Head</text>
<text x="83.6" y="551.7" font-size="14.7" textLength="23.3" lengthAdjust="spacingAndGlyphs">Tail</text>
<text x="1183.6" y="367.4" font-size="14.7" textLength="69.7" lengthAdjust="spacingAndGlyphs">Acrosomal</text>
<text x="1206.2" y="385" font-size="14.7" textLength="24.4" lengthAdjust="spacingAndGlyphs">cap</text>
<text x="1022.8" y="423.1" font-size="14.7" textLength="45.7" lengthAdjust="spacingAndGlyphs">Middle</text>
<text x="1028.6" y="440.2" font-size="14.7" textLength="35.1" lengthAdjust="spacingAndGlyphs">piece</text>
<text x="1148.2" y="559.1" font-size="14.7" textLength="52.7" lengthAdjust="spacingAndGlyphs">Nucleus</text>
<text x="1124.6" y="596.5" font-size="14.7" textLength="35.8" lengthAdjust="spacingAndGlyphs">Head</text>
<text x="739.4" y="551" font-size="14.7" textLength="24" lengthAdjust="spacingAndGlyphs">Tail</text></g>
</svg>

</body></html>
